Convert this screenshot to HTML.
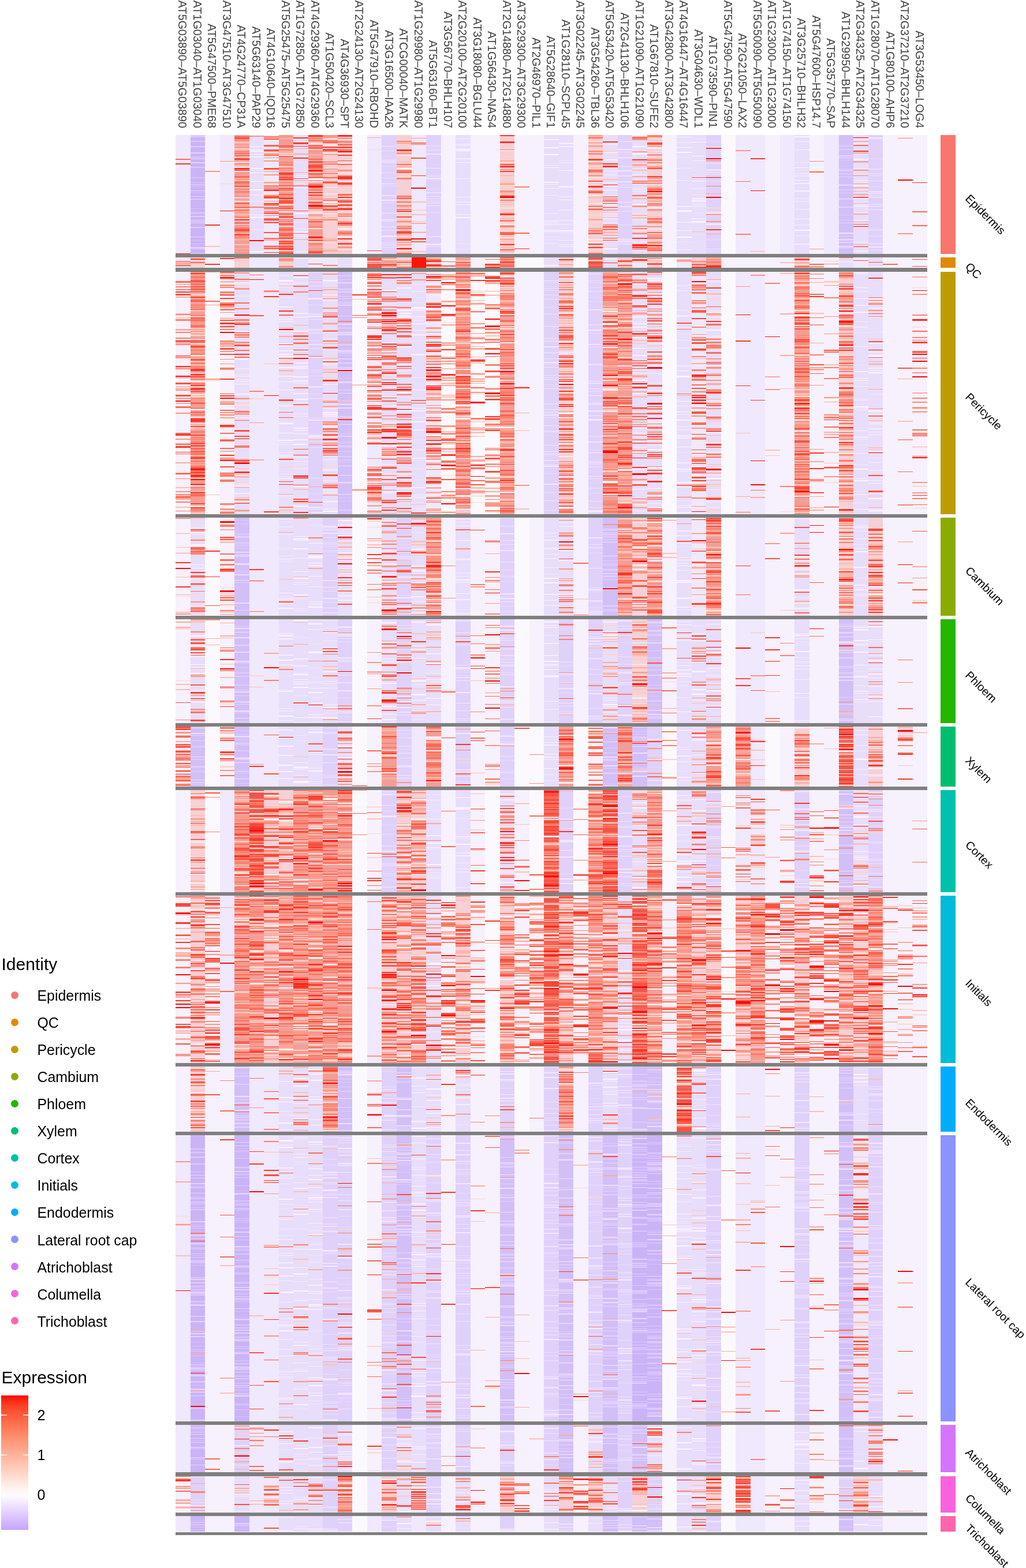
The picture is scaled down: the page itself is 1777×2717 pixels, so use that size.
<!DOCTYPE html>
<html><head><meta charset="utf-8"><style>
html,body{margin:0;padding:0;background:#fff;}
body{width:1777px;height:2717px;position:relative;overflow:hidden;font-family:"Liberation Sans",Arial,Helvetica,sans-serif;}
.cl{position:absolute;top:221.5px;font-size:19.8px;line-height:1;color:#424242;white-space:nowrap;transform-origin:0 0;transform:rotate(90deg) translate(-100%,-50%);}
.rl{position:absolute;left:1674.8px;font-size:19.8px;color:#000;white-space:nowrap;transform-origin:0 50%;transform:translateY(-50%) rotate(45deg);line-height:1;}
.lt{position:absolute;left:2.5px;font-size:30px;color:#000;white-space:nowrap;line-height:1;}
.li{position:absolute;left:64.5px;font-size:24.9px;color:#000;white-space:nowrap;line-height:1;transform:translateY(-50%);}
.dot{position:absolute;left:18.9px;width:13.5px;height:13.5px;border-radius:50%;}
.tk{position:absolute;font-size:25.1px;color:#000;line-height:1;transform:translateY(-50%);left:64.5px;margin-top:1px;}
svg{position:absolute;left:0;top:0;}
</style></head><body>
<svg width="1777" height="2717" viewBox="0 0 1777 2717" shape-rendering="crispEdges">
<defs><linearGradient id="eg" x1="0" y1="0" x2="0" y2="1"><stop offset="0.000" stop-color="#ff0000"/><stop offset="0.050" stop-color="#ff3119"/><stop offset="0.100" stop-color="#ff492b"/><stop offset="0.150" stop-color="#ff5c3b"/><stop offset="0.200" stop-color="#ff6d4b"/><stop offset="0.250" stop-color="#ff7c5b"/><stop offset="0.300" stop-color="#ff8b6b"/><stop offset="0.350" stop-color="#ff997b"/><stop offset="0.400" stop-color="#ffa68b"/><stop offset="0.450" stop-color="#ffb49c"/><stop offset="0.500" stop-color="#ffc1ac"/><stop offset="0.550" stop-color="#ffcebd"/><stop offset="0.600" stop-color="#ffdbce"/><stop offset="0.650" stop-color="#ffe8e0"/><stop offset="0.700" stop-color="#fff5f1"/><stop offset="0.750" stop-color="#fdfbff"/><stop offset="0.800" stop-color="#f3e9ff"/><stop offset="0.850" stop-color="#e8d8ff"/><stop offset="0.900" stop-color="#ddc6ff"/><stop offset="0.950" stop-color="#d2b5ff"/><stop offset="1.000" stop-color="#c6a4ff"/></linearGradient></defs>
<rect x="304.0" y="234.0" width="25.6" height="206.0" fill="#f0e8fc"/>
<rect x="329.5" y="234.0" width="25.6" height="206.0" fill="#cab4f7"/>
<rect x="355.1" y="234.0" width="25.6" height="206.0" fill="#f6f1fd"/>
<rect x="380.6" y="234.0" width="25.6" height="206.0" fill="#f0e8fc"/>
<rect x="406.1" y="234.0" width="25.6" height="206.0" fill="#f29e98"/>
<rect x="431.6" y="234.0" width="25.6" height="206.0" fill="#e8ddfa"/>
<rect x="457.2" y="234.0" width="25.6" height="206.0" fill="#f0e8fc"/>
<rect x="482.7" y="234.0" width="25.6" height="206.0" fill="#f29e98"/>
<rect x="508.2" y="234.0" width="25.6" height="206.0" fill="#e8ddfa"/>
<rect x="533.8" y="234.0" width="25.6" height="206.0" fill="#f29e98"/>
<rect x="559.3" y="234.0" width="25.6" height="206.0" fill="#f6d0d4"/>
<rect x="584.8" y="234.0" width="25.6" height="206.0" fill="#f6d0d4"/>
<rect x="610.4" y="234.0" width="25.6" height="206.0" fill="#fcf9fe"/>
<rect x="635.9" y="234.0" width="25.6" height="206.0" fill="#f0e8fc"/>
<rect x="661.4" y="234.0" width="25.6" height="206.0" fill="#dfd1f9"/>
<rect x="686.9" y="234.0" width="25.6" height="206.0" fill="#f6d0d4"/>
<rect x="712.5" y="234.0" width="25.6" height="206.0" fill="#f0e8fc"/>
<rect x="738.0" y="234.0" width="25.6" height="206.0" fill="#dfd1f9"/>
<rect x="763.5" y="234.0" width="25.6" height="206.0" fill="#f6f1fd"/>
<rect x="789.1" y="234.0" width="25.6" height="206.0" fill="#e8ddfa"/>
<rect x="814.6" y="234.0" width="25.6" height="206.0" fill="#f6f1fd"/>
<rect x="840.1" y="234.0" width="25.6" height="206.0" fill="#f6f1fd"/>
<rect x="865.6" y="234.0" width="25.6" height="206.0" fill="#f6d0d4"/>
<rect x="891.2" y="234.0" width="25.6" height="206.0" fill="#f6f1fd"/>
<rect x="916.7" y="234.0" width="25.6" height="206.0" fill="#f6f1fd"/>
<rect x="942.2" y="234.0" width="25.6" height="206.0" fill="#e8ddfa"/>
<rect x="967.8" y="234.0" width="25.6" height="206.0" fill="#e8ddfa"/>
<rect x="993.3" y="234.0" width="25.6" height="206.0" fill="#f6f1fd"/>
<rect x="1018.8" y="234.0" width="25.6" height="206.0" fill="#f6d0d4"/>
<rect x="1044.4" y="234.0" width="25.6" height="206.0" fill="#e8ddfa"/>
<rect x="1069.9" y="234.0" width="25.6" height="206.0" fill="#dfd1f9"/>
<rect x="1095.4" y="234.0" width="25.6" height="206.0" fill="#e8ddfa"/>
<rect x="1120.9" y="234.0" width="25.6" height="206.0" fill="#f6d0d4"/>
<rect x="1146.5" y="234.0" width="25.6" height="206.0" fill="#f6f1fd"/>
<rect x="1172.0" y="234.0" width="25.6" height="206.0" fill="#e8ddfa"/>
<rect x="1197.5" y="234.0" width="25.6" height="206.0" fill="#e8ddfa"/>
<rect x="1223.1" y="234.0" width="25.6" height="206.0" fill="#dfd1f9"/>
<rect x="1248.6" y="234.0" width="25.6" height="206.0" fill="#fcf9fe"/>
<rect x="1274.1" y="234.0" width="25.6" height="206.0" fill="#f0e8fc"/>
<rect x="1299.6" y="234.0" width="25.6" height="206.0" fill="#f0e8fc"/>
<rect x="1325.2" y="234.0" width="25.6" height="206.0" fill="#f6f1fd"/>
<rect x="1350.7" y="234.0" width="25.6" height="206.0" fill="#f0e8fc"/>
<rect x="1376.2" y="234.0" width="25.6" height="206.0" fill="#e8ddfa"/>
<rect x="1401.8" y="234.0" width="25.6" height="206.0" fill="#f6f1fd"/>
<rect x="1427.3" y="234.0" width="25.6" height="206.0" fill="#f0e8fc"/>
<rect x="1452.8" y="234.0" width="25.6" height="206.0" fill="#d2bff7"/>
<rect x="1478.4" y="234.0" width="25.6" height="206.0" fill="#e8ddfa"/>
<rect x="1503.9" y="234.0" width="25.6" height="206.0" fill="#dfd1f9"/>
<rect x="1529.4" y="234.0" width="25.6" height="206.0" fill="#f6f1fd"/>
<rect x="1554.9" y="234.0" width="25.6" height="206.0" fill="#f6f1fd"/>
<rect x="1580.5" y="234.0" width="25.6" height="206.0" fill="#f6f1fd"/>
<rect x="304.0" y="446.0" width="25.6" height="18.0" fill="#f0e8fc"/>
<rect x="329.5" y="446.0" width="25.6" height="18.0" fill="#f6d0d4"/>
<rect x="355.1" y="446.0" width="25.6" height="18.0" fill="#f6f1fd"/>
<rect x="380.6" y="446.0" width="25.6" height="18.0" fill="#f6f1fd"/>
<rect x="406.1" y="446.0" width="25.6" height="18.0" fill="#f6d0d4"/>
<rect x="431.6" y="446.0" width="25.6" height="18.0" fill="#f0e8fc"/>
<rect x="457.2" y="446.0" width="25.6" height="18.0" fill="#f0e8fc"/>
<rect x="482.7" y="446.0" width="25.6" height="18.0" fill="#f6d0d4"/>
<rect x="508.2" y="446.0" width="25.6" height="18.0" fill="#e8ddfa"/>
<rect x="533.8" y="446.0" width="25.6" height="18.0" fill="#f0e8fc"/>
<rect x="559.3" y="446.0" width="25.6" height="18.0" fill="#f0e8fc"/>
<rect x="584.8" y="446.0" width="25.6" height="18.0" fill="#e8ddfa"/>
<rect x="610.4" y="446.0" width="25.6" height="18.0" fill="#fcf9fe"/>
<rect x="635.9" y="446.0" width="25.6" height="18.0" fill="#ea5850"/>
<rect x="661.4" y="446.0" width="25.6" height="18.0" fill="#f29e98"/>
<rect x="686.9" y="446.0" width="25.6" height="18.0" fill="#f6d0d4"/>
<rect x="712.5" y="446.0" width="25.6" height="18.0" fill="#ff140a"/>
<rect x="738.0" y="446.0" width="25.6" height="18.0" fill="#f6d0d4"/>
<rect x="763.5" y="446.0" width="25.6" height="18.0" fill="#f6f1fd"/>
<rect x="789.1" y="446.0" width="25.6" height="18.0" fill="#f29e98"/>
<rect x="814.6" y="446.0" width="25.6" height="18.0" fill="#f6f1fd"/>
<rect x="840.1" y="446.0" width="25.6" height="18.0" fill="#f6f1fd"/>
<rect x="865.6" y="446.0" width="25.6" height="18.0" fill="#f29e98"/>
<rect x="891.2" y="446.0" width="25.6" height="18.0" fill="#fcf9fe"/>
<rect x="916.7" y="446.0" width="25.6" height="18.0" fill="#fcf9fe"/>
<rect x="942.2" y="446.0" width="25.6" height="18.0" fill="#e8ddfa"/>
<rect x="967.8" y="446.0" width="25.6" height="18.0" fill="#f6d0d4"/>
<rect x="993.3" y="446.0" width="25.6" height="18.0" fill="#fcf9fe"/>
<rect x="1018.8" y="446.0" width="25.6" height="18.0" fill="#ea5850"/>
<rect x="1044.4" y="446.0" width="25.6" height="18.0" fill="#e8ddfa"/>
<rect x="1069.9" y="446.0" width="25.6" height="18.0" fill="#f6d0d4"/>
<rect x="1095.4" y="446.0" width="25.6" height="18.0" fill="#f0e8fc"/>
<rect x="1120.9" y="446.0" width="25.6" height="18.0" fill="#f6d0d4"/>
<rect x="1146.5" y="446.0" width="25.6" height="18.0" fill="#fcf9fe"/>
<rect x="1172.0" y="446.0" width="25.6" height="18.0" fill="#f0e8fc"/>
<rect x="1197.5" y="446.0" width="25.6" height="18.0" fill="#f6d0d4"/>
<rect x="1223.1" y="446.0" width="25.6" height="18.0" fill="#f29e98"/>
<rect x="1248.6" y="446.0" width="25.6" height="18.0" fill="#f6f1fd"/>
<rect x="1274.1" y="446.0" width="25.6" height="18.0" fill="#f6f1fd"/>
<rect x="1299.6" y="446.0" width="25.6" height="18.0" fill="#f6f1fd"/>
<rect x="1325.2" y="446.0" width="25.6" height="18.0" fill="#f6f1fd"/>
<rect x="1350.7" y="446.0" width="25.6" height="18.0" fill="#f6f1fd"/>
<rect x="1376.2" y="446.0" width="25.6" height="18.0" fill="#f6d0d4"/>
<rect x="1401.8" y="446.0" width="25.6" height="18.0" fill="#f6f1fd"/>
<rect x="1427.3" y="446.0" width="25.6" height="18.0" fill="#f6f1fd"/>
<rect x="1452.8" y="446.0" width="25.6" height="18.0" fill="#e8ddfa"/>
<rect x="1478.4" y="446.0" width="25.6" height="18.0" fill="#f0e8fc"/>
<rect x="1503.9" y="446.0" width="25.6" height="18.0" fill="#e8ddfa"/>
<rect x="1529.4" y="446.0" width="25.6" height="18.0" fill="#f6f1fd"/>
<rect x="1554.9" y="446.0" width="25.6" height="18.0" fill="#f6f1fd"/>
<rect x="1580.5" y="446.0" width="25.6" height="18.0" fill="#f6f1fd"/>
<rect x="304.0" y="470.5" width="25.6" height="420.0" fill="#f6f1fd"/>
<rect x="329.5" y="470.5" width="25.6" height="420.0" fill="#f29e98"/>
<rect x="355.1" y="470.5" width="25.6" height="420.0" fill="#fcf9fe"/>
<rect x="380.6" y="470.5" width="25.6" height="420.0" fill="#f6f1fd"/>
<rect x="406.1" y="470.5" width="25.6" height="420.0" fill="#e8ddfa"/>
<rect x="431.6" y="470.5" width="25.6" height="420.0" fill="#f0e8fc"/>
<rect x="457.2" y="470.5" width="25.6" height="420.0" fill="#f0e8fc"/>
<rect x="482.7" y="470.5" width="25.6" height="420.0" fill="#e8ddfa"/>
<rect x="508.2" y="470.5" width="25.6" height="420.0" fill="#e8ddfa"/>
<rect x="533.8" y="470.5" width="25.6" height="420.0" fill="#dfd1f9"/>
<rect x="559.3" y="470.5" width="25.6" height="420.0" fill="#e8ddfa"/>
<rect x="584.8" y="470.5" width="25.6" height="420.0" fill="#d2bff7"/>
<rect x="610.4" y="470.5" width="25.6" height="420.0" fill="#fcf9fe"/>
<rect x="635.9" y="470.5" width="25.6" height="420.0" fill="#f0e8fc"/>
<rect x="661.4" y="470.5" width="25.6" height="420.0" fill="#e8ddfa"/>
<rect x="686.9" y="470.5" width="25.6" height="420.0" fill="#e8ddfa"/>
<rect x="712.5" y="470.5" width="25.6" height="420.0" fill="#e8ddfa"/>
<rect x="738.0" y="470.5" width="25.6" height="420.0" fill="#f0e8fc"/>
<rect x="763.5" y="470.5" width="25.6" height="420.0" fill="#fcf9fe"/>
<rect x="789.1" y="470.5" width="25.6" height="420.0" fill="#f29e98"/>
<rect x="814.6" y="470.5" width="25.6" height="420.0" fill="#fcf9fe"/>
<rect x="840.1" y="470.5" width="25.6" height="420.0" fill="#fcf9fe"/>
<rect x="865.6" y="470.5" width="25.6" height="420.0" fill="#f29e98"/>
<rect x="891.2" y="470.5" width="25.6" height="420.0" fill="#f6f1fd"/>
<rect x="916.7" y="470.5" width="25.6" height="420.0" fill="#f6f1fd"/>
<rect x="942.2" y="470.5" width="25.6" height="420.0" fill="#dfd1f9"/>
<rect x="967.8" y="470.5" width="25.6" height="420.0" fill="#f6d0d4"/>
<rect x="993.3" y="470.5" width="25.6" height="420.0" fill="#f6f1fd"/>
<rect x="1018.8" y="470.5" width="25.6" height="420.0" fill="#dfd1f9"/>
<rect x="1044.4" y="470.5" width="25.6" height="420.0" fill="#f29e98"/>
<rect x="1069.9" y="470.5" width="25.6" height="420.0" fill="#f29e98"/>
<rect x="1095.4" y="470.5" width="25.6" height="420.0" fill="#e8ddfa"/>
<rect x="1120.9" y="470.5" width="25.6" height="420.0" fill="#e8ddfa"/>
<rect x="1146.5" y="470.5" width="25.6" height="420.0" fill="#fcf9fe"/>
<rect x="1172.0" y="470.5" width="25.6" height="420.0" fill="#e8ddfa"/>
<rect x="1197.5" y="470.5" width="25.6" height="420.0" fill="#f0e8fc"/>
<rect x="1223.1" y="470.5" width="25.6" height="420.0" fill="#e8ddfa"/>
<rect x="1248.6" y="470.5" width="25.6" height="420.0" fill="#fcf9fe"/>
<rect x="1274.1" y="470.5" width="25.6" height="420.0" fill="#f0e8fc"/>
<rect x="1299.6" y="470.5" width="25.6" height="420.0" fill="#f0e8fc"/>
<rect x="1325.2" y="470.5" width="25.6" height="420.0" fill="#f6f1fd"/>
<rect x="1350.7" y="470.5" width="25.6" height="420.0" fill="#f6f1fd"/>
<rect x="1376.2" y="470.5" width="25.6" height="420.0" fill="#f29e98"/>
<rect x="1401.8" y="470.5" width="25.6" height="420.0" fill="#f6f1fd"/>
<rect x="1427.3" y="470.5" width="25.6" height="420.0" fill="#f6f1fd"/>
<rect x="1452.8" y="470.5" width="25.6" height="420.0" fill="#f6d0d4"/>
<rect x="1478.4" y="470.5" width="25.6" height="420.0" fill="#e8ddfa"/>
<rect x="1503.9" y="470.5" width="25.6" height="420.0" fill="#e8ddfa"/>
<rect x="1529.4" y="470.5" width="25.6" height="420.0" fill="#f6f1fd"/>
<rect x="1554.9" y="470.5" width="25.6" height="420.0" fill="#f6f1fd"/>
<rect x="1580.5" y="470.5" width="25.6" height="420.0" fill="#f6f1fd"/>
<rect x="304.0" y="896.5" width="25.6" height="170.0" fill="#f6f1fd"/>
<rect x="329.5" y="896.5" width="25.6" height="170.0" fill="#e8ddfa"/>
<rect x="355.1" y="896.5" width="25.6" height="170.0" fill="#fcf9fe"/>
<rect x="380.6" y="896.5" width="25.6" height="170.0" fill="#f6f1fd"/>
<rect x="406.1" y="896.5" width="25.6" height="170.0" fill="#d2bff7"/>
<rect x="431.6" y="896.5" width="25.6" height="170.0" fill="#f0e8fc"/>
<rect x="457.2" y="896.5" width="25.6" height="170.0" fill="#f0e8fc"/>
<rect x="482.7" y="896.5" width="25.6" height="170.0" fill="#e8ddfa"/>
<rect x="508.2" y="896.5" width="25.6" height="170.0" fill="#e8ddfa"/>
<rect x="533.8" y="896.5" width="25.6" height="170.0" fill="#e8ddfa"/>
<rect x="559.3" y="896.5" width="25.6" height="170.0" fill="#dfd1f9"/>
<rect x="584.8" y="896.5" width="25.6" height="170.0" fill="#e8ddfa"/>
<rect x="610.4" y="896.5" width="25.6" height="170.0" fill="#fcf9fe"/>
<rect x="635.9" y="896.5" width="25.6" height="170.0" fill="#f6f1fd"/>
<rect x="661.4" y="896.5" width="25.6" height="170.0" fill="#e8ddfa"/>
<rect x="686.9" y="896.5" width="25.6" height="170.0" fill="#dfd1f9"/>
<rect x="712.5" y="896.5" width="25.6" height="170.0" fill="#e8ddfa"/>
<rect x="738.0" y="896.5" width="25.6" height="170.0" fill="#f29e98"/>
<rect x="763.5" y="896.5" width="25.6" height="170.0" fill="#f6f1fd"/>
<rect x="789.1" y="896.5" width="25.6" height="170.0" fill="#e8ddfa"/>
<rect x="814.6" y="896.5" width="25.6" height="170.0" fill="#f6f1fd"/>
<rect x="840.1" y="896.5" width="25.6" height="170.0" fill="#f6f1fd"/>
<rect x="865.6" y="896.5" width="25.6" height="170.0" fill="#dfd1f9"/>
<rect x="891.2" y="896.5" width="25.6" height="170.0" fill="#fcf9fe"/>
<rect x="916.7" y="896.5" width="25.6" height="170.0" fill="#f6f1fd"/>
<rect x="942.2" y="896.5" width="25.6" height="170.0" fill="#e8ddfa"/>
<rect x="967.8" y="896.5" width="25.6" height="170.0" fill="#e8ddfa"/>
<rect x="993.3" y="896.5" width="25.6" height="170.0" fill="#f6f1fd"/>
<rect x="1018.8" y="896.5" width="25.6" height="170.0" fill="#dfd1f9"/>
<rect x="1044.4" y="896.5" width="25.6" height="170.0" fill="#d2bff7"/>
<rect x="1069.9" y="896.5" width="25.6" height="170.0" fill="#f29e98"/>
<rect x="1095.4" y="896.5" width="25.6" height="170.0" fill="#f6d0d4"/>
<rect x="1120.9" y="896.5" width="25.6" height="170.0" fill="#f29e98"/>
<rect x="1146.5" y="896.5" width="25.6" height="170.0" fill="#f6f1fd"/>
<rect x="1172.0" y="896.5" width="25.6" height="170.0" fill="#e8ddfa"/>
<rect x="1197.5" y="896.5" width="25.6" height="170.0" fill="#f0e8fc"/>
<rect x="1223.1" y="896.5" width="25.6" height="170.0" fill="#f29e98"/>
<rect x="1248.6" y="896.5" width="25.6" height="170.0" fill="#fcf9fe"/>
<rect x="1274.1" y="896.5" width="25.6" height="170.0" fill="#f0e8fc"/>
<rect x="1299.6" y="896.5" width="25.6" height="170.0" fill="#f0e8fc"/>
<rect x="1325.2" y="896.5" width="25.6" height="170.0" fill="#f6f1fd"/>
<rect x="1350.7" y="896.5" width="25.6" height="170.0" fill="#f6f1fd"/>
<rect x="1376.2" y="896.5" width="25.6" height="170.0" fill="#e8ddfa"/>
<rect x="1401.8" y="896.5" width="25.6" height="170.0" fill="#f6f1fd"/>
<rect x="1427.3" y="896.5" width="25.6" height="170.0" fill="#f6f1fd"/>
<rect x="1452.8" y="896.5" width="25.6" height="170.0" fill="#f6d0d4"/>
<rect x="1478.4" y="896.5" width="25.6" height="170.0" fill="#e8ddfa"/>
<rect x="1503.9" y="896.5" width="25.6" height="170.0" fill="#f6d0d4"/>
<rect x="1529.4" y="896.5" width="25.6" height="170.0" fill="#f6f1fd"/>
<rect x="1554.9" y="896.5" width="25.6" height="170.0" fill="#f6f1fd"/>
<rect x="1580.5" y="896.5" width="25.6" height="170.0" fill="#f6f1fd"/>
<rect x="304.0" y="1072.5" width="25.6" height="180.0" fill="#f6f1fd"/>
<rect x="329.5" y="1072.5" width="25.6" height="180.0" fill="#e8ddfa"/>
<rect x="355.1" y="1072.5" width="25.6" height="180.0" fill="#fcf9fe"/>
<rect x="380.6" y="1072.5" width="25.6" height="180.0" fill="#f6f1fd"/>
<rect x="406.1" y="1072.5" width="25.6" height="180.0" fill="#d2bff7"/>
<rect x="431.6" y="1072.5" width="25.6" height="180.0" fill="#f0e8fc"/>
<rect x="457.2" y="1072.5" width="25.6" height="180.0" fill="#f0e8fc"/>
<rect x="482.7" y="1072.5" width="25.6" height="180.0" fill="#e8ddfa"/>
<rect x="508.2" y="1072.5" width="25.6" height="180.0" fill="#e8ddfa"/>
<rect x="533.8" y="1072.5" width="25.6" height="180.0" fill="#e8ddfa"/>
<rect x="559.3" y="1072.5" width="25.6" height="180.0" fill="#e8ddfa"/>
<rect x="584.8" y="1072.5" width="25.6" height="180.0" fill="#dfd1f9"/>
<rect x="610.4" y="1072.5" width="25.6" height="180.0" fill="#fcf9fe"/>
<rect x="635.9" y="1072.5" width="25.6" height="180.0" fill="#f6f1fd"/>
<rect x="661.4" y="1072.5" width="25.6" height="180.0" fill="#e8ddfa"/>
<rect x="686.9" y="1072.5" width="25.6" height="180.0" fill="#dfd1f9"/>
<rect x="712.5" y="1072.5" width="25.6" height="180.0" fill="#e8ddfa"/>
<rect x="738.0" y="1072.5" width="25.6" height="180.0" fill="#e8ddfa"/>
<rect x="763.5" y="1072.5" width="25.6" height="180.0" fill="#f6f1fd"/>
<rect x="789.1" y="1072.5" width="25.6" height="180.0" fill="#dfd1f9"/>
<rect x="814.6" y="1072.5" width="25.6" height="180.0" fill="#f6f1fd"/>
<rect x="840.1" y="1072.5" width="25.6" height="180.0" fill="#f6f1fd"/>
<rect x="865.6" y="1072.5" width="25.6" height="180.0" fill="#dfd1f9"/>
<rect x="891.2" y="1072.5" width="25.6" height="180.0" fill="#fcf9fe"/>
<rect x="916.7" y="1072.5" width="25.6" height="180.0" fill="#f6f1fd"/>
<rect x="942.2" y="1072.5" width="25.6" height="180.0" fill="#e8ddfa"/>
<rect x="967.8" y="1072.5" width="25.6" height="180.0" fill="#dfd1f9"/>
<rect x="993.3" y="1072.5" width="25.6" height="180.0" fill="#f6f1fd"/>
<rect x="1018.8" y="1072.5" width="25.6" height="180.0" fill="#dfd1f9"/>
<rect x="1044.4" y="1072.5" width="25.6" height="180.0" fill="#e8ddfa"/>
<rect x="1069.9" y="1072.5" width="25.6" height="180.0" fill="#dfd1f9"/>
<rect x="1095.4" y="1072.5" width="25.6" height="180.0" fill="#f6d0d4"/>
<rect x="1120.9" y="1072.5" width="25.6" height="180.0" fill="#d2bff7"/>
<rect x="1146.5" y="1072.5" width="25.6" height="180.0" fill="#f6f1fd"/>
<rect x="1172.0" y="1072.5" width="25.6" height="180.0" fill="#e8ddfa"/>
<rect x="1197.5" y="1072.5" width="25.6" height="180.0" fill="#e8ddfa"/>
<rect x="1223.1" y="1072.5" width="25.6" height="180.0" fill="#e8ddfa"/>
<rect x="1248.6" y="1072.5" width="25.6" height="180.0" fill="#fcf9fe"/>
<rect x="1274.1" y="1072.5" width="25.6" height="180.0" fill="#f0e8fc"/>
<rect x="1299.6" y="1072.5" width="25.6" height="180.0" fill="#f0e8fc"/>
<rect x="1325.2" y="1072.5" width="25.6" height="180.0" fill="#f6f1fd"/>
<rect x="1350.7" y="1072.5" width="25.6" height="180.0" fill="#f6f1fd"/>
<rect x="1376.2" y="1072.5" width="25.6" height="180.0" fill="#e8ddfa"/>
<rect x="1401.8" y="1072.5" width="25.6" height="180.0" fill="#f6f1fd"/>
<rect x="1427.3" y="1072.5" width="25.6" height="180.0" fill="#f6f1fd"/>
<rect x="1452.8" y="1072.5" width="25.6" height="180.0" fill="#d2bff7"/>
<rect x="1478.4" y="1072.5" width="25.6" height="180.0" fill="#e8ddfa"/>
<rect x="1503.9" y="1072.5" width="25.6" height="180.0" fill="#e8ddfa"/>
<rect x="1529.4" y="1072.5" width="25.6" height="180.0" fill="#f6f1fd"/>
<rect x="1554.9" y="1072.5" width="25.6" height="180.0" fill="#f6f1fd"/>
<rect x="1580.5" y="1072.5" width="25.6" height="180.0" fill="#f6f1fd"/>
<rect x="304.0" y="1258.5" width="25.6" height="104.0" fill="#f6f1fd"/>
<rect x="329.5" y="1258.5" width="25.6" height="104.0" fill="#d2bff7"/>
<rect x="355.1" y="1258.5" width="25.6" height="104.0" fill="#fcf9fe"/>
<rect x="380.6" y="1258.5" width="25.6" height="104.0" fill="#f6f1fd"/>
<rect x="406.1" y="1258.5" width="25.6" height="104.0" fill="#d2bff7"/>
<rect x="431.6" y="1258.5" width="25.6" height="104.0" fill="#f0e8fc"/>
<rect x="457.2" y="1258.5" width="25.6" height="104.0" fill="#f0e8fc"/>
<rect x="482.7" y="1258.5" width="25.6" height="104.0" fill="#e8ddfa"/>
<rect x="508.2" y="1258.5" width="25.6" height="104.0" fill="#e8ddfa"/>
<rect x="533.8" y="1258.5" width="25.6" height="104.0" fill="#e8ddfa"/>
<rect x="559.3" y="1258.5" width="25.6" height="104.0" fill="#dfd1f9"/>
<rect x="584.8" y="1258.5" width="25.6" height="104.0" fill="#e8ddfa"/>
<rect x="610.4" y="1258.5" width="25.6" height="104.0" fill="#fcf9fe"/>
<rect x="635.9" y="1258.5" width="25.6" height="104.0" fill="#f6f1fd"/>
<rect x="661.4" y="1258.5" width="25.6" height="104.0" fill="#f29e98"/>
<rect x="686.9" y="1258.5" width="25.6" height="104.0" fill="#dfd1f9"/>
<rect x="712.5" y="1258.5" width="25.6" height="104.0" fill="#f0e8fc"/>
<rect x="738.0" y="1258.5" width="25.6" height="104.0" fill="#f29e98"/>
<rect x="763.5" y="1258.5" width="25.6" height="104.0" fill="#f6f1fd"/>
<rect x="789.1" y="1258.5" width="25.6" height="104.0" fill="#dfd1f9"/>
<rect x="814.6" y="1258.5" width="25.6" height="104.0" fill="#f6f1fd"/>
<rect x="840.1" y="1258.5" width="25.6" height="104.0" fill="#f6f1fd"/>
<rect x="865.6" y="1258.5" width="25.6" height="104.0" fill="#dfd1f9"/>
<rect x="891.2" y="1258.5" width="25.6" height="104.0" fill="#fcf9fe"/>
<rect x="916.7" y="1258.5" width="25.6" height="104.0" fill="#fcf9fe"/>
<rect x="942.2" y="1258.5" width="25.6" height="104.0" fill="#e8ddfa"/>
<rect x="967.8" y="1258.5" width="25.6" height="104.0" fill="#f29e98"/>
<rect x="993.3" y="1258.5" width="25.6" height="104.0" fill="#fcf9fe"/>
<rect x="1018.8" y="1258.5" width="25.6" height="104.0" fill="#f6f1fd"/>
<rect x="1044.4" y="1258.5" width="25.6" height="104.0" fill="#d2bff7"/>
<rect x="1069.9" y="1258.5" width="25.6" height="104.0" fill="#f29e98"/>
<rect x="1095.4" y="1258.5" width="25.6" height="104.0" fill="#d2bff7"/>
<rect x="1120.9" y="1258.5" width="25.6" height="104.0" fill="#dfd1f9"/>
<rect x="1146.5" y="1258.5" width="25.6" height="104.0" fill="#fcf9fe"/>
<rect x="1172.0" y="1258.5" width="25.6" height="104.0" fill="#e8ddfa"/>
<rect x="1197.5" y="1258.5" width="25.6" height="104.0" fill="#e8ddfa"/>
<rect x="1223.1" y="1258.5" width="25.6" height="104.0" fill="#f29e98"/>
<rect x="1248.6" y="1258.5" width="25.6" height="104.0" fill="#fcf9fe"/>
<rect x="1274.1" y="1258.5" width="25.6" height="104.0" fill="#f29e98"/>
<rect x="1299.6" y="1258.5" width="25.6" height="104.0" fill="#f0e8fc"/>
<rect x="1325.2" y="1258.5" width="25.6" height="104.0" fill="#fcf9fe"/>
<rect x="1350.7" y="1258.5" width="25.6" height="104.0" fill="#f6f1fd"/>
<rect x="1376.2" y="1258.5" width="25.6" height="104.0" fill="#f6d0d4"/>
<rect x="1401.8" y="1258.5" width="25.6" height="104.0" fill="#f6f1fd"/>
<rect x="1427.3" y="1258.5" width="25.6" height="104.0" fill="#f6f1fd"/>
<rect x="1452.8" y="1258.5" width="25.6" height="104.0" fill="#ea5850"/>
<rect x="1478.4" y="1258.5" width="25.6" height="104.0" fill="#e8ddfa"/>
<rect x="1503.9" y="1258.5" width="25.6" height="104.0" fill="#f6d0d4"/>
<rect x="1529.4" y="1258.5" width="25.6" height="104.0" fill="#f6f1fd"/>
<rect x="1554.9" y="1258.5" width="25.6" height="26.0" fill="#f6d0d4"/>
<rect x="1554.9" y="1284.5" width="25.6" height="78.0" fill="#f6f1fd"/>
<rect x="1580.5" y="1258.5" width="25.6" height="104.0" fill="#f6f1fd"/>
<rect x="304.0" y="1368.5" width="25.6" height="177.0" fill="#f6f1fd"/>
<rect x="329.5" y="1368.5" width="25.6" height="177.0" fill="#f6d0d4"/>
<rect x="355.1" y="1368.5" width="25.6" height="177.0" fill="#fcf9fe"/>
<rect x="380.6" y="1368.5" width="25.6" height="177.0" fill="#f0e8fc"/>
<rect x="406.1" y="1368.5" width="25.6" height="177.0" fill="#f29e98"/>
<rect x="431.6" y="1368.5" width="25.6" height="177.0" fill="#ea5850"/>
<rect x="457.2" y="1368.5" width="25.6" height="177.0" fill="#f6d0d4"/>
<rect x="482.7" y="1368.5" width="25.6" height="177.0" fill="#f6d0d4"/>
<rect x="508.2" y="1368.5" width="25.6" height="177.0" fill="#f29e98"/>
<rect x="533.8" y="1368.5" width="25.6" height="177.0" fill="#f29e98"/>
<rect x="559.3" y="1368.5" width="25.6" height="177.0" fill="#f29e98"/>
<rect x="584.8" y="1368.5" width="25.6" height="177.0" fill="#f29e98"/>
<rect x="610.4" y="1368.5" width="25.6" height="177.0" fill="#fcf9fe"/>
<rect x="635.9" y="1368.5" width="25.6" height="177.0" fill="#f6f1fd"/>
<rect x="661.4" y="1368.5" width="25.6" height="177.0" fill="#dfd1f9"/>
<rect x="686.9" y="1368.5" width="25.6" height="177.0" fill="#f6d0d4"/>
<rect x="712.5" y="1368.5" width="25.6" height="177.0" fill="#f6d0d4"/>
<rect x="738.0" y="1368.5" width="25.6" height="177.0" fill="#e8ddfa"/>
<rect x="763.5" y="1368.5" width="25.6" height="177.0" fill="#f6f1fd"/>
<rect x="789.1" y="1368.5" width="25.6" height="177.0" fill="#e8ddfa"/>
<rect x="814.6" y="1368.5" width="25.6" height="177.0" fill="#f6f1fd"/>
<rect x="840.1" y="1368.5" width="25.6" height="177.0" fill="#fcf9fe"/>
<rect x="865.6" y="1368.5" width="25.6" height="177.0" fill="#e8ddfa"/>
<rect x="891.2" y="1368.5" width="25.6" height="177.0" fill="#f6f1fd"/>
<rect x="916.7" y="1368.5" width="25.6" height="177.0" fill="#fcf9fe"/>
<rect x="942.2" y="1368.5" width="25.6" height="177.0" fill="#ea5850"/>
<rect x="967.8" y="1368.5" width="25.6" height="177.0" fill="#dfd1f9"/>
<rect x="993.3" y="1368.5" width="25.6" height="177.0" fill="#fcf9fe"/>
<rect x="1018.8" y="1368.5" width="25.6" height="177.0" fill="#f29e98"/>
<rect x="1044.4" y="1368.5" width="25.6" height="177.0" fill="#ea5850"/>
<rect x="1069.9" y="1368.5" width="25.6" height="177.0" fill="#dfd1f9"/>
<rect x="1095.4" y="1368.5" width="25.6" height="177.0" fill="#e8ddfa"/>
<rect x="1120.9" y="1368.5" width="25.6" height="177.0" fill="#f29e98"/>
<rect x="1146.5" y="1368.5" width="25.6" height="177.0" fill="#fcf9fe"/>
<rect x="1172.0" y="1368.5" width="25.6" height="177.0" fill="#e8ddfa"/>
<rect x="1197.5" y="1368.5" width="25.6" height="177.0" fill="#e8ddfa"/>
<rect x="1223.1" y="1368.5" width="25.6" height="177.0" fill="#dfd1f9"/>
<rect x="1248.6" y="1368.5" width="25.6" height="177.0" fill="#fcf9fe"/>
<rect x="1274.1" y="1368.5" width="25.6" height="177.0" fill="#f0e8fc"/>
<rect x="1299.6" y="1368.5" width="25.6" height="177.0" fill="#f0e8fc"/>
<rect x="1325.2" y="1368.5" width="25.6" height="177.0" fill="#f6f1fd"/>
<rect x="1350.7" y="1368.5" width="25.6" height="177.0" fill="#f6f1fd"/>
<rect x="1376.2" y="1368.5" width="25.6" height="177.0" fill="#dfd1f9"/>
<rect x="1401.8" y="1368.5" width="25.6" height="177.0" fill="#f6f1fd"/>
<rect x="1427.3" y="1368.5" width="25.6" height="177.0" fill="#f6f1fd"/>
<rect x="1452.8" y="1368.5" width="25.6" height="177.0" fill="#d2bff7"/>
<rect x="1478.4" y="1368.5" width="25.6" height="177.0" fill="#e8ddfa"/>
<rect x="1503.9" y="1368.5" width="25.6" height="177.0" fill="#dfd1f9"/>
<rect x="1529.4" y="1368.5" width="25.6" height="177.0" fill="#f6f1fd"/>
<rect x="1554.9" y="1368.5" width="25.6" height="177.0" fill="#f6f1fd"/>
<rect x="1580.5" y="1368.5" width="25.6" height="177.0" fill="#f6f1fd"/>
<rect x="304.0" y="1551.5" width="25.6" height="290.0" fill="#f6f1fd"/>
<rect x="329.5" y="1551.5" width="25.6" height="290.0" fill="#f6d0d4"/>
<rect x="355.1" y="1551.5" width="25.6" height="290.0" fill="#f6f1fd"/>
<rect x="380.6" y="1551.5" width="25.6" height="290.0" fill="#f0e8fc"/>
<rect x="406.1" y="1551.5" width="25.6" height="290.0" fill="#f29e98"/>
<rect x="431.6" y="1551.5" width="25.6" height="290.0" fill="#f29e98"/>
<rect x="457.2" y="1551.5" width="25.6" height="290.0" fill="#f6d0d4"/>
<rect x="482.7" y="1551.5" width="25.6" height="290.0" fill="#f29e98"/>
<rect x="508.2" y="1551.5" width="25.6" height="290.0" fill="#f29e98"/>
<rect x="533.8" y="1551.5" width="25.6" height="290.0" fill="#f29e98"/>
<rect x="559.3" y="1551.5" width="25.6" height="290.0" fill="#f29e98"/>
<rect x="584.8" y="1551.5" width="25.6" height="290.0" fill="#f29e98"/>
<rect x="610.4" y="1551.5" width="25.6" height="290.0" fill="#fcf9fe"/>
<rect x="635.9" y="1551.5" width="25.6" height="290.0" fill="#f0e8fc"/>
<rect x="661.4" y="1551.5" width="25.6" height="290.0" fill="#f6d0d4"/>
<rect x="686.9" y="1551.5" width="25.6" height="290.0" fill="#f6d0d4"/>
<rect x="712.5" y="1551.5" width="25.6" height="290.0" fill="#f6d0d4"/>
<rect x="738.0" y="1551.5" width="25.6" height="290.0" fill="#e8ddfa"/>
<rect x="763.5" y="1551.5" width="25.6" height="290.0" fill="#f6f1fd"/>
<rect x="789.1" y="1551.5" width="25.6" height="290.0" fill="#f6d0d4"/>
<rect x="814.6" y="1551.5" width="25.6" height="290.0" fill="#f6f1fd"/>
<rect x="840.1" y="1551.5" width="25.6" height="290.0" fill="#fcf9fe"/>
<rect x="865.6" y="1551.5" width="25.6" height="290.0" fill="#f6d0d4"/>
<rect x="891.2" y="1551.5" width="25.6" height="290.0" fill="#f6f1fd"/>
<rect x="916.7" y="1551.5" width="25.6" height="290.0" fill="#f6f1fd"/>
<rect x="942.2" y="1551.5" width="25.6" height="290.0" fill="#ea5850"/>
<rect x="967.8" y="1551.5" width="25.6" height="290.0" fill="#f6d0d4"/>
<rect x="993.3" y="1551.5" width="25.6" height="290.0" fill="#f6f1fd"/>
<rect x="1018.8" y="1551.5" width="25.6" height="290.0" fill="#f29e98"/>
<rect x="1044.4" y="1551.5" width="25.6" height="290.0" fill="#f6d0d4"/>
<rect x="1069.9" y="1551.5" width="25.6" height="290.0" fill="#e8ddfa"/>
<rect x="1095.4" y="1551.5" width="25.6" height="290.0" fill="#ea5850"/>
<rect x="1120.9" y="1551.5" width="25.6" height="290.0" fill="#f29e98"/>
<rect x="1146.5" y="1551.5" width="25.6" height="290.0" fill="#f6f1fd"/>
<rect x="1172.0" y="1551.5" width="25.6" height="290.0" fill="#f29e98"/>
<rect x="1197.5" y="1551.5" width="25.6" height="290.0" fill="#f6d0d4"/>
<rect x="1223.1" y="1551.5" width="25.6" height="290.0" fill="#f6d0d4"/>
<rect x="1248.6" y="1551.5" width="25.6" height="290.0" fill="#fcf9fe"/>
<rect x="1274.1" y="1551.5" width="25.6" height="290.0" fill="#f6d0d4"/>
<rect x="1299.6" y="1551.5" width="25.6" height="290.0" fill="#f29e98"/>
<rect x="1325.2" y="1551.5" width="25.6" height="290.0" fill="#f6f1fd"/>
<rect x="1350.7" y="1551.5" width="25.6" height="290.0" fill="#f6f1fd"/>
<rect x="1376.2" y="1551.5" width="25.6" height="290.0" fill="#f6d0d4"/>
<rect x="1401.8" y="1551.5" width="25.6" height="290.0" fill="#f6f1fd"/>
<rect x="1427.3" y="1551.5" width="25.6" height="290.0" fill="#f6f1fd"/>
<rect x="1452.8" y="1551.5" width="25.6" height="290.0" fill="#f6d0d4"/>
<rect x="1478.4" y="1551.5" width="25.6" height="290.0" fill="#f6d0d4"/>
<rect x="1503.9" y="1551.5" width="25.6" height="290.0" fill="#f29e98"/>
<rect x="1529.4" y="1551.5" width="25.6" height="290.0" fill="#f6f1fd"/>
<rect x="1554.9" y="1551.5" width="25.6" height="290.0" fill="#f6f1fd"/>
<rect x="1580.5" y="1551.5" width="25.6" height="290.0" fill="#f6f1fd"/>
<rect x="304.0" y="1847.5" width="25.6" height="113.0" fill="#f6f1fd"/>
<rect x="329.5" y="1847.5" width="25.6" height="113.0" fill="#f6d0d4"/>
<rect x="355.1" y="1847.5" width="25.6" height="113.0" fill="#f6f1fd"/>
<rect x="380.6" y="1847.5" width="25.6" height="113.0" fill="#f6f1fd"/>
<rect x="406.1" y="1847.5" width="25.6" height="113.0" fill="#d2bff7"/>
<rect x="431.6" y="1847.5" width="25.6" height="113.0" fill="#f0e8fc"/>
<rect x="457.2" y="1847.5" width="25.6" height="113.0" fill="#f0e8fc"/>
<rect x="482.7" y="1847.5" width="25.6" height="113.0" fill="#e8ddfa"/>
<rect x="508.2" y="1847.5" width="25.6" height="113.0" fill="#e8ddfa"/>
<rect x="533.8" y="1847.5" width="25.6" height="113.0" fill="#e8ddfa"/>
<rect x="559.3" y="1847.5" width="25.6" height="113.0" fill="#f29e98"/>
<rect x="584.8" y="1847.5" width="25.6" height="113.0" fill="#d2bff7"/>
<rect x="610.4" y="1847.5" width="25.6" height="113.0" fill="#fcf9fe"/>
<rect x="635.9" y="1847.5" width="25.6" height="113.0" fill="#f6f1fd"/>
<rect x="661.4" y="1847.5" width="25.6" height="113.0" fill="#dfd1f9"/>
<rect x="686.9" y="1847.5" width="25.6" height="113.0" fill="#d2bff7"/>
<rect x="712.5" y="1847.5" width="25.6" height="113.0" fill="#e8ddfa"/>
<rect x="738.0" y="1847.5" width="25.6" height="113.0" fill="#e8ddfa"/>
<rect x="763.5" y="1847.5" width="25.6" height="113.0" fill="#f6f1fd"/>
<rect x="789.1" y="1847.5" width="25.6" height="113.0" fill="#e8ddfa"/>
<rect x="814.6" y="1847.5" width="25.6" height="113.0" fill="#f6f1fd"/>
<rect x="840.1" y="1847.5" width="25.6" height="113.0" fill="#f6f1fd"/>
<rect x="865.6" y="1847.5" width="25.6" height="113.0" fill="#dfd1f9"/>
<rect x="891.2" y="1847.5" width="25.6" height="113.0" fill="#fcf9fe"/>
<rect x="916.7" y="1847.5" width="25.6" height="113.0" fill="#f6f1fd"/>
<rect x="942.2" y="1847.5" width="25.6" height="113.0" fill="#dfd1f9"/>
<rect x="967.8" y="1847.5" width="25.6" height="113.0" fill="#f29e98"/>
<rect x="993.3" y="1847.5" width="25.6" height="113.0" fill="#f6f1fd"/>
<rect x="1018.8" y="1847.5" width="25.6" height="113.0" fill="#dfd1f9"/>
<rect x="1044.4" y="1847.5" width="25.6" height="113.0" fill="#e8ddfa"/>
<rect x="1069.9" y="1847.5" width="25.6" height="113.0" fill="#dfd1f9"/>
<rect x="1095.4" y="1847.5" width="25.6" height="113.0" fill="#d2bff7"/>
<rect x="1120.9" y="1847.5" width="25.6" height="113.0" fill="#d2bff7"/>
<rect x="1146.5" y="1847.5" width="25.6" height="113.0" fill="#fcf9fe"/>
<rect x="1172.0" y="1847.5" width="25.6" height="113.0" fill="#ea5850"/>
<rect x="1197.5" y="1847.5" width="25.6" height="113.0" fill="#e8ddfa"/>
<rect x="1223.1" y="1847.5" width="25.6" height="113.0" fill="#dfd1f9"/>
<rect x="1248.6" y="1847.5" width="25.6" height="113.0" fill="#fcf9fe"/>
<rect x="1274.1" y="1847.5" width="25.6" height="113.0" fill="#f0e8fc"/>
<rect x="1299.6" y="1847.5" width="25.6" height="113.0" fill="#f0e8fc"/>
<rect x="1325.2" y="1847.5" width="25.6" height="113.0" fill="#f6f1fd"/>
<rect x="1350.7" y="1847.5" width="25.6" height="113.0" fill="#f6f1fd"/>
<rect x="1376.2" y="1847.5" width="25.6" height="113.0" fill="#dfd1f9"/>
<rect x="1401.8" y="1847.5" width="25.6" height="113.0" fill="#f6f1fd"/>
<rect x="1427.3" y="1847.5" width="25.6" height="113.0" fill="#f6f1fd"/>
<rect x="1452.8" y="1847.5" width="25.6" height="113.0" fill="#d2bff7"/>
<rect x="1478.4" y="1847.5" width="25.6" height="113.0" fill="#e8ddfa"/>
<rect x="1503.9" y="1847.5" width="25.6" height="113.0" fill="#dfd1f9"/>
<rect x="1529.4" y="1847.5" width="25.6" height="113.0" fill="#f6f1fd"/>
<rect x="1554.9" y="1847.5" width="25.6" height="113.0" fill="#f6f1fd"/>
<rect x="1580.5" y="1847.5" width="25.6" height="113.0" fill="#f6f1fd"/>
<rect x="304.0" y="1966.5" width="25.6" height="496.0" fill="#f0e8fc"/>
<rect x="329.5" y="1966.5" width="25.6" height="496.0" fill="#cab4f7"/>
<rect x="355.1" y="1966.5" width="25.6" height="496.0" fill="#f6f1fd"/>
<rect x="380.6" y="1966.5" width="25.6" height="496.0" fill="#f6f1fd"/>
<rect x="406.1" y="1966.5" width="25.6" height="496.0" fill="#cab4f7"/>
<rect x="431.6" y="1966.5" width="25.6" height="496.0" fill="#f0e8fc"/>
<rect x="457.2" y="1966.5" width="25.6" height="496.0" fill="#f0e8fc"/>
<rect x="482.7" y="1966.5" width="25.6" height="496.0" fill="#e8ddfa"/>
<rect x="508.2" y="1966.5" width="25.6" height="496.0" fill="#e8ddfa"/>
<rect x="533.8" y="1966.5" width="25.6" height="496.0" fill="#e8ddfa"/>
<rect x="559.3" y="1966.5" width="25.6" height="496.0" fill="#dfd1f9"/>
<rect x="584.8" y="1966.5" width="25.6" height="496.0" fill="#dfd1f9"/>
<rect x="610.4" y="1966.5" width="25.6" height="496.0" fill="#fcf9fe"/>
<rect x="635.9" y="1966.5" width="25.6" height="496.0" fill="#f6f1fd"/>
<rect x="661.4" y="1966.5" width="25.6" height="496.0" fill="#dfd1f9"/>
<rect x="686.9" y="1966.5" width="25.6" height="496.0" fill="#d2bff7"/>
<rect x="712.5" y="1966.5" width="25.6" height="496.0" fill="#e8ddfa"/>
<rect x="738.0" y="1966.5" width="25.6" height="496.0" fill="#dfd1f9"/>
<rect x="763.5" y="1966.5" width="25.6" height="496.0" fill="#f6f1fd"/>
<rect x="789.1" y="1966.5" width="25.6" height="496.0" fill="#dfd1f9"/>
<rect x="814.6" y="1966.5" width="25.6" height="496.0" fill="#f6f1fd"/>
<rect x="840.1" y="1966.5" width="25.6" height="496.0" fill="#f6f1fd"/>
<rect x="865.6" y="1966.5" width="25.6" height="496.0" fill="#d2bff7"/>
<rect x="891.2" y="1966.5" width="25.6" height="496.0" fill="#f6f1fd"/>
<rect x="916.7" y="1966.5" width="25.6" height="496.0" fill="#f6f1fd"/>
<rect x="942.2" y="1966.5" width="25.6" height="496.0" fill="#dfd1f9"/>
<rect x="967.8" y="1966.5" width="25.6" height="496.0" fill="#d2bff7"/>
<rect x="993.3" y="1966.5" width="25.6" height="496.0" fill="#f6f1fd"/>
<rect x="1018.8" y="1966.5" width="25.6" height="496.0" fill="#dfd1f9"/>
<rect x="1044.4" y="1966.5" width="25.6" height="496.0" fill="#d2bff7"/>
<rect x="1069.9" y="1966.5" width="25.6" height="496.0" fill="#dfd1f9"/>
<rect x="1095.4" y="1966.5" width="25.6" height="496.0" fill="#cab4f7"/>
<rect x="1120.9" y="1966.5" width="25.6" height="496.0" fill="#cab4f7"/>
<rect x="1146.5" y="1966.5" width="25.6" height="496.0" fill="#fcf9fe"/>
<rect x="1172.0" y="1966.5" width="25.6" height="496.0" fill="#e8ddfa"/>
<rect x="1197.5" y="1966.5" width="25.6" height="496.0" fill="#e8ddfa"/>
<rect x="1223.1" y="1966.5" width="25.6" height="496.0" fill="#dfd1f9"/>
<rect x="1248.6" y="1966.5" width="25.6" height="496.0" fill="#fcf9fe"/>
<rect x="1274.1" y="1966.5" width="25.6" height="496.0" fill="#f0e8fc"/>
<rect x="1299.6" y="1966.5" width="25.6" height="496.0" fill="#f0e8fc"/>
<rect x="1325.2" y="1966.5" width="25.6" height="496.0" fill="#f6f1fd"/>
<rect x="1350.7" y="1966.5" width="25.6" height="496.0" fill="#f6f1fd"/>
<rect x="1376.2" y="1966.5" width="25.6" height="496.0" fill="#dfd1f9"/>
<rect x="1401.8" y="1966.5" width="25.6" height="496.0" fill="#f6f1fd"/>
<rect x="1427.3" y="1966.5" width="25.6" height="496.0" fill="#f6f1fd"/>
<rect x="1452.8" y="1966.5" width="25.6" height="496.0" fill="#d2bff7"/>
<rect x="1478.4" y="1966.5" width="25.6" height="496.0" fill="#f0e8fc"/>
<rect x="1503.9" y="1966.5" width="25.6" height="496.0" fill="#dfd1f9"/>
<rect x="1529.4" y="1966.5" width="25.6" height="496.0" fill="#f6f1fd"/>
<rect x="1554.9" y="1966.5" width="25.6" height="496.0" fill="#f6f1fd"/>
<rect x="1580.5" y="1966.5" width="25.6" height="496.0" fill="#f6f1fd"/>
<rect x="304.0" y="2468.5" width="25.6" height="82.0" fill="#f0e8fc"/>
<rect x="329.5" y="2468.5" width="25.6" height="82.0" fill="#cab4f7"/>
<rect x="355.1" y="2468.5" width="25.6" height="82.0" fill="#f6f1fd"/>
<rect x="380.6" y="2468.5" width="25.6" height="82.0" fill="#f6f1fd"/>
<rect x="406.1" y="2468.5" width="25.6" height="82.0" fill="#dfd1f9"/>
<rect x="431.6" y="2468.5" width="25.6" height="82.0" fill="#f0e8fc"/>
<rect x="457.2" y="2468.5" width="25.6" height="82.0" fill="#f0e8fc"/>
<rect x="482.7" y="2468.5" width="25.6" height="82.0" fill="#e8ddfa"/>
<rect x="508.2" y="2468.5" width="25.6" height="82.0" fill="#e8ddfa"/>
<rect x="533.8" y="2468.5" width="25.6" height="82.0" fill="#e8ddfa"/>
<rect x="559.3" y="2468.5" width="25.6" height="82.0" fill="#dfd1f9"/>
<rect x="584.8" y="2468.5" width="25.6" height="82.0" fill="#e8ddfa"/>
<rect x="610.4" y="2468.5" width="25.6" height="82.0" fill="#fcf9fe"/>
<rect x="635.9" y="2468.5" width="25.6" height="82.0" fill="#f6f1fd"/>
<rect x="661.4" y="2468.5" width="25.6" height="82.0" fill="#dfd1f9"/>
<rect x="686.9" y="2468.5" width="25.6" height="82.0" fill="#e8ddfa"/>
<rect x="712.5" y="2468.5" width="25.6" height="82.0" fill="#e8ddfa"/>
<rect x="738.0" y="2468.5" width="25.6" height="82.0" fill="#dfd1f9"/>
<rect x="763.5" y="2468.5" width="25.6" height="82.0" fill="#f6f1fd"/>
<rect x="789.1" y="2468.5" width="25.6" height="82.0" fill="#dfd1f9"/>
<rect x="814.6" y="2468.5" width="25.6" height="82.0" fill="#f6f1fd"/>
<rect x="840.1" y="2468.5" width="25.6" height="82.0" fill="#f6f1fd"/>
<rect x="865.6" y="2468.5" width="25.6" height="82.0" fill="#dfd1f9"/>
<rect x="891.2" y="2468.5" width="25.6" height="82.0" fill="#f6f1fd"/>
<rect x="916.7" y="2468.5" width="25.6" height="82.0" fill="#f6f1fd"/>
<rect x="942.2" y="2468.5" width="25.6" height="82.0" fill="#dfd1f9"/>
<rect x="967.8" y="2468.5" width="25.6" height="82.0" fill="#d2bff7"/>
<rect x="993.3" y="2468.5" width="25.6" height="82.0" fill="#f6f1fd"/>
<rect x="1018.8" y="2468.5" width="25.6" height="82.0" fill="#e8ddfa"/>
<rect x="1044.4" y="2468.5" width="25.6" height="82.0" fill="#d2bff7"/>
<rect x="1069.9" y="2468.5" width="25.6" height="82.0" fill="#dfd1f9"/>
<rect x="1095.4" y="2468.5" width="25.6" height="82.0" fill="#d2bff7"/>
<rect x="1120.9" y="2468.5" width="25.6" height="82.0" fill="#e8ddfa"/>
<rect x="1146.5" y="2468.5" width="25.6" height="82.0" fill="#f6f1fd"/>
<rect x="1172.0" y="2468.5" width="25.6" height="82.0" fill="#e8ddfa"/>
<rect x="1197.5" y="2468.5" width="25.6" height="82.0" fill="#e8ddfa"/>
<rect x="1223.1" y="2468.5" width="25.6" height="82.0" fill="#dfd1f9"/>
<rect x="1248.6" y="2468.5" width="25.6" height="82.0" fill="#fcf9fe"/>
<rect x="1274.1" y="2468.5" width="25.6" height="82.0" fill="#f0e8fc"/>
<rect x="1299.6" y="2468.5" width="25.6" height="82.0" fill="#f0e8fc"/>
<rect x="1325.2" y="2468.5" width="25.6" height="82.0" fill="#f6f1fd"/>
<rect x="1350.7" y="2468.5" width="25.6" height="82.0" fill="#f6f1fd"/>
<rect x="1376.2" y="2468.5" width="25.6" height="82.0" fill="#e8ddfa"/>
<rect x="1401.8" y="2468.5" width="25.6" height="82.0" fill="#f6f1fd"/>
<rect x="1427.3" y="2468.5" width="25.6" height="82.0" fill="#f6f1fd"/>
<rect x="1452.8" y="2468.5" width="25.6" height="82.0" fill="#d2bff7"/>
<rect x="1478.4" y="2468.5" width="25.6" height="82.0" fill="#e8ddfa"/>
<rect x="1503.9" y="2468.5" width="25.6" height="82.0" fill="#e8ddfa"/>
<rect x="1529.4" y="2468.5" width="25.6" height="82.0" fill="#f6f1fd"/>
<rect x="1554.9" y="2468.5" width="25.6" height="82.0" fill="#f6f1fd"/>
<rect x="1580.5" y="2468.5" width="25.6" height="82.0" fill="#f6f1fd"/>
<rect x="304.0" y="2557.5" width="25.6" height="63.0" fill="#f6f1fd"/>
<rect x="329.5" y="2557.5" width="25.6" height="63.0" fill="#dfd1f9"/>
<rect x="355.1" y="2557.5" width="25.6" height="63.0" fill="#f6f1fd"/>
<rect x="380.6" y="2557.5" width="25.6" height="63.0" fill="#f6f1fd"/>
<rect x="406.1" y="2557.5" width="25.6" height="63.0" fill="#e8ddfa"/>
<rect x="431.6" y="2557.5" width="25.6" height="63.0" fill="#f0e8fc"/>
<rect x="457.2" y="2557.5" width="25.6" height="63.0" fill="#f0e8fc"/>
<rect x="482.7" y="2557.5" width="25.6" height="63.0" fill="#e8ddfa"/>
<rect x="508.2" y="2557.5" width="25.6" height="63.0" fill="#e8ddfa"/>
<rect x="533.8" y="2557.5" width="25.6" height="63.0" fill="#e8ddfa"/>
<rect x="559.3" y="2557.5" width="25.6" height="63.0" fill="#dfd1f9"/>
<rect x="584.8" y="2557.5" width="25.6" height="63.0" fill="#f29e98"/>
<rect x="610.4" y="2557.5" width="25.6" height="63.0" fill="#fcf9fe"/>
<rect x="635.9" y="2557.5" width="25.6" height="63.0" fill="#f0e8fc"/>
<rect x="661.4" y="2557.5" width="25.6" height="63.0" fill="#f6d0d4"/>
<rect x="686.9" y="2557.5" width="25.6" height="63.0" fill="#e8ddfa"/>
<rect x="712.5" y="2557.5" width="25.6" height="63.0" fill="#f0e8fc"/>
<rect x="738.0" y="2557.5" width="25.6" height="63.0" fill="#dfd1f9"/>
<rect x="763.5" y="2557.5" width="25.6" height="63.0" fill="#f6f1fd"/>
<rect x="789.1" y="2557.5" width="25.6" height="63.0" fill="#e8ddfa"/>
<rect x="814.6" y="2557.5" width="25.6" height="63.0" fill="#f6f1fd"/>
<rect x="840.1" y="2557.5" width="25.6" height="63.0" fill="#f6f1fd"/>
<rect x="865.6" y="2557.5" width="25.6" height="63.0" fill="#f6d0d4"/>
<rect x="891.2" y="2557.5" width="25.6" height="63.0" fill="#f6f1fd"/>
<rect x="916.7" y="2557.5" width="25.6" height="63.0" fill="#f6f1fd"/>
<rect x="942.2" y="2557.5" width="25.6" height="63.0" fill="#e8ddfa"/>
<rect x="967.8" y="2557.5" width="25.6" height="63.0" fill="#f6d0d4"/>
<rect x="993.3" y="2557.5" width="25.6" height="63.0" fill="#f6f1fd"/>
<rect x="1018.8" y="2557.5" width="25.6" height="63.0" fill="#f6d0d4"/>
<rect x="1044.4" y="2557.5" width="25.6" height="63.0" fill="#e8ddfa"/>
<rect x="1069.9" y="2557.5" width="25.6" height="63.0" fill="#dfd1f9"/>
<rect x="1095.4" y="2557.5" width="25.6" height="63.0" fill="#f6d0d4"/>
<rect x="1120.9" y="2557.5" width="25.6" height="63.0" fill="#dfd1f9"/>
<rect x="1146.5" y="2557.5" width="25.6" height="63.0" fill="#fcf9fe"/>
<rect x="1172.0" y="2557.5" width="25.6" height="63.0" fill="#e8ddfa"/>
<rect x="1197.5" y="2557.5" width="25.6" height="63.0" fill="#e8ddfa"/>
<rect x="1223.1" y="2557.5" width="25.6" height="63.0" fill="#f6d0d4"/>
<rect x="1248.6" y="2557.5" width="25.6" height="63.0" fill="#fcf9fe"/>
<rect x="1274.1" y="2557.5" width="25.6" height="63.0" fill="#ea5850"/>
<rect x="1299.6" y="2557.5" width="25.6" height="63.0" fill="#f0e8fc"/>
<rect x="1325.2" y="2557.5" width="25.6" height="63.0" fill="#f6f1fd"/>
<rect x="1350.7" y="2557.5" width="25.6" height="63.0" fill="#f6f1fd"/>
<rect x="1376.2" y="2557.5" width="25.6" height="63.0" fill="#e8ddfa"/>
<rect x="1401.8" y="2557.5" width="25.6" height="63.0" fill="#f6f1fd"/>
<rect x="1427.3" y="2557.5" width="25.6" height="63.0" fill="#f6f1fd"/>
<rect x="1452.8" y="2557.5" width="25.6" height="63.0" fill="#dfd1f9"/>
<rect x="1478.4" y="2557.5" width="25.6" height="63.0" fill="#f6d0d4"/>
<rect x="1503.9" y="2557.5" width="25.6" height="63.0" fill="#e8ddfa"/>
<rect x="1529.4" y="2557.5" width="25.6" height="63.0" fill="#f6f1fd"/>
<rect x="1554.9" y="2557.5" width="25.6" height="63.0" fill="#f6f1fd"/>
<rect x="1580.5" y="2557.5" width="25.6" height="63.0" fill="#f6f1fd"/>
<rect x="304.0" y="2627.0" width="25.6" height="27.0" fill="#f0e8fc"/>
<rect x="329.5" y="2627.0" width="25.6" height="27.0" fill="#cab4f7"/>
<rect x="355.1" y="2627.0" width="25.6" height="27.0" fill="#f6f1fd"/>
<rect x="380.6" y="2627.0" width="25.6" height="27.0" fill="#f6f1fd"/>
<rect x="406.1" y="2627.0" width="25.6" height="27.0" fill="#cab4f7"/>
<rect x="431.6" y="2627.0" width="25.6" height="27.0" fill="#f0e8fc"/>
<rect x="457.2" y="2627.0" width="25.6" height="27.0" fill="#f0e8fc"/>
<rect x="482.7" y="2627.0" width="25.6" height="27.0" fill="#e8ddfa"/>
<rect x="508.2" y="2627.0" width="25.6" height="27.0" fill="#e8ddfa"/>
<rect x="533.8" y="2627.0" width="25.6" height="27.0" fill="#e8ddfa"/>
<rect x="559.3" y="2627.0" width="25.6" height="27.0" fill="#dfd1f9"/>
<rect x="584.8" y="2627.0" width="25.6" height="27.0" fill="#dfd1f9"/>
<rect x="610.4" y="2627.0" width="25.6" height="27.0" fill="#fcf9fe"/>
<rect x="635.9" y="2627.0" width="25.6" height="27.0" fill="#f0e8fc"/>
<rect x="661.4" y="2627.0" width="25.6" height="27.0" fill="#dfd1f9"/>
<rect x="686.9" y="2627.0" width="25.6" height="27.0" fill="#e8ddfa"/>
<rect x="712.5" y="2627.0" width="25.6" height="27.0" fill="#f0e8fc"/>
<rect x="738.0" y="2627.0" width="25.6" height="27.0" fill="#e8ddfa"/>
<rect x="763.5" y="2627.0" width="25.6" height="27.0" fill="#f6f1fd"/>
<rect x="789.1" y="2627.0" width="25.6" height="27.0" fill="#e8ddfa"/>
<rect x="814.6" y="2627.0" width="25.6" height="27.0" fill="#f6f1fd"/>
<rect x="840.1" y="2627.0" width="25.6" height="27.0" fill="#f6f1fd"/>
<rect x="865.6" y="2627.0" width="25.6" height="27.0" fill="#dfd1f9"/>
<rect x="891.2" y="2627.0" width="25.6" height="27.0" fill="#f6f1fd"/>
<rect x="916.7" y="2627.0" width="25.6" height="27.0" fill="#f6f1fd"/>
<rect x="942.2" y="2627.0" width="25.6" height="27.0" fill="#e8ddfa"/>
<rect x="967.8" y="2627.0" width="25.6" height="27.0" fill="#dfd1f9"/>
<rect x="993.3" y="2627.0" width="25.6" height="27.0" fill="#f6f1fd"/>
<rect x="1018.8" y="2627.0" width="25.6" height="27.0" fill="#e8ddfa"/>
<rect x="1044.4" y="2627.0" width="25.6" height="27.0" fill="#d2bff7"/>
<rect x="1069.9" y="2627.0" width="25.6" height="27.0" fill="#dfd1f9"/>
<rect x="1095.4" y="2627.0" width="25.6" height="27.0" fill="#d2bff7"/>
<rect x="1120.9" y="2627.0" width="25.6" height="27.0" fill="#d2bff7"/>
<rect x="1146.5" y="2627.0" width="25.6" height="27.0" fill="#fcf9fe"/>
<rect x="1172.0" y="2627.0" width="25.6" height="27.0" fill="#e8ddfa"/>
<rect x="1197.5" y="2627.0" width="25.6" height="27.0" fill="#e8ddfa"/>
<rect x="1223.1" y="2627.0" width="25.6" height="27.0" fill="#dfd1f9"/>
<rect x="1248.6" y="2627.0" width="25.6" height="27.0" fill="#fcf9fe"/>
<rect x="1274.1" y="2627.0" width="25.6" height="27.0" fill="#f0e8fc"/>
<rect x="1299.6" y="2627.0" width="25.6" height="27.0" fill="#f0e8fc"/>
<rect x="1325.2" y="2627.0" width="25.6" height="27.0" fill="#f6f1fd"/>
<rect x="1350.7" y="2627.0" width="25.6" height="27.0" fill="#f6f1fd"/>
<rect x="1376.2" y="2627.0" width="25.6" height="27.0" fill="#e8ddfa"/>
<rect x="1401.8" y="2627.0" width="25.6" height="27.0" fill="#f6f1fd"/>
<rect x="1427.3" y="2627.0" width="25.6" height="27.0" fill="#f6f1fd"/>
<rect x="1452.8" y="2627.0" width="25.6" height="27.0" fill="#d2bff7"/>
<rect x="1478.4" y="2627.0" width="25.6" height="27.0" fill="#e8ddfa"/>
<rect x="1503.9" y="2627.0" width="25.6" height="27.0" fill="#e8ddfa"/>
<rect x="1529.4" y="2627.0" width="25.6" height="27.0" fill="#f6f1fd"/>
<rect x="1554.9" y="2627.0" width="25.6" height="27.0" fill="#f6f1fd"/>
<rect x="1580.5" y="2627.0" width="25.6" height="27.0" fill="#f6f1fd"/>
<path stroke="#fa0709" stroke-width="25.6" d="M316.8 0V2717" stroke-dasharray="0 590 2 59 2 41 2 288 2 307 1 20 1 26 1 7 3 229 3 104 2 49 2 4 2 489 1 3000"/>
<path stroke="#fa3727" stroke-width="25.6" d="M316.8 0V2717" stroke-dasharray="0 283 2 154 1 47 2 16 2 78 1 30 1 1 2 14 2 116 3 18 3 7 1 190 2 40 2 244 3 37 2 2 1 8 2 18 2 12 3 213 3 1 2 27 3 31 2 93 1 5 2 43 4 782 3 3000"/>
<path stroke="#fb523f" stroke-width="25.6" d="M316.8 0V2717" stroke-dasharray="0 509 3 107 2 42 3 18 3 83 1 15 1 33 2 76 1 318 1 41 4 12 3 12 2 30 2 3 3 22 2 212 1 1 2 49 3 29 2 9 3 10 3 40 3 2 2 37 3 9 2 32 2 765 1 3000"/>
<path stroke="#fb6a56" stroke-width="25.6" d="M316.8 0V2717" stroke-dasharray="0 275 2 182 2 26 3 54 2 7 2 99 1 21 1 11 1 1 1 13 3 43 2 109 2 431 2 15 2 3 2 8 1 17 3 11 4 191 2 231 1 335 1 439 2 19 2 26 1 3000"/>
<path stroke="#fc816d" stroke-width="25.6" d="M316.8 0V2717" stroke-dasharray="0 492 1 3 2 3 2 50 3 19 2 8 2 6 2 1 2 40 2 30 1 158 1 26 2 1 2 8 2 7 2 5 1 361 1 41 1 10 2 44 6 6 3 258 1 22 2 18 3 10 3 880 1 3000"/>
<path stroke="#fc9684" stroke-width="25.6" d="M316.8 0V2717" stroke-dasharray="0 452 3 1 2 112 1 65 1 36 2 40 2 43 2 6 2 81 2 105 1 104 2 197 1 5 3 3 2 31 3 5 2 268 1 117 2 121 5 181 2 3000"/>
<path stroke="#fdab9c" stroke-width="25.6" d="M316.8 0V2717" stroke-dasharray="0 461 1 52 2 27 2 25 3 125 2 101 2 16 1 43 3 58 1 105 1 46 2 7 2 1 1 194 2 39 4 19 3 257 2 34 1 5 3 2 3 131 2 8 3 245 2 528 3 18 3 2 3 7 1 3000"/>
<path stroke="#fdc1b4" stroke-width="25.6" d="M316.8 0V2717" stroke-dasharray="0 617 2 225 2 32 2 68 1 111 2 123 2 7 2 430 2 23 4 108 1 17 2 337 2 53 2 3000"/>
<path stroke="#fed5cc" stroke-width="25.6" d="M316.8 0V2717" stroke-dasharray="0 549 3 68 2 66 2 309 2 32 1 145 1 429 1 220 1 276 1 3000"/>
<path stroke="#d6c0ff" stroke-width="25.6" d="M342.3 0V2717" stroke-dasharray="0 244 2 8 2 15 2 2 1 31 2 10 1 3 1 9 1 10 1 16 1 5 4 23 1 21 1 14 1 1623 3 29 1 34 1 1 2 20 1 9 1 18 1 2 2 4 3 1 1 3 1 22 1 17 2 20 1 3 2 7 1 37 2 17 1 6 1 16 1 11 1 6 3 1 1 9 2 16 1 4 2 32 3 27 2 25 1 137 1 10 2 3000"/>
<path stroke="#dec8ff" stroke-width="25.6" d="M342.3 0V2717" stroke-dasharray="0 234 4 6 2 26 1 1 2 13 2 25 1 3 1 53 2 7 2 8 1 28 1 7 2 1558 2 4 2 6 2 10 2 12 1 10 1 16 1 15 1 1 2 4 2 1 1 6 1 2 2 31 1 6 1 9 1 4 1 13 1 7 1 12 1 1 1 42 1 4 1 4 3 11 1 1 1 3 1 19 2 33 1 22 1 2 1 22 2 7 2 5 1 1 1 10 3 11 1 31 1 33 2 2 1 29 2 1 1 14 2 1 1 108 2 2 2 7 1 3000"/>
<path stroke="#decbff" stroke-width="25.6" d="M342.3 0V2717" stroke-dasharray="0 1292 1 22 2 10 2 6 1 1 1 21 1 3000"/>
<path stroke="#e6d3ff" stroke-width="25.6" d="M342.3 0V2717" stroke-dasharray="0 1274 1 8 1 10 1 34 1 25 2 3000"/>
<path stroke="#e8d2ff" stroke-width="25.6" d="M342.3 0V2717" stroke-dasharray="0 253 1 10 2 9 1 5 2 47 1 9 1 4 1 29 1 5 1 4 1 7 1 15 1 17 2 9 1 1565 1 30 1 4 1 8 2 15 1 48 2 20 1 1 2 12 2 6 1 21 1 28 1 2 2 4 1 5 1 9 2 4 1 16 2 26 2 19 2 3 2 53 2 11 2 22 2 1 3 5 1 17 1 23 2 12 1 6 1 3 1 6 1 6 1 8 1 29 1 3000"/>
<path stroke="#e9dbff" stroke-width="25.6" d="M342.3 0V2717" stroke-dasharray="0 2598 1 9 1 3000"/>
<path stroke="#efe1ff" stroke-width="25.6" d="M342.3 0V2717" stroke-dasharray="0 2559 1 43 1 12 2 3000"/>
<path stroke="#efe4fb" stroke-width="25.6" d="M342.3 0V2717" stroke-dasharray="0 488 1 98 3 8 3 13 2 34 2 6 2 29 1 43 2 34 3 79 1 713 1 65 3 30 2 1 1 10 3 79 2 45 3 137 1 3000"/>
<path stroke="#f0ddff" stroke-width="25.6" d="M342.3 0V2717" stroke-dasharray="0 1261 1 8 2 39 1 39 1 3000"/>
<path stroke="#f2e7ff" stroke-width="25.6" d="M342.3 0V2717" stroke-dasharray="0 909 1 3 2 30 1 35 1 13 2 9 1 15 1 26 1 88 1 17 1 60 1 3000"/>
<path stroke="#f5e7ff" stroke-width="25.6" d="M342.3 0V2717" stroke-dasharray="0 2609 2 8 1 3000"/>
<path stroke="#f6eefb" stroke-width="25.6" d="M342.3 0V2717" stroke-dasharray="0 509 2 27 2 31 3 62 2 14 2 187 3 532 2 43 3 34 2 54 2 214 2 105 3 41 1 47 3 3000"/>
<path stroke="#f8edff" stroke-width="25.6" d="M342.3 0V2717" stroke-dasharray="0 926 1 124 1 76 2 42 1 15 1 7 1 1 1 16 2 3000"/>
<path stroke="#fa0709" stroke-width="25.6" d="M342.3 0V2717" stroke-dasharray="0 479 3 28 2 77 2 29 3 23 3 12 2 9 3 34 4 24 2 74 2 7 3 3 4 6 3 279 1 89 3 241 1 147 2 136 2 2 2 17 3 32 1 39 2 539 1 56 2 3000"/>
<path stroke="#fa3727" stroke-width="25.6" d="M342.3 0V2717" stroke-dasharray="0 448 2 23 2 21 1 6 1 7 5 14 3 4 2 7 2 4 1 13 2 9 3 19 3 15 2 9 3 6 6 24 4 17 1 18 2 3 3 10 6 4 2 4 3 23 2 2 6 15 3 4 2 9 3 3 2 1 3 2 5 24 2 17 2 5 2 36 2 14 2 56 2 18 2 45 1 66 2 72 2 46 1 153 1 24 1 77 2 7 1 55 1 18 2 25 1 37 1 15 2 2 3 30 1 6 1 8 2 73 2 13 1 7 3 12 3 15 1 7 3 10 3 19 2 9 3 6 1 19 3 18 3 190 1 3000"/>
<path stroke="#fb523f" stroke-width="25.6" d="M342.3 0V2717" stroke-dasharray="0 486 3 7 2 2 3 1 2 14 3 4 2 27 3 8 1 8 4 2 2 8 4 10 2 9 2 3 3 24 2 1 2 9 2 12 2 18 3 53 6 8 3 8 1 1 4 6 3 24 2 9 2 22 2 5 2 12 2 8 2 2 3 107 1 115 3 8 3 3 2 54 2 13 1 31 3 12 2 125 1 4 2 58 1 48 3 51 1 34 3 34 1 29 2 7 6 21 2 11 3 46 2 9 2 9 1 4 1 53 2 8 1 28 1 44 2 31 3 9 2 656 1 3000"/>
<path stroke="#fb6a56" stroke-width="25.6" d="M342.3 0V2717" stroke-dasharray="0 454 2 15 2 6 3 3 1 4 1 1 2 10 1 14 3 8 3 2 2 17 3 6 2 5 1 1 2 8 2 14 2 5 3 18 3 32 1 27 2 6 2 9 1 52 1 2 2 6 1 9 5 20 2 12 2 17 1 15 5 16 1 70 5 1 3 41 3 23 1 17 2 15 1 47 3 12 2 45 3 208 3 20 1 15 2 20 3 25 1 16 1 66 2 9 2 4 2 21 1 2 2 32 3 9 2 60 1 16 3 13 1 15 3 6 1 16 2 39 2 47 3 23 4 13 2 35 2 185 2 3000"/>
<path stroke="#fbf3f6" stroke-width="25.6" d="M342.3 0V2717" stroke-dasharray="0 630 3 27 3 20 3 22 3 77 2 580 1 157 3 5 3 3 2 71 1 93 1 9 2 20 1 54 2 95 2 42 2 3000"/>
<path stroke="#fc816d" stroke-width="25.6" d="M342.3 0V2717" stroke-dasharray="0 480 2 20 3 42 5 4 2 15 2 24 1 5 3 4 3 13 3 2 1 1 2 9 2 2 2 5 2 32 1 25 3 15 2 6 2 2 3 5 2 7 2 8 2 8 2 1 2 1 2 23 2 3 3 13 3 4 1 1 1 89 2 8 2 9 5 91 5 37 2 24 3 12 3 96 2 148 1 109 1 41 2 38 3 4 2 9 2 11 2 32 1 14 3 15 2 15 3 20 3 5 2 7 1 11 2 3 3 8 2 25 2 7 3 25 2 31 1 18 1 4 2 35 1 2 1 3 2 3 3 652 3 30 1 3000"/>
<path stroke="#fc9684" stroke-width="25.6" d="M342.3 0V2717" stroke-dasharray="0 460 2 16 1 3 1 20 2 25 2 25 3 7 3 26 2 4 2 1 1 3 2 4 4 12 1 5 2 23 2 1 2 3 3 3 1 8 1 4 2 1 1 7 1 9 3 7 1 9 2 18 1 48 3 30 2 1 1 23 3 7 1 13 2 1 2 29 3 22 2 97 2 29 2 83 1 69 3 152 2 33 2 46 3 41 2 29 1 12 4 35 4 8 2 59 2 36 1 90 1 5 1 1 1 35 1 14 3 67 3 15 2 3 2 461 1 3000"/>
<path stroke="#fdab9c" stroke-width="25.6" d="M342.3 0V2717" stroke-dasharray="0 512 2 13 1 9 4 4 1 26 2 3 3 2 2 2 2 1 1 30 2 47 2 50 1 22 1 11 2 22 1 25 1 40 1 356 2 7 1 206 1 1 2 131 3 46 1 9 2 27 1 30 2 41 3 45 2 4 2 52 1 44 2 47 1 382 1 42 2 223 1 3000"/>
<path stroke="#fdc1b4" stroke-width="25.6" d="M342.3 0V2717" stroke-dasharray="0 472 1 37 3 24 2 57 2 18 2 7 3 35 1 20 2 1 1 53 3 30 2 24 1 26 3 44 1 22 2 115 1 45 2 14 3 57 1 35 2 238 2 14 3 94 4 6 2 32 3 103 2 74 2 82 2 120 3 263 1 3000"/>
<path stroke="#fed5cc" stroke-width="25.6" d="M342.3 0V2717" stroke-dasharray="0 459 3 85 2 19 2 5 2 3 2 12 2 50 2 21 2 11 1 3 3 47 2 150 2 43 2 276 2 157 2 20 2 81 2 28 1 203 2 173 3 36 3 3000"/>
<path stroke="#fee9e5" stroke-width="25.6" d="M342.3 0V2717" stroke-dasharray="0 615 2 105 2 152 3 696 3 3000"/>
<path stroke="#fef3ff" stroke-width="25.6" d="M342.3 0V2717" stroke-dasharray="0 916 1 5 2 19 4 31 1 5 1 18 1 97 2 15 3 16 1 13 1 5 1 1 1 6 2 2 1 3000"/>
<path stroke="#fa0709" stroke-width="25.6" d="M367.8 0V2717" stroke-dasharray="0 1556 1 26 1 53 3 8 1 11 2 74 3 50 2 18 3 3000"/>
<path stroke="#fa3727" stroke-width="25.6" d="M367.8 0V2717" stroke-dasharray="0 389 2 66 2 495 2 43 1 566 3 56 2 3 1 183 2 22 2 3000"/>
<path stroke="#fb523f" stroke-width="25.6" d="M367.8 0V2717" stroke-dasharray="0 1049 1 323 2 189 3 13 2 19 2 5 1 6 2 10 3 3 2 43 2 6 2 10 2 49 2 29 1 3 2 9 5 96 2 3000"/>
<path stroke="#fb6a56" stroke-width="25.6" d="M367.8 0V2717" stroke-dasharray="0 521 2 1036 3 54 2 3 2 38 7 29 1 3 3 17 3 10 2 9 1 12 1 23 2 1 2 20 2 8 1 7 3 699 2 16 2 3000"/>
<path stroke="#fc816d" stroke-width="25.6" d="M367.8 0V2717" stroke-dasharray="0 1381 1 59 1 112 1 13 2 2 3 7 2 6 1 26 3 5 3 1 3 2 2 1 3 69 1 16 2 26 2 44 1 19 2 3000"/>
<path stroke="#fc9684" stroke-width="25.6" d="M367.8 0V2717" stroke-dasharray="0 296 2 173 1 56 1 127 2 415 2 539 1 3 3 7 1 24 2 26 2 13 1 16 2 1 2 3 2 46 2 3 2 6 3 16 2 3000"/>
<path stroke="#fdab9c" stroke-width="25.6" d="M367.8 0V2717" stroke-dasharray="0 426 1 679 1 10 1 450 2 15 1 35 2 53 2 23 3 18 2 24 1 71 1 15 3 17 1 3000"/>
<path stroke="#fdc1b4" stroke-width="25.6" d="M367.8 0V2717" stroke-dasharray="0 426 2 231 1 197 1 3000"/>
<path stroke="#fa0709" stroke-width="25.6" d="M393.4 0V2717" stroke-dasharray="0 365 1 114 2 27 3 5 1 48 1 8 2 112 2 45 3 164 3 117 3 116 1 15 2 30 1 75 1 401 2 3000"/>
<path stroke="#fa3727" stroke-width="25.6" d="M393.4 0V2717" stroke-dasharray="0 447 2 22 2 54 2 30 3 94 2 27 2 89 2 10 2 6 3 35 1 46 2 103 2 46 2 1 2 185 1 77 3 9 2 658 2 3000"/>
<path stroke="#fb523f" stroke-width="25.6" d="M393.4 0V2717" stroke-dasharray="0 554 2 43 1 3 3 7 2 67 1 17 1 49 2 10 3 43 2 9 2 1 2 110 2 102 3 102 1 29 1 86 2 20 2 821 1 3000"/>
<path stroke="#fb6a56" stroke-width="25.6" d="M393.4 0V2717" stroke-dasharray="0 488 1 27 1 78 2 2 2 37 3 56 3 10 2 6 2 43 2 11 2 47 1 5 2 55 2 40 3 26 2 8 3 16 3 131 1 5 1 85 2 127 2 372 2 205 2 217 1 33 2 3000"/>
<path stroke="#fc816d" stroke-width="25.6" d="M393.4 0V2717" stroke-dasharray="0 477 2 3 2 13 2 6 3 8 1 7 3 2 3 3 3 13 1 18 2 18 3 29 1 14 1 80 2 31 1 41 2 26 4 7 3 37 3 11 2 21 4 64 3 5 1 45 1 2 3 20 2 102 2 29 1 68 2 16 2 591 1 3000"/>
<path stroke="#fc9684" stroke-width="25.6" d="M393.4 0V2717" stroke-dasharray="0 279 1 192 2 2 2 15 3 13 2 19 3 8 1 22 2 42 2 20 1 8 2 73 2 7 2 14 2 20 1 58 2 59 3 2 2 172 1 3 1 62 1 89 1 88 3 8 2 15 2 3000"/>
<path stroke="#fdab9c" stroke-width="25.6" d="M393.4 0V2717" stroke-dasharray="0 592 4 2 3 94 5 23 1 11 2 44 2 134 2 109 1 50 1 21 2 2 1 19 2 142 2 58 1 242 1 81 2 731 2 3000"/>
<path stroke="#fdc1b4" stroke-width="25.6" d="M393.4 0V2717" stroke-dasharray="0 938 3 106 2 124 2 102 2 913 2 219 2 3000"/>
<path stroke="#fed5cc" stroke-width="25.6" d="M393.4 0V2717" stroke-dasharray="0 318 1 698 1 19 2 111 2 69 1 105 3 3000"/>
<path stroke="#d6c0ff" stroke-width="25.6" d="M418.9 0V2717" stroke-dasharray="0 1990 1 6 1 4 1 3 2 15 2 11 1 26 1 20 2 28 2 2 1 8 2 57 1 53 1 31 1 9 1 4 1 54 2 2 1 10 2 3 2 19 3 10 2 5 2 49 1 185 1 4 1 3 1 3000"/>
<path stroke="#dec8ff" stroke-width="25.6" d="M418.9 0V2717" stroke-dasharray="0 2022 1 17 1 13 1 12 1 12 2 5 2 4 2 1 1 14 1 36 1 13 1 2 2 5 2 31 1 15 1 9 1 10 1 6 2 4 1 11 1 27 2 3 2 2 1 5 1 5 2 3 2 10 1 2 1 7 2 26 2 14 2 10 2 6 1 5 2 1 2 13 1 1 1 7 1 199 2 3000"/>
<path stroke="#decbff" stroke-width="25.6" d="M418.9 0V2717" stroke-dasharray="0 901 1 5 1 16 1 17 1 1 1 1 1 3 1 12 2 23 1 6 2 108 1 50 1 8 2 4 2 13 2 11 1 15 3 14 1 2 1 30 1 5 1 8 1 18 2 37 1 17 1 501 1 4 2 12 2 32 2 31 1 3000"/>
<path stroke="#e6d3ff" stroke-width="25.6" d="M418.9 0V2717" stroke-dasharray="0 926 1 2 3 25 1 5 1 27 1 17 1 47 1 27 1 31 2 10 1 65 1 9 1 14 1 11 2 42 2 9 2 1 1 21 2 564 1 20 1 5 1 40 2 4 2 3000"/>
<path stroke="#e8d2ff" stroke-width="25.6" d="M418.9 0V2717" stroke-dasharray="0 1979 1 5 1 8 1 27 1 6 2 3 1 33 2 64 2 6 1 16 2 22 1 9 2 1 1 10 1 15 1 6 1 3 2 10 1 3 1 1 1 14 1 17 2 18 1 3 2 9 1 2 1 20 1 18 1 4 2 1 1 5 1 40 2 219 2 3000"/>
<path stroke="#e9dbff" stroke-width="25.6" d="M418.9 0V2717" stroke-dasharray="0 2488 1 20 1 13 2 3000"/>
<path stroke="#efe1ff" stroke-width="25.6" d="M418.9 0V2717" stroke-dasharray="0 2492 2 23 1 4 1 3000"/>
<path stroke="#efe4fb" stroke-width="25.6" d="M418.9 0V2717" stroke-dasharray="0 295 3 20 1 13 1 48 3 1001 1 87 2 21 1 14 1 7 2 290 1 3000"/>
<path stroke="#f0ddff" stroke-width="25.6" d="M418.9 0V2717" stroke-dasharray="0 940 1 15 1 4 1 1 1 12 3 16 2 8 1 38 2 42 2 5 1 8 2 24 1 14 2 1 1 49 2 16 1 14 2 11 1 5 1 24 2 37 2 5 1 14 1 12 1 499 2 48 2 9 1 12 2 8 1 2 1 3 1 3000"/>
<path stroke="#f2e7ff" stroke-width="25.6" d="M418.9 0V2717" stroke-dasharray="0 473 1 9 2 27 2 37 1 2 2 67 1 14 2 9 1 1 2 29 1 12 1 5 2 90 1 25 1 4 1 13 1 16 1 1708 1 27 1 3000"/>
<path stroke="#f5e7ff" stroke-width="25.6" d="M418.9 0V2717" stroke-dasharray="0 2504 2 32 1 3000"/>
<path stroke="#f6eefb" stroke-width="25.6" d="M418.9 0V2717" stroke-dasharray="0 280 2 6 3 51 1 25 1 1034 3 15 2 171 2 13 1 54 3 72 2 8 3 52 3 2 2 3000"/>
<path stroke="#f8edff" stroke-width="25.6" d="M418.9 0V2717" stroke-dasharray="0 493 1 2 1 76 2 15 1 66 1 34 1 50 1 53 1 2 1 42 2 9 2 1736 1 3000"/>
<path stroke="#fa0709" stroke-width="25.6" d="M418.9 0V2717" stroke-dasharray="0 274 3 14 3 27 2 57 2 24 2 2 1 2 3 129 2 212 2 40 3 578 2 19 2 41 2 63 1 93 3 4 2 12 3 160 1 703 1 28 2 3000"/>
<path stroke="#fa3727" stroke-width="25.6" d="M418.9 0V2717" stroke-dasharray="0 237 3 26 4 3 1 19 3 19 2 16 2 44 2 16 3 9 1 151 2 13 3 34 2 2 2 177 1 20 3 561 2 8 3 22 3 8 1 9 2 7 2 9 6 19 4 21 2 6 2 12 1 10 1 17 1 7 3 5 1 4 2 27 3 24 2 20 3 1 2 11 2 4 2 3 2 8 2 4 3 14 3 10 1 18 3 1 2 2 1 10 1 22 2 11 2 1 1 24 2 79 1 663 1 3000"/>
<path stroke="#fb523f" stroke-width="25.6" d="M418.9 0V2717" stroke-dasharray="0 285 2 5 1 28 1 10 2 17 2 3 5 1 3 1 2 9 3 21 2 20 2 158 2 12 3 7 1 107 3 27 3 7 2 1 1 37 4 577 2 13 3 7 3 3 2 21 3 7 1 3 1 7 1 2 2 4 2 4 5 1 3 10 3 2 1 6 1 4 3 3 2 8 1 15 2 25 2 8 3 3 1 3 3 1 2 41 1 24 1 5 3 1 3 22 2 25 3 10 2 10 4 2 1 15 1 1 2 2 1 3 2 4 6 2 2 34 4 648 1 95 1 33 2 3000"/>
<path stroke="#fb6a56" stroke-width="25.6" d="M418.9 0V2717" stroke-dasharray="0 236 3 1 3 17 3 2 1 1 2 8 3 25 3 6 3 7 2 7 2 30 1 3 2 13 1 1 3 5 4 4 2 4 2 36 2 35 2 39 2 27 3 23 1 37 3 92 2 14 1 43 2 25 1 71 2 499 2 5 2 48 2 5 3 4 2 5 4 5 2 12 2 1 2 29 2 53 3 8 5 4 3 6 3 3 2 1 1 5 2 4 2 2 2 11 2 10 2 2 5 23 1 14 2 8 1 1 2 23 2 13 3 11 2 6 2 40 2 13 1 2 2 102 1 3000"/>
<path stroke="#fbf3f6" stroke-width="25.6" d="M418.9 0V2717" stroke-dasharray="0 247 1 113 2 1171 1 34 3 27 3 38 2 31 3 80 3 3000"/>
<path stroke="#fc816d" stroke-width="25.6" d="M418.9 0V2717" stroke-dasharray="0 251 1 14 2 9 2 15 1 19 1 2 3 8 1 5 2 22 1 13 7 15 2 11 1 2 3 87 2 32 2 17 3 3 2 18 3 108 2 21 2 58 3 50 1 38 2 17 2 495 2 13 2 22 2 7 2 9 2 25 2 6 2 3 2 11 4 30 3 31 2 28 1 19 1 17 3 2 2 4 4 5 2 15 1 6 3 17 2 20 1 5 2 5 5 8 4 9 1 14 2 17 4 19 1 23 2 672 2 3000"/>
<path stroke="#fc9684" stroke-width="25.6" d="M418.9 0V2717" stroke-dasharray="0 275 1 8 2 13 2 10 2 33 4 10 2 8 1 6 2 30 2 19 3 4 2 33 2 25 3 76 2 12 3 8 2 1 1 237 1 533 3 7 4 6 3 2 1 11 5 1 3 26 1 10 2 3 2 8 1 14 2 29 3 6 2 2 2 6 2 19 3 2 2 6 5 5 5 6 2 27 1 4 2 16 3 3 2 3 2 4 3 14 3 3 2 12 3 12 2 4 2 3 1 2 3 8 1 10 5 57 2 6 2 12 2 680 1 63 2 3000"/>
<path stroke="#fdab9c" stroke-width="25.6" d="M418.9 0V2717" stroke-dasharray="0 241 1 2 3 4 3 5 3 9 3 11 2 21 2 10 2 2 2 4 1 2 1 1 2 9 2 8 2 2 2 4 1 5 3 3 1 23 2 9 4 13 2 55 2 269 2 35 2 15 2 48 2 19 2 496 3 33 1 12 1 25 2 40 2 81 2 5 1 1 4 14 2 10 2 5 2 4 1 10 1 60 2 10 5 12 2 27 1 1 2 27 3 21 3 4 2 11 1 631 2 60 2 11 1 32 2 3 1 3000"/>
<path stroke="#fdc1b4" stroke-width="25.6" d="M418.9 0V2717" stroke-dasharray="0 268 1 18 2 54 1 26 2 51 2 70 1 61 2 23 2 104 1 26 2 105 2 38 2 523 2 9 1 115 1 66 2 114 2 53 4 61 1 3000"/>
<path stroke="#fed5cc" stroke-width="25.6" d="M418.9 0V2717" stroke-dasharray="0 257 2 13 2 4 1 33 1 35 3 14 1 12 2 79 1 143 2 40 1 8 1 42 2 4 2 53 2 75 2 540 2 16 2 51 1 9 2 43 1 6 5 40 3 37 1 45 1 20 3 37 1 15 2 30 1 61 1 2 3 665 2 113 1 3000"/>
<path stroke="#fee9e5" stroke-width="25.6" d="M418.9 0V2717" stroke-dasharray="0 388 1 1201 2 3000"/>
<path stroke="#fef3ff" stroke-width="25.6" d="M418.9 0V2717" stroke-dasharray="0 488 1 1 1 86 1 39 1 3 2 37 1 4 1 16 2 39 1 37 1 51 1 27 1 27 1 1715 1 3 1 28 1 3000"/>
<path stroke="#efe4fb" stroke-width="25.6" d="M444.4 0V2717" stroke-dasharray="0 1402 1 42 1 94 1 37 1 11 1 8 1 48 1 118 1 3000"/>
<path stroke="#f2e7ff" stroke-width="25.6" d="M444.4 0V2717" stroke-dasharray="0 253 2 82 2 9 2 47 2 40 1 3000"/>
<path stroke="#f6eefb" stroke-width="25.6" d="M444.4 0V2717" stroke-dasharray="0 1396 1 65 2 69 3 16 3 55 2 46 3 6 1 46 1 9 1 3000"/>
<path stroke="#f8edff" stroke-width="25.6" d="M444.4 0V2717" stroke-dasharray="0 259 1 7 1 3 2 102 3 61 1 3000"/>
<path stroke="#fa0709" stroke-width="25.6" d="M444.4 0V2717" stroke-dasharray="0 416 2 66 1 950 2 1 3 9 3 13 2 16 3 10 5 12 1 15 2 2 3 56 2 18 1 48 3 61 1 14 5 318 2 3000"/>
<path stroke="#fa3727" stroke-width="25.6" d="M444.4 0V2717" stroke-dasharray="0 986 2 18 1 320 2 41 2 12 1 6 3 15 3 5 2 2 1 2 1 2 2 2 5 6 1 9 1 1 3 1 3 12 2 13 2 16 3 1 3 11 3 15 3 7 4 11 2 23 1 6 3 25 2 4 1 4 3 10 4 9 1 5 3 6 2 2 2 23 1 9 3 1 3 3 3 11 1 4 2 12 2 2 2 3 3 13 2 4 2 6 2 2 3 11 3 1 2 8 2 3 1 157 1 20 2 423 1 54 1 3000"/>
<path stroke="#fb523f" stroke-width="25.6" d="M444.4 0V2717" stroke-dasharray="0 546 2 821 2 13 6 5 2 2 4 7 3 9 3 1 2 18 4 11 2 18 1 1 1 5 2 6 3 16 2 25 2 25 1 24 3 32 3 2 2 3 2 2 3 21 3 38 4 1 6 4 2 1 3 2 2 5 4 1 2 31 1 11 2 29 2 521 2 55 1 73 1 3000"/>
<path stroke="#fb6a56" stroke-width="25.6" d="M444.4 0V2717" stroke-dasharray="0 476 1 582 1 309 1 1 2 10 3 4 2 7 1 8 3 7 4 24 6 6 2 1 3 3 1 1 2 4 2 7 2 7 1 2 3 2 4 2 4 2 1 1 2 4 3 15 3 11 4 3 2 5 1 13 5 9 2 17 3 20 1 7 4 6 3 1 2 18 2 7 2 42 3 5 1 2 2 13 1 4 1 7 3 8 2 8 2 25 2 7 2 38 1 607 1 63 2 5 2 3000"/>
<path stroke="#fbf3f6" stroke-width="25.6" d="M444.4 0V2717" stroke-dasharray="0 1371 2 90 1 90 3 72 1 17 3 3000"/>
<path stroke="#fc816d" stroke-width="25.6" d="M444.4 0V2717" stroke-dasharray="0 358 2 317 2 714 2 62 2 23 1 11 1 62 3 15 1 2 2 2 1 19 3 3 1 22 2 24 1 41 2 16 2 15 2 6 2 1 3 5 3 9 2 5 1 4 3 9 2 8 1 1 2 1 3 6 1 3 2 12 2 650 1 3000"/>
<path stroke="#fc9684" stroke-width="25.6" d="M444.4 0V2717" stroke-dasharray="0 235 2 495 1 591 1 98 3 33 1 17 2 7 1 6 3 24 2 40 1 8 1 10 3 2 2 11 4 3 3 17 2 11 3 8 1 17 4 6 2 25 3 2 3 4 2 2 2 2 2 1 3 10 3 7 3 2 2 15 3 6 2 22 1 4 1 3 1 17 2 2 2 79 1 569 1 14 2 3000"/>
<path stroke="#fdab9c" stroke-width="25.6" d="M444.4 0V2717" stroke-dasharray="0 796 2 724 3 64 1 12 2 2 2 13 1 52 1 34 1 29 2 74 2 18 2 763 1 5 1 3000"/>
<path stroke="#fdc1b4" stroke-width="25.6" d="M444.4 0V2717" stroke-dasharray="0 1190 1 200 1 8 2 19 2 94 1 20 3 133 1 22 1 56 3 12 4 16 2 38 1 449 2 213 2 3000"/>
<path stroke="#fed5cc" stroke-width="25.6" d="M444.4 0V2717" stroke-dasharray="0 690 2 478 2 213 1 23 3 4 2 51 2 7 1 61 3 25 1 27 3 47 2 27 3 1 3 3000"/>
<path stroke="#fee9e5" stroke-width="25.6" d="M444.4 0V2717" stroke-dasharray="0 1602 2 53 1 6 2 37 3 3000"/>
<path stroke="#fef3ff" stroke-width="25.6" d="M444.4 0V2717" stroke-dasharray="0 234 1 26 2 28 2 6 1 14 1 13 2 42 1 62 2 3000"/>
<path stroke="#efe4fb" stroke-width="25.6" d="M469.9 0V2717" stroke-dasharray="0 1435 1 28 1 18 1 105 3 37 1 97 3 11 2 19 3 3000"/>
<path stroke="#f6eefb" stroke-width="25.6" d="M469.9 0V2717" stroke-dasharray="0 1443 3 123 1 33 3 76 3 7 1 89 3 3000"/>
<path stroke="#fa0709" stroke-width="25.6" d="M469.9 0V2717" stroke-dasharray="0 237 2 121 2 17 3 44 2 257 1 470 2 337 3 40 1 21 1 154 1 47 3 25 2 1 2 3000"/>
<path stroke="#fa3727" stroke-width="25.6" d="M469.9 0V2717" stroke-dasharray="0 260 1 67 3 8 3 10 2 12 1 70 1 75 2 371 2 492 2 22 3 6 3 9 3 20 2 16 2 11 3 53 1 17 1 24 4 25 2 9 2 12 2 58 2 4 3 5 2 78 2 1 2 33 2 201 2 6 1 9 1 194 2 44 1 27 1 162 2 3000"/>
<path stroke="#fb523f" stroke-width="25.6" d="M469.9 0V2717" stroke-dasharray="0 240 2 11 1 5 1 31 3 48 2 24 2 32 2 869 1 66 2 32 3 24 3 8 1 12 1 9 2 30 3 12 3 9 4 60 2 16 2 12 2 86 2 43 3 2 1 25 2 20 2 16 3 94 1 11 2 23 1 107 2 171 1 146 1 36 2 186 2 5 2 57 2 3000"/>
<path stroke="#fb6a56" stroke-width="25.6" d="M469.9 0V2717" stroke-dasharray="0 251 2 14 3 55 2 11 3 18 3 16 3 3 3 42 3 73 1 876 4 35 2 2 3 18 2 53 4 19 3 2 3 6 2 22 4 8 3 12 2 4 4 51 2 14 2 10 2 27 3 38 2 1 2 28 1 2 3 3 3 1 2 1 2 1 1 12 2 1 1 672 1 69 2 19 1 25 3 3000"/>
<path stroke="#fbf3f6" stroke-width="25.6" d="M469.9 0V2717" stroke-dasharray="0 1378 2 39 3 93 2 9 2 98 3 167 3 21 3 11 2 3000"/>
<path stroke="#fc816d" stroke-width="25.6" d="M469.9 0V2717" stroke-dasharray="0 236 3 22 2 10 1 47 3 30 3 6 1 6 1 2 1 38 3 763 2 235 2 5 2 5 1 16 1 8 2 16 3 41 1 2 1 1 3 14 2 21 2 2 2 5 4 17 2 15 3 4 3 12 2 15 4 4 3 9 4 11 3 14 1 14 1 3 1 2 3 15 2 6 1 23 1 9 1 7 2 25 2 135 2 19 2 69 2 110 2 439 1 3000"/>
<path stroke="#fc9684" stroke-width="25.6" d="M469.9 0V2717" stroke-dasharray="0 273 1 4 2 17 1 4 2 44 1 67 1 86 2 903 2 32 2 45 3 26 3 21 1 27 2 25 2 7 2 3 2 5 2 6 1 21 3 32 2 15 2 6 3 62 3 4 2 1 2 15 2 22 3 6 3 91 1 140 1 245 2 258 3 13 2 7 2 3000"/>
<path stroke="#fdab9c" stroke-width="25.6" d="M469.9 0V2717" stroke-dasharray="0 265 3 47 3 19 2 88 2 702 2 247 3 15 1 8 1 19 1 12 2 35 3 41 2 19 2 30 3 13 3 23 2 11 2 15 1 11 3 7 2 10 4 28 2 22 1 30 2 31 2 28 1 3 3 320 2 417 2 19 1 3 3 3000"/>
<path stroke="#fdc1b4" stroke-width="25.6" d="M469.9 0V2717" stroke-dasharray="0 630 1 801 2 157 2 25 2 79 2 295 1 201 1 3000"/>
<path stroke="#fed5cc" stroke-width="25.6" d="M469.9 0V2717" stroke-dasharray="0 1488 3 131 2 171 3 413 2 12 2 3000"/>
<path stroke="#fee9e5" stroke-width="25.6" d="M469.9 0V2717" stroke-dasharray="0 1790 2 3000"/>
<path stroke="#efe4fb" stroke-width="25.6" d="M495.5 0V2717" stroke-dasharray="0 261 3 114 1 4 2 7 1 15 1 1081 2 18 3 132 3 18 1 41 3 56 1 20 1 1 2 3000"/>
<path stroke="#f2e7ff" stroke-width="25.6" d="M495.5 0V2717" stroke-dasharray="0 515 1 62 1 131 1 88 1 21 1 26 1 9 2 1 1 42 1 7 2 11 2 21 1 21 1 2 1 160 1 16 2 18 1 23 1 35 2 75 2 38 2 523 2 2 1 23 1 44 1 36 2 39 1 5 2 19 1 41 1 17 1 75 2 95 2 4 1 8 1 20 2 15 2 36 1 5 1 3 2 1 1 35 2 86 1 87 2 26 2 3000"/>
<path stroke="#f6eefb" stroke-width="25.6" d="M495.5 0V2717" stroke-dasharray="0 269 2 95 2 1020 3 23 3 43 2 26 2 184 2 35 1 82 3 3000"/>
<path stroke="#f8edff" stroke-width="25.6" d="M495.5 0V2717" stroke-dasharray="0 477 1 19 1 33 2 10 1 5 1 2 2 2 2 37 1 11 2 42 2 78 1 1 2 31 1 3 1 13 1 41 1 124 1 11 1 4 1 34 1 23 1 6 1 2 2 6 2 54 2 3 2 36 1 53 1 28 1 20 1 15 2 70 1 11 1 513 1 62 1 6 1 42 1 110 1 19 1 6 1 15 1 11 1 19 1 9 1 24 2 12 2 7 1 36 1 120 1 62 1 20 1 18 2 3 2 6 1 53 1 10 1 92 2 3000"/>
<path stroke="#fa0709" stroke-width="25.6" d="M495.5 0V2717" stroke-dasharray="0 284 1 46 1 7 1 4 2 60 2 8 3 151 2 705 1 123 2 76 3 7 2 19 3 67 3 74 2 13 2 9 2 76 1 57 3 670 1 3000"/>
<path stroke="#fa3727" stroke-width="25.6" d="M495.5 0V2717" stroke-dasharray="0 234 2 20 1 42 2 5 3 1 2 8 1 31 2 21 2 6 3 12 2 4 1 22 1 2 3 76 2 27 2 57 2 240 1 16 1 561 2 15 3 3 1 8 2 9 2 19 1 56 2 11 4 11 3 4 3 3 3 9 3 20 2 5 2 7 1 10 2 10 3 14 3 24 2 2 2 8 2 20 1 20 2 5 3 16 1 8 2 2 2 9 1 7 2 11 2 7 3 322 1 112 1 213 2 3000"/>
<path stroke="#fb523f" stroke-width="25.6" d="M495.5 0V2717" stroke-dasharray="0 252 2 1 1 1 2 5 1 36 3 16 1 5 2 1 1 6 1 5 2 3 8 2 2 1 3 1 2 21 2 17 3 3 2 1 2 3 3 15 2 252 3 28 1 71 2 37 1 207 2 369 3 59 2 15 2 20 1 12 1 11 2 55 2 7 1 5 1 19 3 8 3 6 2 4 3 36 1 12 1 13 1 11 1 2 2 7 1 2 1 15 1 6 2 23 1 19 3 18 2 191 1 494 1 18 2 3000"/>
<path stroke="#fb6a56" stroke-width="25.6" d="M495.5 0V2717" stroke-dasharray="0 235 2 20 3 10 2 8 1 4 2 33 2 15 2 7 2 9 2 3 2 6 2 13 1 3 1 5 5 8 5 5 1 7 1 1 1 7 2 10 2 45 1 49 2 167 1 404 1 327 3 9 2 8 2 61 2 21 1 15 1 8 6 19 3 12 2 5 3 5 1 1 3 19 6 7 2 2 2 11 1 30 2 8 2 8 6 10 3 6 3 5 2 13 3 13 3 7 8 4 1 10 1 594 1 131 2 3000"/>
<path stroke="#fbf3f6" stroke-width="25.6" d="M495.5 0V2717" stroke-dasharray="0 385 1 40 1 7 1 985 3 91 1 102 1 74 3 122 3 13 2 3000"/>
<path stroke="#fc816d" stroke-width="25.6" d="M495.5 0V2717" stroke-dasharray="0 284 2 5 2 14 1 8 4 34 2 8 2 16 2 10 2 29 2 34 2 157 2 7 2 247 2 279 2 242 3 27 3 5 2 23 4 9 1 39 2 7 3 2 3 22 1 21 3 2 2 44 1 8 3 5 2 7 3 28 1 5 1 5 2 31 2 5 6 24 3 5 1 1 1 9 2 14 2 1 2 3 2 9 1 441 1 233 1 26 2 3000"/>
<path stroke="#fc9684" stroke-width="25.6" d="M495.5 0V2717" stroke-dasharray="0 234 3 5 2 37 2 55 2 39 2 21 2 5 2 38 4 955 1 1 3 18 3 5 1 9 1 28 3 28 3 11 2 17 3 51 1 10 2 7 1 4 1 1 2 5 2 5 6 5 2 49 3 4 1 14 2 8 3 18 3 5 2 30 1 14 3 19 4 4 2 268 1 3000"/>
<path stroke="#fdab9c" stroke-width="25.6" d="M495.5 0V2717" stroke-dasharray="0 258 1 2 5 49 1 15 2 29 3 217 2 57 1 214 1 65 1 462 2 7 1 3 2 32 2 41 2 43 2 13 2 15 4 4 1 1 2 19 2 17 3 14 2 11 3 21 1 2 2 12 1 2 2 15 1 76 3 7 2 7 2 5 2 12 2 1 4 3 2 8 2 6 3 14 2 3 2 134 1 458 2 3000"/>
<path stroke="#fdc1b4" stroke-width="25.6" d="M495.5 0V2717" stroke-dasharray="0 240 1 15 2 21 1 7 3 28 2 63 1 111 1 10 1 60 2 73 2 239 2 118 1 422 3 85 2 42 2 41 2 27 2 72 1 36 4 8 1 85 2 775 2 3000"/>
<path stroke="#fed5cc" stroke-width="25.6" d="M495.5 0V2717" stroke-dasharray="0 265 2 1 1 76 1 7 3 77 2 189 2 22 2 158 2 76 2 268 2 221 1 102 2 118 2 44 2 62 2 39 1 3000"/>
<path stroke="#fee9e5" stroke-width="25.6" d="M495.5 0V2717" stroke-dasharray="0 415 2 993 2 3000"/>
<path stroke="#fef3ff" stroke-width="25.6" d="M495.5 0V2717" stroke-dasharray="0 485 3 4 1 80 1 24 2 13 2 2 2 17 2 23 1 13 1 26 2 29 2 15 1 11 2 24 1 1 1 38 1 69 1 127 1 25 2 42 1 2 1 34 1 7 2 52 1 42 2 37 1 12 2 14 1 16 2 10 1 563 2 6 1 35 2 10 1 18 2 9 2 34 1 13 1 3 1 35 2 68 1 27 1 12 1 7 1 41 3 54 1 1 1 7 2 42 1 72 1 78 1 30 2 43 1 4 1 4 1 17 1 3000"/>
<path stroke="#efe4fb" stroke-width="25.6" d="M521.0 0V2717" stroke-dasharray="0 1375 3 35 1 116 3 3 1 169 2 88 1 3000"/>
<path stroke="#f2e7ff" stroke-width="25.6" d="M521.0 0V2717" stroke-dasharray="0 274 1 43 1 5 3 12 1 202 1 28 1 44 2 16 1 63 2 16 2 60 1 25 1 29 1 24 1 3 1 36 1 65 2 28 1 57 1 49 1 35 2 12 1 13 2 13 1 90 1 8 1 36 2 21 1 515 1 39 1 4 1 6 2 24 2 11 2 39 1 7 2 12 1 3 1 21 1 48 1 3 1 2 1 33 1 66 1 14 1 38 1 15 2 19 1 22 1 19 1 41 1 1 1 28 1 2 2 33 1 50 2 10 1 18 1 12 1 12 1 10 1 53 2 29 1 3000"/>
<path stroke="#f6eefb" stroke-width="25.6" d="M521.0 0V2717" stroke-dasharray="0 1605 1 126 3 39 2 3000"/>
<path stroke="#f8edff" stroke-width="25.6" d="M521.0 0V2717" stroke-dasharray="0 239 1 15 2 43 1 3 1 2 1 77 1 10 1 3 2 4 1 8 2 18 2 9 2 24 2 99 2 44 1 8 2 7 2 42 2 38 1 19 2 18 2 29 1 19 1 15 1 35 1 64 1 21 1 57 1 2 1 24 1 20 1 83 1 23 1 38 1 9 1 112 2 2 1 22 1 577 1 39 1 75 1 8 2 136 1 9 2 12 1 80 1 12 1 79 1 39 1 84 1 8 1 65 1 24 1 3000"/>
<path stroke="#fa0709" stroke-width="25.6" d="M521.0 0V2717" stroke-dasharray="0 247 1 228 2 142 2 202 2 554 2 12 2 40 3 47 3 91 2 9 2 11 1 1 1 16 3 10 3 11 1 45 3 5 2 2 2 31 3 19 1 9 2 50 2 7 2 739 1 3000"/>
<path stroke="#fa3727" stroke-width="25.6" d="M521.0 0V2717" stroke-dasharray="0 238 2 13 1 19 2 103 1 227 1 7 1 173 1 38 2 39 2 17 2 493 2 7 2 14 1 5 3 11 3 9 4 12 3 37 3 17 2 6 1 1 3 6 3 2 1 14 1 2 1 4 2 1 3 3 3 6 2 11 1 30 3 6 4 8 4 6 2 19 2 6 2 1 1 10 1 1 3 6 4 9 2 1 1 2 1 8 2 3 2 1 1 11 5 3 4 8 2 3 2 10 2 27 3 80 1 329 2 61 2 117 1 77 2 65 2 51 1 3000"/>
<path stroke="#fb523f" stroke-width="25.6" d="M521.0 0V2717" stroke-dasharray="0 248 2 59 1 55 1 130 1 84 2 11 2 182 1 61 1 23 2 351 2 151 2 5 3 1 2 24 2 11 3 2 1 15 3 32 1 6 2 6 3 17 2 95 4 9 2 7 1 11 2 14 2 4 2 4 2 13 2 16 1 2 2 11 2 11 6 16 2 12 3 3 1 26 1 35 3 21 1 11 3 23 2 43 1 336 2 63 1 3000"/>
<path stroke="#fb6a56" stroke-width="25.6" d="M521.0 0V2717" stroke-dasharray="0 403 2 90 2 86 1 87 2 27 2 677 2 8 3 22 2 45 3 1 3 4 5 34 2 28 2 9 3 10 1 1 3 16 2 24 1 25 1 10 2 35 2 5 3 5 3 12 1 2 2 8 2 5 3 20 1 1 2 20 2 7 3 32 1 33 2 77 1 3000"/>
<path stroke="#fbf3f6" stroke-width="25.6" d="M521.0 0V2717" stroke-dasharray="0 1431 2 60 2 28 3 73 3 8 2 7 3 4 3 10 1 90 1 35 2 11 1 47 2 3000"/>
<path stroke="#fc816d" stroke-width="25.6" d="M521.0 0V2717" stroke-dasharray="0 321 2 182 2 80 2 4 2 782 2 4 2 2 2 4 1 17 2 1 1 3 2 11 1 6 2 3 1 12 4 41 3 2 3 17 2 5 8 17 1 32 2 16 3 31 3 1 1 5 2 3 4 8 3 48 3 2 2 2 2 9 2 7 3 8 2 9 2 8 3 41 1 11 2 105 1 1 3 206 2 127 1 57 2 3000"/>
<path stroke="#fc9684" stroke-width="25.6" d="M521.0 0V2717" stroke-dasharray="0 299 2 114 1 481 2 477 2 1 2 38 3 6 3 1 2 10 3 3 3 1 1 55 2 28 2 14 1 2 2 4 1 1 4 3 2 14 3 12 3 10 3 5 2 4 1 5 2 4 2 7 1 4 2 16 1 1 2 1 1 3 2 47 3 7 2 2 2 3 2 7 2 5 2 10 1 7 4 4 3 2 1 19 3 7 3 2 3 106 1 11 1 303 2 1 1 17 2 18 2 88 2 173 2 35 2 8 2 3000"/>
<path stroke="#fdab9c" stroke-width="25.6" d="M521.0 0V2717" stroke-dasharray="0 266 2 295 1 307 1 161 1 82 1 229 1 63 2 25 3 5 1 52 1 13 2 64 1 17 2 1 2 15 1 6 2 12 3 1 2 44 1 37 2 5 1 31 3 20 1 7 3 10 2 8 2 5 1 74 2 87 1 104 2 508 1 3000"/>
<path stroke="#fdc1b4" stroke-width="25.6" d="M521.0 0V2717" stroke-dasharray="0 256 2 54 2 262 2 34 1 234 2 150 1 78 1 232 1 73 3 7 2 65 3 159 2 7 2 12 2 1 1 66 3 13 2 1 2 31 2 66 3 8 3 20 1 20 2 25 2 6 2 135 2 115 2 100 1 5 1 3000"/>
<path stroke="#fed5cc" stroke-width="25.6" d="M521.0 0V2717" stroke-dasharray="0 642 1 227 1 500 2 83 2 9 1 8 1 187 2 12 2 83 2 54 2 366 1 3000"/>
<path stroke="#fee9e5" stroke-width="25.6" d="M521.0 0V2717" stroke-dasharray="0 1728 2 11 1 33 3 2 1 2 2 20 1 3000"/>
<path stroke="#fef3ff" stroke-width="25.6" d="M521.0 0V2717" stroke-dasharray="0 300 1 68 2 32 1 5 1 66 1 3 2 8 1 52 1 5 1 85 1 16 2 5 2 2 1 27 2 52 1 5 1 10 1 6 2 28 1 42 2 32 2 55 2 1 1 13 2 38 1 10 2 27 2 42 2 77 1 14 2 7 1 3 1 3 1 4 2 51 1 7 1 77 2 22 4 511 2 11 2 18 1 68 1 34 1 92 1 4 2 59 1 43 1 27 2 15 1 8 1 4 2 16 1 39 1 5 1 29 1 14 1 56 2 74 2 87 1 50 1 3000"/>
<path stroke="#e9dbff" stroke-width="25.6" d="M546.5 0V2717" stroke-dasharray="0 485 1 42 1 15 2 1 2 23 1 17 1 12 2 12 1 23 1 2 1 6 1 30 1 171 1 1 1 3000"/>
<path stroke="#efe1ff" stroke-width="25.6" d="M546.5 0V2717" stroke-dasharray="0 543 1 5 1 20 2 3 1 20 2 71 3 52 1 28 2 2 3 15 1 89 1 4 2 7 2 3000"/>
<path stroke="#efe4fb" stroke-width="25.6" d="M546.5 0V2717" stroke-dasharray="0 248 3 8 3 52 3 30 1 12 3 5 3 63 1 987 1 189 1 23 1 61 2 32 3 3000"/>
<path stroke="#f2e7ff" stroke-width="25.6" d="M546.5 0V2717" stroke-dasharray="0 910 1 50 2 2 2 75 2 5 1 65 1 41 1 16 1 5 1 1 2 24 1 41 2 51 1 2 2 21 1 27 1 490 2 2 2 3 1 81 2 80 1 49 1 10 2 15 1 32 1 23 1 18 1 129 1 26 1 26 1 29 1 23 2 12 1 4 1 105 2 39 2 3000"/>
<path stroke="#f5e7ff" stroke-width="25.6" d="M546.5 0V2717" stroke-dasharray="0 471 1 16 1 6 1 20 3 28 2 4 1 23 1 18 1 21 2 70 1 36 2 26 2 7 1 63 1 49 1 3 1 4 2 3000"/>
<path stroke="#f6eefb" stroke-width="25.6" d="M546.5 0V2717" stroke-dasharray="0 1373 3 7 3 25 1 28 3 63 3 92 3 53 3 19 4 89 1 25 2 3000"/>
<path stroke="#f8edff" stroke-width="25.6" d="M546.5 0V2717" stroke-dasharray="0 963 1 2 2 11 2 35 1 56 1 57 1 85 2 23 2 15 1 71 1 22 1 549 2 3 1 73 1 40 2 18 1 12 1 17 2 1 1 40 1 18 2 24 2 20 1 29 1 9 1 13 2 9 1 16 2 67 1 6 1 6 1 15 1 18 2 103 1 15 2 17 1 1 1 30 2 18 1 9 2 5 1 55 1 3000"/>
<path stroke="#fa0709" stroke-width="25.6" d="M546.5 0V2717" stroke-dasharray="0 280 2 13 2 14 1 10 3 30 3 26 2 24 3 2 2 804 1 157 5 83 2 71 3 18 1 34 4 124 2 5 2 55 2 14 2 793 1 3000"/>
<path stroke="#fa3727" stroke-width="25.6" d="M546.5 0V2717" stroke-dasharray="0 234 4 7 3 6 3 32 3 9 1 5 1 24 4 1 2 1 3 30 4 9 1 46 2 1 2 19 1 45 1 366 1 430 1 68 1 11 6 24 2 11 3 7 3 24 3 1 4 22 2 9 3 4 2 25 2 16 3 10 4 8 2 4 2 1 3 13 5 22 4 14 1 16 6 8 2 3 3 11 3 2 2 6 2 10 2 14 2 2 2 1 2 6 3 7 4 11 2 16 4 7 1 761 4 5 2 23 2 3000"/>
<path stroke="#fb523f" stroke-width="25.6" d="M546.5 0V2717" stroke-dasharray="0 244 4 37 4 2 2 47 3 7 2 7 3 13 2 1 1 16 2 40 2 849 2 90 2 2 3 9 3 4 1 4 3 1 3 23 2 3 3 12 3 2 5 3 2 31 3 1 2 15 3 40 2 3 1 57 2 7 2 3 3 4 2 1 3 20 3 5 2 19 3 3 2 31 2 22 2 5 3 2 1 15 1 6 1 15 3 4 1 1 2 1 3 557 1 195 5 3000"/>
<path stroke="#fb6a56" stroke-width="25.6" d="M546.5 0V2717" stroke-dasharray="0 243 4 4 3 21 2 13 2 2 1 3 5 6 2 8 3 6 2 28 3 32 1 27 1 16 2 177 1 341 1 410 1 23 2 18 3 32 2 1 1 5 2 1 1 11 2 7 1 16 2 9 2 23 1 1 2 16 2 7 2 6 2 27 2 10 3 15 2 5 2 2 2 2 1 6 3 31 4 11 2 6 1 1 3 2 2 28 2 3 1 30 2 29 3 180 2 17 1 554 3 17 3 3000"/>
<path stroke="#fbf3f6" stroke-width="25.6" d="M546.5 0V2717" stroke-dasharray="0 246 3 60 3 34 1 1141 1 7 1 145 3 55 2 114 3 13 3 3000"/>
<path stroke="#fc816d" stroke-width="25.6" d="M546.5 0V2717" stroke-dasharray="0 238 3 12 3 25 3 8 2 65 2 51 2 4 2 1 3 10 2 495 2 442 2 12 3 17 3 20 1 7 2 69 2 6 2 22 1 20 2 4 3 8 3 1 4 6 2 7 3 15 2 8 2 6 2 19 3 20 2 10 3 22 2 3 2 10 3 30 3 27 2 6 3 3 2 13 5 20 2 57 1 663 1 3000"/>
<path stroke="#fc9684" stroke-width="25.6" d="M546.5 0V2717" stroke-dasharray="0 237 2 6 1 14 3 20 1 21 2 10 2 7 3 16 2 39 2 3 2 10 2 28 1 5 1 330 1 374 1 241 1 5 3 26 2 53 3 13 1 7 1 12 3 39 1 1 1 19 4 7 2 13 2 2 3 2 2 3 2 13 2 2 5 6 3 2 2 12 3 3 1 15 3 8 1 44 2 2 2 33 3 1 2 4 1 14 2 1 1 9 3 1 1 6 1 514 2 222 2 25 2 3000"/>
<path stroke="#fdab9c" stroke-width="25.6" d="M546.5 0V2717" stroke-dasharray="0 268 2 46 2 14 1 7 3 6 1 23 2 21 2 17 1 3 2 6 2 57 1 356 1 140 2 385 3 13 2 38 2 15 4 2 1 19 1 49 1 6 3 23 3 33 2 15 3 1 3 60 2 10 2 64 2 8 2 4 2 430 2 388 2 3000"/>
<path stroke="#fdc1b4" stroke-width="25.6" d="M546.5 0V2717" stroke-dasharray="0 245 3 19 1 30 2 64 3 8 2 8 1 375 2 715 3 21 1 20 3 34 3 13 3 14 2 14 2 14 3 81 2 52 3 29 1 30 2 223 2 87 2 3000"/>
<path stroke="#fed5cc" stroke-width="25.6" d="M546.5 0V2717" stroke-dasharray="0 335 2 28 3 9 2 16 2 21 3 968 3 38 3 45 2 32 1 23 3 52 3 32 1 6 3 97 1 21 2 22 2 4 2 22 3 198 1 536 2 3000"/>
<path stroke="#fee9e5" stroke-width="25.6" d="M546.5 0V2717" stroke-dasharray="0 1434 3 223 2 90 2 3000"/>
<path stroke="#fef3ff" stroke-width="25.6" d="M546.5 0V2717" stroke-dasharray="0 941 1 22 2 9 1 22 1 47 1 4 2 27 2 8 1 38 2 61 1 6 2 37 1 4 1 19 1 4 2 65 2 515 2 6 2 9 2 27 1 48 1 28 2 56 1 6 1 30 1 20 1 43 1 87 1 9 1 22 2 1 1 136 2 16 1 54 2 32 1 8 1 90 1 41 1 3000"/>
<path stroke="#e9dbff" stroke-width="25.6" d="M572.1 0V2717" stroke-dasharray="0 956 1 86 1 9 1 214 4 87 2 609 2 46 1 11 2 2 2 10 1 1 2 18 1 40 2 9 2 10 1 38 2 47 2 46 1 81 1 5 2 41 1 28 2 14 1 104 1 68 2 28 2 3000"/>
<path stroke="#efe1ff" stroke-width="25.6" d="M572.1 0V2717" stroke-dasharray="0 917 2 12 1 7 1 6 1 7 1 51 1 17 1 18 1 17 2 198 1 35 2 44 1 664 1 21 2 4 1 14 1 18 1 3 2 48 2 7 2 33 1 19 2 41 2 5 1 26 2 45 1 16 1 6 1 17 1 26 1 6 2 26 1 14 1 12 1 5 1 9 2 24 1 5 2 42 1 6 1 21 1 18 1 25 1 38 1 3000"/>
<path stroke="#efe4fb" stroke-width="25.6" d="M572.1 0V2717" stroke-dasharray="0 250 4 11 3 34 1 32 2 83 1 977 2 54 1 78 3 134 3 89 1 21 3 30 2 90 3 3000"/>
<path stroke="#f2e7ff" stroke-width="25.6" d="M572.1 0V2717" stroke-dasharray="0 488 1 55 1 85 1 13 1 20 2 39 2 10 1 2 1 92 2 16 2 18 2 15 2 2 1 9 1 204 1 6 1 25 2 97 2 13 1 3000"/>
<path stroke="#f5e7ff" stroke-width="25.6" d="M572.1 0V2717" stroke-dasharray="0 911 2 1 1 8 2 17 1 62 1 11 1 18 2 15 1 253 2 12 1 24 1 638 1 1 1 44 1 7 2 19 3 102 2 21 1 3 2 90 2 53 1 11 1 37 2 44 1 22 2 31 1 6 1 5 1 14 2 41 1 17 1 30 1 38 2 3000"/>
<path stroke="#f6eefb" stroke-width="25.6" d="M572.1 0V2717" stroke-dasharray="0 349 3 17 3 1056 1 146 2 29 2 92 2 12 2 52 2 39 1 85 3 6 3 3000"/>
<path stroke="#f8edff" stroke-width="25.6" d="M572.1 0V2717" stroke-dasharray="0 510 2 60 2 2 1 10 1 3 2 13 1 17 2 2 2 2 1 84 3 36 1 15 1 23 1 16 1 67 1 192 1 21 1 13 1 47 1 4 2 15 1 3 1 7 1 3000"/>
<path stroke="#fa0709" stroke-width="25.6" d="M572.1 0V2717" stroke-dasharray="0 681 1 167 1 555 1 50 3 68 3 3 2 47 2 4 2 22 1 10 2 7 1 43 3 19 2 55 1 11 2 6 2 1 1 11 3 83 2 57 2 6 2 3000"/>
<path stroke="#fa3727" stroke-width="25.6" d="M572.1 0V2717" stroke-dasharray="0 247 1 6 2 46 1 5 1 5 3 30 1 8 3 186 2 1 2 108 3 99 3 17 3 5 1 50 3 554 3 15 2 19 3 8 1 17 3 6 2 13 2 1 2 21 2 9 3 1 2 7 3 12 2 29 2 4 1 14 2 12 3 3 2 17 1 16 1 3 2 9 2 5 1 1 2 8 1 57 2 9 2 7 2 12 1 10 1 25 3 6 2 3 1 11 2 1 2 50 1 12 3 18 4 9 2 1 1 1 2 3000"/>
<path stroke="#fb523f" stroke-width="25.6" d="M572.1 0V2717" stroke-dasharray="0 238 1 19 5 17 1 3 1 15 1 59 1 1 3 48 3 126 1 58 3 22 2 66 2 57 3 15 2 49 3 303 2 305 2 3 4 14 1 7 1 12 2 54 1 23 1 7 3 21 1 7 2 1 2 23 2 1 2 8 2 6 1 1 1 24 3 2 1 7 1 20 1 10 2 9 3 11 3 35 3 5 5 22 2 10 2 8 1 14 2 36 3 3 3 18 2 5 2 5 1 10 2 1 3 6 3 481 1 49 2 88 2 3000"/>
<path stroke="#fb6a56" stroke-width="25.6" d="M572.1 0V2717" stroke-dasharray="0 243 3 58 1 2 2 7 2 60 2 53 1 111 1 14 2 11 2 15 2 11 1 130 2 6 3 7 2 22 3 4 3 53 2 2 3 248 1 28 2 20 1 24 2 71 2 130 1 4 2 1 2 2 2 5 2 23 2 25 3 3 1 20 2 10 3 3 2 1 2 26 1 8 4 2 3 34 2 7 3 3 3 5 2 12 2 19 4 24 2 11 3 27 2 5 2 4 2 11 2 12 3 21 2 18 3 7 2 50 2 20 3 16 2 30 3 5 3 5 3 9 2 589 1 3000"/>
<path stroke="#fbf3f6" stroke-width="25.6" d="M572.1 0V2717" stroke-dasharray="0 263 3 58 1 1058 3 36 2 14 2 76 1 193 1 41 1 20 3 16 1 111 2 51 3 3000"/>
<path stroke="#fc816d" stroke-width="25.6" d="M572.1 0V2717" stroke-dasharray="0 245 2 130 5 31 2 44 2 56 1 16 1 37 2 122 2 69 1 1 1 12 3 53 2 293 1 110 1 135 2 6 1 12 1 5 2 13 3 34 1 3 2 1 3 15 2 4 1 5 2 7 1 3 6 3 1 9 3 6 2 24 1 16 2 4 2 1 2 21 1 3 3 2 2 7 2 18 1 4 2 6 3 17 4 5 2 34 2 19 2 12 1 1 5 2 1 15 2 11 4 2 1 11 6 4 1 2 3 3 3 8 1 7 2 14 1 30 2 6 3 1 3 4 1 6 2 7 1 11 3 305 2 3000"/>
<path stroke="#fc9684" stroke-width="25.6" d="M572.1 0V2717" stroke-dasharray="0 234 5 58 1 16 1 29 2 12 3 113 2 56 2 12 1 97 1 85 2 14 3 23 1 597 3 2 3 27 2 6 2 19 2 55 2 27 3 7 3 1 2 22 3 10 1 7 2 2 3 31 6 18 2 5 2 18 2 8 1 3 2 2 1 5 2 15 2 4 3 12 2 3 2 6 3 6 3 3 2 20 1 4 3 6 3 11 1 52 1 11 1 6 2 5 4 1 1 5 1 3 3 6 2 4 3 2 2 19 6 7 2 330 2 236 2 3000"/>
<path stroke="#fdab9c" stroke-width="25.6" d="M572.1 0V2717" stroke-dasharray="0 262 2 2 3 13 2 8 3 57 1 6 3 6 1 8 2 36 3 16 2 65 2 56 3 82 2 48 3 6 3 26 3 103 3 16 2 368 2 17 2 148 2 16 2 31 2 32 1 29 2 13 3 13 1 16 1 4 1 11 3 19 3 7 2 14 3 61 1 78 4 10 2 20 1 4 3 11 3 2 3 1 1 28 1 45 3 10 2 22 1 415 1 219 1 3000"/>
<path stroke="#fdc1b4" stroke-width="25.6" d="M572.1 0V2717" stroke-dasharray="0 301 2 1 3 71 2 32 3 16 3 64 1 63 1 31 2 24 2 17 3 113 1 398 2 3 2 217 3 14 3 19 3 215 2 17 2 109 2 9 2 37 1 22 2 18 2 26 2 3 3 33 2 25 3 32 2 55 1 317 2 115 1 16 2 3000"/>
<path stroke="#fed5cc" stroke-width="25.6" d="M572.1 0V2717" stroke-dasharray="0 239 2 129 2 11 3 122 2 2 3 17 1 82 1 38 3 79 2 27 2 40 2 363 2 214 2 15 1 91 2 42 1 21 2 26 2 69 1 29 3 4 2 84 3 48 2 54 3 31 1 5 2 3000"/>
<path stroke="#fee9e5" stroke-width="25.6" d="M572.1 0V2717" stroke-dasharray="0 1693 2 28 1 3000"/>
<path stroke="#fef3ff" stroke-width="25.6" d="M572.1 0V2717" stroke-dasharray="0 485 2 33 1 193 2 5 1 16 2 34 1 74 1 18 1 16 2 276 1 61 2 16 2 3000"/>
<path stroke="#decbff" stroke-width="25.6" d="M597.6 0V2717" stroke-dasharray="0 477 2 10 3 25 1 5 2 81 2 2 3 2 1 39 1 5 1 13 2 18 1 3 2 22 2 40 1 1 1 14 1 7 2 4 2 2 1 61 1 5 1 14 2 973 1 2 1 13 1 7 1 6 2 26 2 5 1 3000"/>
<path stroke="#e6d3ff" stroke-width="25.6" d="M597.6 0V2717" stroke-dasharray="0 484 1 15 2 2 1 8 1 12 1 1 2 17 1 27 3 29 3 11 2 5 2 6 2 24 2 87 1 3 2 17 1 16 1 44 2 1017 1 1 2 1 1 1 2 5 1 68 1 19 2 3000"/>
<path stroke="#e9dbff" stroke-width="25.6" d="M597.6 0V2717" stroke-dasharray="0 1085 1 15 2 66 2 38 1 31 1 731 1 19 1 1 2 5 1 13 1 52 2 36 1 18 1 15 1 23 2 22 1 23 1 10 1 21 2 7 2 1 2 6 2 41 1 28 2 32 1 54 1 223 1 3000"/>
<path stroke="#efe1ff" stroke-width="25.6" d="M597.6 0V2717" stroke-dasharray="0 1098 5 3 1 5 1 30 2 20 1 16 2 792 1 3 1 34 3 1 2 10 1 63 2 81 1 56 2 54 2 8 1 16 1 15 2 1 2 50 1 10 1 12 2 7 1 18 1 3000"/>
<path stroke="#efe4fb" stroke-width="25.6" d="M597.6 0V2717" stroke-dasharray="0 252 2 45 2 132 2 1200 1 4 2 172 2 3000"/>
<path stroke="#f0ddff" stroke-width="25.6" d="M597.6 0V2717" stroke-dasharray="0 489 1 16 1 54 2 5 1 8 1 1 2 16 1 41 2 1 1 18 1 19 1 18 2 4 2 13 1 13 1 36 1 34 1 15 1 11 1 20 1 991 1 12 1 41 1 42 2 3000"/>
<path stroke="#f2e7ff" stroke-width="25.6" d="M597.6 0V2717" stroke-dasharray="0 458 1 464 1 6 2 39 1 21 1 33 1 4 2 285 2 12 2 1 2 6 1 1135 1 46 2 2 1 3000"/>
<path stroke="#f5e7ff" stroke-width="25.6" d="M597.6 0V2717" stroke-dasharray="0 1086 2 51 2 5 1 49 2 34 2 1 1 14 1 720 1 17 2 10 1 14 1 14 1 48 1 49 1 24 2 22 2 69 1 9 1 15 2 6 1 10 2 12 2 85 1 18 2 215 1 5 1 3000"/>
<path stroke="#f6eefb" stroke-width="25.6" d="M597.6 0V2717" stroke-dasharray="0 282 1 23 1 7 1 1092 2 98 1 17 1 95 1 62 3 16 1 37 2 18 2 806 2 3000"/>
<path stroke="#f8edff" stroke-width="25.6" d="M597.6 0V2717" stroke-dasharray="0 927 2 28 2 6 2 18 2 35 1 8 1 7 2 288 1 27 2 1160 1 26 1 3000"/>
<path stroke="#fa0709" stroke-width="25.6" d="M597.6 0V2717" stroke-dasharray="0 234 1 15 2 9 3 5 1 114 1 256 2 270 2 15 2 44 2 185 1 172 3 3 1 29 3 22 2 47 1 83 2 2 6 45 2 7 3 12 2 28 2 3 1 19 2 22 1 4 1 27 2 86 2 8 3 12 3 213 1 115 1 9 1 99 2 203 1 76 2 17 1 3000"/>
<path stroke="#fa3727" stroke-width="25.6" d="M597.6 0V2717" stroke-dasharray="0 235 2 15 1 6 1 45 6 7 2 16 3 2 2 18 3 9 2 10 4 23 3 6 2 303 2 272 2 12 1 300 1 38 2 13 2 3 2 10 4 3 2 10 2 2 1 2 3 14 1 67 1 8 2 7 1 21 1 4 3 30 2 11 4 6 2 39 1 1 2 2 1 2 3 14 2 4 2 9 2 2 3 7 3 27 2 5 1 23 3 9 1 2 3 14 1 13 2 2 1 21 2 7 2 479 2 180 2 29 2 3 1 2 2 19 3 10 2 5 2 6 2 4 3 4 2 3000"/>
<path stroke="#fb523f" stroke-width="25.6" d="M597.6 0V2717" stroke-dasharray="0 239 1 5 2 7 3 21 1 37 2 30 3 3 3 13 2 17 1 13 2 5 1 11 2 11 2 609 2 221 2 59 3 39 3 5 1 4 5 10 1 4 2 24 2 16 3 7 2 9 3 14 3 27 2 8 2 45 2 5 1 5 2 43 1 15 1 20 3 3 3 6 2 22 1 4 3 3 3 15 2 23 1 1 3 14 2 16 3 3 3 12 2 477 2 53 2 179 1 26 1 4 1 7 3 5 1 12 3 3000"/>
<path stroke="#fb6a56" stroke-width="25.6" d="M597.6 0V2717" stroke-dasharray="0 249 3 32 2 18 2 30 3 49 3 37 2 503 1 75 2 12 2 202 2 38 2 9 2 15 2 25 4 17 2 34 2 47 1 13 2 48 1 1 2 19 1 6 2 3 3 23 2 10 2 4 3 6 1 18 2 8 2 2 1 2 6 8 3 26 3 9 1 24 2 9 1 8 1 11 3 39 3 10 3 6 1 11 3 3 4 4 1 1 4 5 3 4 2 219 1 31 1 492 2 13 2 16 4 3000"/>
<path stroke="#fbf3f6" stroke-width="25.6" d="M597.6 0V2717" stroke-dasharray="0 265 2 128 3 12 2 1023 1 18 2 15 3 8 1 33 1 82 3 56 1 7 1 110 1 29 1 30 1 721 1 17 2 3000"/>
<path stroke="#fc816d" stroke-width="25.6" d="M597.6 0V2717" stroke-dasharray="0 260 2 84 2 12 1 9 3 15 2 10 1 1 2 2 2 148 2 411 1 253 1 56 1 7 1 39 1 20 2 8 1 18 3 8 3 3 3 2 4 13 3 24 3 11 3 7 2 12 2 2 2 24 2 41 2 1 1 4 1 13 1 10 2 4 2 6 2 2 3 9 2 40 2 21 3 4 2 22 2 9 1 2 1 27 4 1 2 37 4 18 1 10 2 301 1 223 1 142 2 27 2 30 2 5 1 26 2 3 1 9 1 3000"/>
<path stroke="#fc9684" stroke-width="25.6" d="M597.6 0V2717" stroke-dasharray="0 244 2 5 2 14 2 25 3 24 1 61 3 14 2 3 3 19 3 530 2 134 1 125 2 57 3 19 2 47 2 4 2 18 2 3 2 2 1 9 2 22 6 6 5 30 1 4 2 16 1 5 3 7 1 47 1 6 1 3 3 5 1 3 2 6 2 7 2 3 2 2 2 2 1 36 4 16 4 11 2 6 4 17 2 37 3 4 3 5 1 8 1 54 3 2 1 330 2 35 2 126 2 242 2 36 2 1 3 3000"/>
<path stroke="#fdab9c" stroke-width="25.6" d="M597.6 0V2717" stroke-dasharray="0 412 1 179 2 353 2 42 1 13 1 383 2 4 2 8 2 25 2 15 1 20 3 2 5 17 2 21 3 13 3 23 3 40 2 16 3 2 2 18 1 14 2 21 2 26 2 25 2 29 2 3 3 26 1 24 1 485 2 71 1 171 1 4 2 7 1 21 2 9 2 3000"/>
<path stroke="#fdc1b4" stroke-width="25.6" d="M597.6 0V2717" stroke-dasharray="0 372 2 60 3 79 1 176 2 203 1 41 2 44 2 176 1 416 2 40 2 61 2 40 2 4 2 26 3 14 2 224 1 160 2 91 2 239 2 3000"/>
<path stroke="#fed5cc" stroke-width="25.6" d="M597.6 0V2717" stroke-dasharray="0 964 2 266 1 158 3 1 3 76 1 11 2 9 2 24 1 56 1 9 2 39 2 8 3 73 2 7 2 81 3 1 4 9 5 298 2 446 1 7 2 5 2 3000"/>
<path stroke="#fee9e5" stroke-width="25.6" d="M597.6 0V2717" stroke-dasharray="0 2596 1 3000"/>
<path stroke="#fef3ff" stroke-width="25.6" d="M597.6 0V2717" stroke-dasharray="0 901 2 6 1 88 1 41 1 251 2 18 1 22 1 19 1 1130 1 28 1 8 1 3000"/>
<path stroke="#fa3727" stroke-width="25.6" d="M623.1 0V2717" stroke-dasharray="0 510 2 849 1 3000"/>
<path stroke="#fb523f" stroke-width="25.6" d="M623.1 0V2717" stroke-dasharray="0 546 1 3000"/>
<path stroke="#fb6a56" stroke-width="25.6" d="M623.1 0V2717" stroke-dasharray="0 1409 1 3000"/>
<path stroke="#fc816d" stroke-width="25.6" d="M623.1 0V2717" stroke-dasharray="0 550 1 297 2 596 1 3000"/>
<path stroke="#fdab9c" stroke-width="25.6" d="M623.1 0V2717" stroke-dasharray="0 518 1 850 1 3000"/>
<path stroke="#fdc1b4" stroke-width="25.6" d="M623.1 0V2717" stroke-dasharray="0 666 2 3000"/>
<path stroke="#fa0709" stroke-width="25.6" d="M648.6 0V2717" stroke-dasharray="0 501 3 49 6 253 3 29 2 52 2 1031 2 3000"/>
<path stroke="#fa3727" stroke-width="25.6" d="M648.6 0V2717" stroke-dasharray="0 434 1 45 2 24 3 16 3 8 2 43 5 1 2 15 1 1 1 8 1 25 1 27 2 34 5 12 2 20 8 16 2 75 3 4 3 105 2 202 1 80 1 232 1 46 2 369 2 18 1 243 1 23 1 84 2 1 2 231 2 3000"/>
<path stroke="#fb523f" stroke-width="25.6" d="M648.6 0V2717" stroke-dasharray="0 458 4 13 3 11 3 18 2 3 1 18 1 57 2 5 1 22 2 12 2 12 2 10 1 13 2 6 3 3 2 52 1 64 1 5 2 12 2 10 2 3 3 27 1 8 1 88 2 17 1 18 1 405 2 101 2 19 1 539 1 3000"/>
<path stroke="#fb6a56" stroke-width="25.6" d="M648.6 0V2717" stroke-dasharray="0 446 2 5 1 19 3 37 3 15 3 19 3 42 2 19 2 13 3 11 2 5 1 10 2 11 1 11 2 2 1 6 2 14 1 18 1 1 2 71 3 5 5 37 5 21 1 44 1 33 2 18 2 23 1 287 2 207 1 24 1 27 1 47 1 302 2 38 2 200 2 114 2 87 1 24 1 3000"/>
<path stroke="#fc816d" stroke-width="25.6" d="M648.6 0V2717" stroke-dasharray="0 488 2 15 3 11 1 23 4 19 1 1 2 39 1 30 3 46 1 25 2 6 2 7 2 12 1 11 3 54 2 20 1 23 2 1 2 82 1 218 1 155 1 570 1 35 1 84 2 144 1 46 2 75 2 3000"/>
<path stroke="#fc9684" stroke-width="25.6" d="M648.6 0V2717" stroke-dasharray="0 473 2 3 2 3 2 9 3 24 3 7 2 22 3 34 2 2 1 14 2 39 3 3 1 11 1 14 3 50 2 10 2 14 2 26 1 37 2 5 1 9 2 3 3 10 1 1 1 16 1 134 2 107 1 16 2 44 1 28 2 112 2 69 2 420 2 354 1 146 1 3000"/>
<path stroke="#fdab9c" stroke-width="25.6" d="M648.6 0V2717" stroke-dasharray="0 238 1 216 2 45 2 90 2 11 1 52 2 4 3 77 2 5 1 3 3 98 2 119 2 10 1 335 2 543 2 273 2 291 1 3000"/>
<path stroke="#fdc1b4" stroke-width="25.6" d="M648.6 0V2717" stroke-dasharray="0 936 2 5 2 89 1 363 1 19 2 291 2 294 1 357 2 150 1 3000"/>
<path stroke="#fed5cc" stroke-width="25.6" d="M648.6 0V2717" stroke-dasharray="0 259 1 192 2 448 2 9 1 130 1 399 1 40 2 845 2 176 2 36 1 3000"/>
<path stroke="#e9dbff" stroke-width="25.6" d="M674.2 0V2717" stroke-dasharray="0 276 1 11 1 19 1 42 1 29 3 8 2 26 2 6 2 941 1 57 1 35 2 15 1 12 1 17 2 2 1 7 1 323 1 6 1 41 1 105 2 27 1 10 2 23 2 11 2 30 1 29 2 2 1 1 2 19 1 5 1 21 1 2 2 4 1 63 1 22 2 17 2 4 1 13 1 33 1 4 1 87 1 20 1 20 2 21 2 6 1 110 1 3000"/>
<path stroke="#efe1ff" stroke-width="25.6" d="M674.2 0V2717" stroke-dasharray="0 261 1 16 2 19 1 22 1 15 2 59 1 972 1 2 2 28 1 39 1 90 2 345 1 3 2 20 2 29 2 42 1 2 1 20 1 4 1 8 1 74 2 10 2 2 1 94 2 40 1 7 1 8 1 6 1 50 3 46 2 4 1 16 2 9 2 20 1 25 1 15 2 73 2 3000"/>
<path stroke="#efe4fb" stroke-width="25.6" d="M674.2 0V2717" stroke-dasharray="0 1298 3 260 1 159 3 16 1 28 3 56 3 3000"/>
<path stroke="#f2e7ff" stroke-width="25.6" d="M674.2 0V2717" stroke-dasharray="0 515 1 10 1 27 1 29 1 23 2 6 2 10 2 47 1 47 2 4 2 13 1 74 1 3 2 74 2 51 1 12 2 13 1 19 1 25 1 8 1 8 2 17 1 51 1 86 1 3000"/>
<path stroke="#f5e7ff" stroke-width="25.6" d="M674.2 0V2717" stroke-dasharray="0 253 1 27 1 36 1 27 2 21 1 10 1 27 3 13 1 952 1 17 1 17 3 58 2 21 1 2 1 391 1 1 1 8 1 28 3 22 1 29 1 7 1 42 2 43 1 32 2 116 2 24 1 107 2 3 1 36 1 5 1 31 1 9 2 30 2 21 1 34 1 81 1 2 2 3000"/>
<path stroke="#f6eefb" stroke-width="25.6" d="M674.2 0V2717" stroke-dasharray="0 1332 3 2 3 316 2 53 1 29 1 46 1 11 2 23 1 743 1 34 2 3000"/>
<path stroke="#f8edff" stroke-width="25.6" d="M674.2 0V2717" stroke-dasharray="0 565 2 2 2 30 2 18 1 8 1 18 1 10 1 10 1 59 1 4 2 4 1 27 2 50 1 5 1 16 1 7 2 26 1 95 2 16 1 38 1 5 2 36 2 7 1 35 2 46 1 51 2 26 1 3000"/>
<path stroke="#fa0709" stroke-width="25.6" d="M674.2 0V2717" stroke-dasharray="0 462 2 11 1 65 3 2 2 5 2 1 2 118 1 30 3 47 3 8 2 152 1 35 2 38 2 20 2 34 3 30 3 60 2 58 3 44 2 366 2 59 1 5 1 19 3 15 3 12 3 23 2 11 3 11 1 113 2 653 2 3000"/>
<path stroke="#fa3727" stroke-width="25.6" d="M674.2 0V2717" stroke-dasharray="0 458 2 43 3 9 2 53 4 21 3 2 2 14 4 26 2 14 2 1 2 76 2 2 2 46 1 13 3 28 1 42 2 4 1 99 1 9 2 18 2 43 1 18 1 1 3 81 3 27 3 12 3 43 3 1 1 10 1 29 2 20 2 2 1 2 1 6 1 213 2 2 3 22 1 30 3 4 4 7 1 14 5 5 3 1 2 3 2 15 2 3 5 8 1 5 2 37 2 8 2 20 2 3 1 4 2 9 2 12 2 1 2 7 3 7 2 568 1 13 2 16 1 156 3 8 3 3000"/>
<path stroke="#fb523f" stroke-width="25.6" d="M674.2 0V2717" stroke-dasharray="0 476 1 41 2 33 2 12 2 52 2 8 2 7 1 48 1 4 2 49 2 34 4 2 3 40 2 34 2 1 3 7 1 25 1 63 3 42 1 100 2 15 1 18 3 17 2 57 2 28 2 13 4 27 1 3 1 1 2 17 2 3 1 4 3 4 3 133 1 85 3 4 3 4 2 6 1 1 2 3 2 2 2 17 4 19 3 17 2 5 3 12 1 20 1 16 4 34 2 6 2 16 3 16 2 19 2 9 1 319 1 193 1 210 3 12 2 3000"/>
<path stroke="#fb6a56" stroke-width="25.6" d="M674.2 0V2717" stroke-dasharray="0 480 3 31 1 30 1 3 1 9 1 51 1 7 1 8 2 14 2 62 3 9 1 189 3 37 1 8 2 10 1 34 1 13 2 17 1 92 2 62 2 68 2 30 1 3 3 8 2 20 3 9 2 130 2 78 2 31 1 6 1 6 2 10 1 2 2 49 1 31 1 8 2 10 1 27 2 1 1 13 3 1 2 2 3 10 1 4 2 4 2 89 1 121 2 9 1 50 1 59 2 48 2 154 2 22 2 211 1 4 3 10 2 14 2 3000"/>
<path stroke="#fbf3f6" stroke-width="25.6" d="M674.2 0V2717" stroke-dasharray="0 1294 3 277 2 11 1 117 2 855 3 3000"/>
<path stroke="#fc816d" stroke-width="25.6" d="M674.2 0V2717" stroke-dasharray="0 447 1 73 2 8 2 3 1 1 1 20 3 3 1 11 2 24 3 24 3 41 2 100 1 1 2 5 2 50 1 11 1 54 2 14 1 21 2 61 3 2 2 31 2 1 4 114 1 12 2 87 2 5 2 2 3 7 2 5 3 10 2 24 2 12 2 218 3 2 1 5 2 32 2 42 2 38 2 5 1 1 3 16 2 51 2 10 2 7 1 3 2 12 3 13 1 236 1 52 1 67 2 56 1 109 2 10 1 69 1 125 2 46 2 3000"/>
<path stroke="#fc9684" stroke-width="25.6" d="M674.2 0V2717" stroke-dasharray="0 451 1 9 2 133 1 10 1 9 1 14 1 10 2 12 2 76 2 49 3 19 2 13 2 54 2 41 2 47 1 8 3 28 2 18 3 6 2 17 4 20 1 37 3 46 1 46 2 41 2 4 2 58 3 247 1 8 2 62 1 1 3 9 2 40 2 13 1 2 2 28 1 5 2 13 2 24 3 4 2 8 2 429 2 346 2 3000"/>
<path stroke="#fdab9c" stroke-width="25.6" d="M674.2 0V2717" stroke-dasharray="0 564 1 160 2 11 2 41 2 1 1 11 1 92 1 46 3 139 1 31 1 151 3 8 2 23 2 42 2 3 4 237 3 28 3 37 2 3 3 9 1 19 2 11 2 80 3 29 4 1 4 183 2 32 1 19 1 75 2 52 2 15 1 68 1 293 2 30 2 1 3 3000"/>
<path stroke="#fdc1b4" stroke-width="25.6" d="M674.2 0V2717" stroke-dasharray="0 1113 1 62 2 129 3 460 1 370 2 19 1 77 2 98 1 97 2 39 1 112 3 3000"/>
<path stroke="#fed5cc" stroke-width="25.6" d="M674.2 0V2717" stroke-dasharray="0 448 3 635 3 66 1 110 1 40 4 262 3 25 2 36 2 18 2 14 2 32 3 68 1 190 1 49 2 285 1 3000"/>
<path stroke="#fee9e5" stroke-width="25.6" d="M674.2 0V2717" stroke-dasharray="0 463 1 1122 2 23 1 3000"/>
<path stroke="#fef3ff" stroke-width="25.6" d="M674.2 0V2717" stroke-dasharray="0 502 3 10 1 77 2 92 1 15 1 68 1 11 1 5 2 12 1 46 1 51 1 102 2 33 1 7 1 28 2 33 1 14 1 12 1 4 1 36 2 38 2 12 1 8 2 3000"/>
<path stroke="#decbff" stroke-width="25.6" d="M699.7 0V2717" stroke-dasharray="0 1849 2 17 1 4 2 1 1 24 2 81 3 5 2 24 1 12 1 13 2 5 1 35 2 80 2 19 1 5 1 3 3 25 2 19 1 9 1 1 2 1 1 17 1 79 1 12 2 45 1 12 2 3000"/>
<path stroke="#e6d3ff" stroke-width="25.6" d="M699.7 0V2717" stroke-dasharray="0 1867 1 35 1 18 2 10 2 14 1 6 2 29 1 10 1 5 2 8 1 70 2 19 1 7 1 23 2 45 1 9 1 1 1 6 2 35 2 2 2 1 2 34 1 4 1 23 1 8 3 36 1 2 2 5 1 2 2 55 1 25 2 3000"/>
<path stroke="#e9dbff" stroke-width="25.6" d="M699.7 0V2717" stroke-dasharray="0 938 1 5 1 3 2 6 2 54 1 28 1 46 2 3 1 31 1 16 1 3 2 54 2 34 2 10 1 20 1 20 2 4 1 5 2 7 1 14 2 3000"/>
<path stroke="#efe1ff" stroke-width="25.6" d="M699.7 0V2717" stroke-dasharray="0 932 2 29 2 3 1 22 1 6 4 5 2 1 2 19 1 30 1 20 1 14 2 40 1 1 1 20 1 42 2 25 2 30 1 12 1 26 1 20 2 3000"/>
<path stroke="#efe4fb" stroke-width="25.6" d="M699.7 0V2717" stroke-dasharray="0 260 1 100 4 47 2 10 3 1045 1 13 1 15 1 73 3 60 1 149 2 24 2 3000"/>
<path stroke="#f0ddff" stroke-width="25.6" d="M699.7 0V2717" stroke-dasharray="0 1858 1 4 3 38 2 26 2 16 2 2 1 27 2 13 1 1 2 9 2 31 2 3 1 20 1 26 1 18 1 7 2 4 2 2 1 1 1 44 2 6 1 36 2 78 2 24 1 18 2 16 2 29 1 2 1 24 1 32 1 3000"/>
<path stroke="#f2e7ff" stroke-width="25.6" d="M699.7 0V2717" stroke-dasharray="0 498 2 10 1 24 2 17 1 9 1 17 1 18 2 29 1 131 1 18 1 8 2 16 1 9 2 1678 2 39 2 18 2 20 1 3000"/>
<path stroke="#f5e7ff" stroke-width="25.6" d="M699.7 0V2717" stroke-dasharray="0 915 1 50 1 68 2 13 2 84 2 7 1 2 1 66 2 8 2 116 1 4 1 3000"/>
<path stroke="#f6eefb" stroke-width="25.6" d="M699.7 0V2717" stroke-dasharray="0 1469 2 8 3 17 2 9 2 122 1 61 1 120 4 3000"/>
<path stroke="#f8edff" stroke-width="25.6" d="M699.7 0V2717" stroke-dasharray="0 476 2 40 1 27 2 17 2 64 1 5 2 3 1 40 2 26 2 25 1 49 2 44 1 26 1 1 1 6 1 1631 1 2 1 24 1 1 2 58 1 16 1 38 1 3000"/>
<path stroke="#fa0709" stroke-width="25.6" d="M699.7 0V2717" stroke-dasharray="0 295 2 133 3 119 2 120 2 33 1 12 1 11 2 46 2 69 3 246 2 39 2 20 2 214 2 16 2 3 2 45 2 23 2 95 1 16 1 100 1 32 3 11 5 2 2 600 1 91 1 3000"/>
<path stroke="#fa3727" stroke-width="25.6" d="M699.7 0V2717" stroke-dasharray="0 259 3 80 1 1 1 20 2 25 1 9 2 10 3 6 3 6 1 42 2 3 2 35 3 1 1 32 3 11 2 27 2 102 1 25 1 10 4 5 2 25 2 10 3 9 1 3 2 23 2 7 2 43 1 33 1 73 1 55 1 8 2 50 1 85 1 25 1 154 2 25 2 62 1 19 3 35 3 12 3 3 2 16 2 34 1 1 2 38 2 26 3 8 1 37 3 12 2 11 2 2 3 11 3 9 2 5 2 12 3 10 3 697 1 4 3 3000"/>
<path stroke="#fb523f" stroke-width="25.6" d="M699.7 0V2717" stroke-dasharray="0 288 1 20 2 44 2 18 2 14 2 2 2 6 2 33 2 14 1 63 2 12 3 25 1 13 2 5 2 36 6 13 1 32 1 45 3 6 1 17 11 6 1 31 1 41 2 18 3 49 2 71 1 114 2 21 2 250 5 20 2 1 1 7 3 18 2 15 2 23 2 41 2 17 1 26 2 12 2 22 3 3 3 8 2 31 1 25 3 4 3 18 2 56 2 36 3 20 2 17 1 230 2 137 1 50 2 69 2 31 2 33 2 173 1 34 3 3000"/>
<path stroke="#fb6a56" stroke-width="25.6" d="M699.7 0V2717" stroke-dasharray="0 284 2 2 1 3 2 1 1 1 3 39 2 1 3 4 3 10 2 18 3 15 2 4 2 30 2 117 2 10 2 50 5 8 2 29 2 3 2 63 2 30 3 70 1 18 2 4 1 14 1 74 1 34 2 142 2 66 1 6 1 170 2 56 2 3 2 10 2 28 2 7 2 8 3 6 3 4 2 33 1 2 2 3 2 2 1 32 2 18 3 1 3 42 2 2 1 5 2 36 5 1 4 1 2 48 2 31 2 1 3 2 3 9 2 547 2 198 1 47 1 3000"/>
<path stroke="#fbf3f6" stroke-width="25.6" d="M699.7 0V2717" stroke-dasharray="0 269 1 21 3 56 3 1078 3 158 3 45 3 113 1 11 1 60 5 3000"/>
<path stroke="#fc816d" stroke-width="25.6" d="M699.7 0V2717" stroke-dasharray="0 244 3 47 3 11 2 48 1 46 3 54 2 21 3 1 3 41 1 18 2 10 2 17 2 42 2 20 2 25 2 5 2 64 1 5 3 22 1 19 3 38 3 143 2 64 1 85 1 252 3 12 2 31 2 50 2 19 3 3 1 17 1 20 2 19 2 7 3 32 2 44 3 34 3 6 1 23 3 12 1 14 2 2 2 8 2 11 2 13 3 2 2 13 3 5 2 24 2 355 2 50 1 198 1 19 1 70 1 8 3 3000"/>
<path stroke="#fc9684" stroke-width="25.6" d="M699.7 0V2717" stroke-dasharray="0 247 3 14 3 43 1 39 2 39 5 16 2 41 1 101 2 36 1 55 3 72 2 67 2 19 3 19 2 29 1 59 2 78 1 50 2 60 1 16 2 53 1 160 2 17 1 10 1 25 1 19 2 11 2 22 1 8 3 7 1 13 1 2 3 1 3 14 1 16 1 1 1 27 1 1 2 11 3 7 2 17 1 3 2 55 2 16 3 1 2 4 2 8 2 61 2 23 1 6 2 2 5 164 2 132 1 239 2 113 1 13 1 2 2 71 2 3000"/>
<path stroke="#fdab9c" stroke-width="25.6" d="M699.7 0V2717" stroke-dasharray="0 248 1 39 2 63 3 26 2 21 3 4 2 5 2 2 2 26 3 4 1 29 2 43 2 28 1 132 3 58 2 126 3 122 2 415 1 42 3 33 3 10 3 20 2 49 4 16 2 22 2 4 3 54 1 2 3 85 1 13 2 273 1 144 1 9 2 302 3 21 2 3000"/>
<path stroke="#fdc1b4" stroke-width="25.6" d="M699.7 0V2717" stroke-dasharray="0 280 2 71 3 30 1 38 1 6 4 535 1 31 1 55 2 33 2 101 2 24 1 190 2 90 2 46 3 78 2 13 3 10 1 56 2 487 1 26 2 354 1 3000"/>
<path stroke="#fed5cc" stroke-width="25.6" d="M699.7 0V2717" stroke-dasharray="0 246 1 2 1 55 3 125 2 481 1 196 2 36 1 300 1 56 2 252 1 53 2 534 2 159 3 3 1 5 3 16 3 12 2 3000"/>
<path stroke="#fee9e5" stroke-width="25.6" d="M699.7 0V2717" stroke-dasharray="0 1428 2 135 1 50 3 193 1 3000"/>
<path stroke="#fef3ff" stroke-width="25.6" d="M699.7 0V2717" stroke-dasharray="0 487 1 10 2 37 2 3 2 4 2 11 1 117 2 123 1 41 1 14 1 8 1 1622 1 38 1 81 1 3 2 19 2 3000"/>
<path stroke="#efe4fb" stroke-width="25.6" d="M725.2 0V2717" stroke-dasharray="0 1459 3 32 1 129 2 162 3 1 1 16 2 27 3 3000"/>
<path stroke="#f2e7ff" stroke-width="25.6" d="M725.2 0V2717" stroke-dasharray="0 504 2 9 1 8 1 27 1 28 1 8 1 98 1 54 1 17 1 34 1 14 1 18 1 27 2 61 1 29 1 37 1 31 2 17 2 54 1 25 1 15 1 62 1 9 3 25 1 5 1 624 1 9 2 5 1 54 2 14 1 65 2 12 1 31 2 30 1 5 1 24 1 17 1 29 3 38 1 57 1 25 1 39 1 37 1 28 1 55 1 4 1 72 2 3000"/>
<path stroke="#f6eefb" stroke-width="25.6" d="M725.2 0V2717" stroke-dasharray="0 1418 3 41 3 20 2 216 2 14 1 109 3 3000"/>
<path stroke="#f8edff" stroke-width="25.6" d="M725.2 0V2717" stroke-dasharray="0 492 1 41 2 1 2 9 2 5 1 4 2 17 2 32 3 38 1 56 2 10 1 69 2 49 2 11 1 13 1 8 1 2 1 67 1 36 2 19 1 3 2 36 2 59 1 6 1 66 1 663 1 66 1 24 1 64 2 13 1 42 2 1 1 66 1 6 1 27 1 19 1 124 1 9 1 30 2 25 1 36 1 26 2 5 1 51 2 25 2 3000"/>
<path stroke="#fa0709" stroke-width="25.6" d="M725.2 0V2717" stroke-dasharray="0 325 2 86 2 491 3 487 1 35 2 75 1 31 3 87 1 41 4 33 3 4 1 20 2 33 3 17 3 10 2 13 2 11 2 3000"/>
<path stroke="#fa3727" stroke-width="25.6" d="M725.2 0V2717" stroke-dasharray="0 304 1 583 2 17 1 144 2 57 2 260 2 35 3 47 2 41 1 20 1 6 2 25 2 12 2 61 2 31 1 21 3 11 2 9 2 16 2 18 3 10 3 13 2 37 1 1 3 4 2 169 1 220 2 148 1 211 3 5 2 3000"/>
<path stroke="#fb523f" stroke-width="25.6" d="M725.2 0V2717" stroke-dasharray="0 273 2 423 1 257 3 58 2 15 1 169 1 168 1 9 4 14 1 1 1 6 3 9 1 4 3 5 2 24 3 29 1 18 2 73 3 3 1 44 1 3 3 51 4 22 2 13 2 14 2 25 2 2 3 10 2 4 3 23 4 518 2 206 3 18 2 6 3 4 2 10 2 5 2 3000"/>
<path stroke="#fb6a56" stroke-width="25.6" d="M725.2 0V2717" stroke-dasharray="0 247 2 1 1 167 2 273 2 319 1 358 3 7 2 5 3 1 2 7 1 40 3 9 1 10 3 4 2 5 3 3 3 18 1 1 3 9 2 43 3 8 1 2 2 20 3 4 3 6 1 8 2 14 2 14 3 20 2 24 3 8 3 6 2 3 2 22 1 27 1 34 2 2 2 6 3 254 1 472 2 2 3 4 1 13 3 8 3 1 3 4 3 3000"/>
<path stroke="#fbf3f6" stroke-width="25.6" d="M725.2 0V2717" stroke-dasharray="0 1384 2 10 2 68 3 83 1 40 2 44 2 15 3 16 2 3000"/>
<path stroke="#fc816d" stroke-width="25.6" d="M725.2 0V2717" stroke-dasharray="0 402 1 535 2 71 2 8 2 25 1 15 1 167 2 153 2 11 2 6 2 19 4 30 2 25 2 12 1 52 2 3 1 2 2 24 2 7 3 12 2 27 2 21 3 23 1 22 3 12 3 2 2 4 2 30 1 2 3 2 1 36 2 10 3 5 2 759 2 3000"/>
<path stroke="#fc9684" stroke-width="25.6" d="M725.2 0V2717" stroke-dasharray="0 239 1 244 2 412 2 37 1 45 2 11 1 5 2 9 3 81 1 31 2 104 2 132 1 4 2 7 1 16 2 4 1 16 4 61 1 64 1 10 1 1 3 20 3 3 2 60 4 8 3 5 2 2 2 9 2 6 3 30 2 3 2 1 2 4 2 10 5 12 4 24 3 19 2 8 3 367 1 337 2 14 2 19 1 3000"/>
<path stroke="#fdab9c" stroke-width="25.6" d="M725.2 0V2717" stroke-dasharray="0 386 2 85 2 423 2 10 2 210 1 5 2 46 2 42 2 173 3 3 1 21 1 42 5 27 2 6 2 71 1 4 2 28 2 84 1 16 2 387 2 48 2 3000"/>
<path stroke="#fdc1b4" stroke-width="25.6" d="M725.2 0V2717" stroke-dasharray="0 349 2 20 2 10 1 51 2 436 1 63 3 3 2 9 2 102 1 38 2 43 1 50 1 180 2 72 3 180 3 135 3 3000"/>
<path stroke="#fed5cc" stroke-width="25.6" d="M725.2 0V2717" stroke-dasharray="0 363 2 577 1 18 3 86 3 333 2 23 2 3 1 61 3 35 2 145 1 25 2 133 1 3000"/>
<path stroke="#fef3ff" stroke-width="25.6" d="M725.2 0V2717" stroke-dasharray="0 532 2 38 1 102 1 19 1 11 1 22 2 13 1 33 1 82 1 88 2 27 2 6 1 44 2 26 1 1 1 13 2 46 1 15 1 35 1 1 2 22 2 27 1 634 2 24 1 60 2 13 1 10 1 55 1 18 1 29 2 9 2 75 2 19 1 63 1 3 1 8 1 13 1 87 1 4 1 18 1 3 2 15 2 37 2 15 1 35 1 9 1 3000"/>
<path stroke="#e9dbff" stroke-width="25.6" d="M750.8 0V2717" stroke-dasharray="0 259 2 43 2 5 1 16 1 22 2 73 2 1544 2 8 2 21 1 7 2 66 2 22 2 13 1 12 2 19 1 46 1 8 1 11 1 86 1 37 1 3 1 19 1 22 2 22 1 20 1 19 1 1 1 26 1 2 2 15 2 101 1 3000"/>
<path stroke="#efe1ff" stroke-width="25.6" d="M750.8 0V2717" stroke-dasharray="0 252 1 80 2 5 1 3 1 3 1 19 1 40 2 13 1 1548 1 13 1 61 1 25 1 3 2 81 1 16 1 18 1 17 2 18 1 1 2 8 2 35 1 10 1 17 1 41 1 20 1 69 2 35 2 41 2 19 1 27 2 9 2 11 1 3000"/>
<path stroke="#efe4fb" stroke-width="25.6" d="M750.8 0V2717" stroke-dasharray="0 904 1 140 2 230 3 3000"/>
<path stroke="#f2e7ff" stroke-width="25.6" d="M750.8 0V2717" stroke-dasharray="0 1074 1 6 1 20 1 59 1 18 1 7 2 185 1 17 1 9 1 13 2 49 1 1 1 34 1 14 2 33 1 55 1 36 1 31 2 39 1 15 2 15 1 31 2 83 1 34 1 6 1 10 1 3000"/>
<path stroke="#f5e7ff" stroke-width="25.6" d="M750.8 0V2717" stroke-dasharray="0 266 2 23 1 16 2 46 1 65 2 1549 1 26 1 35 2 39 1 23 2 44 1 7 1 2 1 13 2 2 2 26 1 15 1 85 1 21 1 41 2 21 1 5 2 22 2 1 1 12 1 32 2 25 1 1 1 86 1 8 2 6 2 3000"/>
<path stroke="#f6eefb" stroke-width="25.6" d="M750.8 0V2717" stroke-dasharray="0 1007 1 6 2 20 3 237 3 1 3 17 3 3000"/>
<path stroke="#f8edff" stroke-width="25.6" d="M750.8 0V2717" stroke-dasharray="0 1077 1 54 2 12 1 30 1 13 1 4 1 12 2 175 1 60 2 19 1 43 1 3 1 2 1 89 1 7 1 35 1 53 1 31 1 23 2 11 1 25 1 17 2 106 2 16 2 5 2 2 1 670 1 3000"/>
<path stroke="#fa0709" stroke-width="25.6" d="M750.8 0V2717" stroke-dasharray="0 530 3 50 3 54 2 8 4 6 1 10 5 71 3 30 2 191 2 4 3 77 5 127 2 128 1 8 3 18 3 283 2 48 2 5 2 114 3 502 1 3000"/>
<path stroke="#fa3727" stroke-width="25.6" d="M750.8 0V2717" stroke-dasharray="0 451 3 4 3 17 5 18 3 1 1 19 3 15 1 3 3 46 2 38 2 4 1 13 3 9 2 72 3 17 2 4 3 6 2 16 1 31 1 5 4 26 1 5 2 12 3 23 1 11 3 41 2 13 1 1 2 13 1 6 2 13 2 5 1 33 2 200 6 46 1 11 2 231 2 3 2 51 2 105 4 48 3 39 3 101 1 144 2 93 1 43 2 236 2 3000"/>
<path stroke="#fb523f" stroke-width="25.6" d="M750.8 0V2717" stroke-dasharray="0 461 1 13 1 9 2 10 2 54 4 25 2 14 3 4 1 1 3 38 2 39 1 37 3 54 2 47 1 11 1 7 2 46 4 10 2 14 2 49 4 1 2 20 2 4 2 1 2 2 1 1 2 6 2 14 2 7 1 3 5 84 2 35 2 7 1 62 2 36 2 9 1 14 2 1 2 1 2 6 3 242 3 36 3 11 2 106 2 30 2 38 2 128 1 40 1 89 1 140 2 214 1 3000"/>
<path stroke="#fb6a56" stroke-width="25.6" d="M750.8 0V2717" stroke-dasharray="0 481 2 14 2 6 1 86 2 22 3 11 2 56 2 25 1 25 4 30 1 13 2 11 1 1 2 7 1 121 2 1 3 6 2 12 3 48 2 2 2 60 1 119 1 89 7 7 2 9 2 6 1 260 2 98 1 32 2 113 1 39 1 245 2 329 1 7 1 186 2 3000"/>
<path stroke="#fbf3f6" stroke-width="25.6" d="M750.8 0V2717" stroke-dasharray="0 1002 2 24 2 297 1 3000"/>
<path stroke="#fc816d" stroke-width="25.6" d="M750.8 0V2717" stroke-dasharray="0 448 3 44 3 9 1 30 3 4 4 1 2 23 1 71 2 28 1 24 1 20 2 12 2 6 2 9 2 32 2 36 3 85 2 15 3 2 2 18 2 2 2 4 3 1 2 22 4 3 2 16 2 3 1 15 2 4 1 12 2 58 1 111 2 27 3 4 2 11 2 2 3 15 3 3 3 14 3 10 2 2 2 2 2 106 1 176 3 1 2 10 2 96 3 12 2 38 2 144 1 183 2 284 2 9 2 7 1 3000"/>
<path stroke="#fc9684" stroke-width="25.6" d="M750.8 0V2717" stroke-dasharray="0 496 3 3 2 20 2 2 3 10 1 1 2 22 3 14 3 33 3 2 3 16 3 2 2 37 2 2 2 12 2 4 2 68 2 6 3 44 2 22 2 4 1 1 2 28 3 5 1 13 1 4 2 37 3 1 3 3 2 7 2 3 2 3 1 6 1 9 1 7 2 14 3 12 2 4 1 7 2 9 1 69 2 44 2 71 3 2 2 15 2 42 2 9 3 1 2 3 2 151 1 101 1 1 2 42 2 20 1 24 1 38 3 62 2 839 1 3000"/>
<path stroke="#fdab9c" stroke-width="25.6" d="M750.8 0V2717" stroke-dasharray="0 529 2 25 1 27 2 34 2 26 2 9 2 12 1 6 5 4 3 58 1 8 2 21 3 67 3 26 5 1 2 12 1 9 3 103 2 22 2 39 1 11 2 4 1 3 2 178 3 12 1 37 1 88 2 145 2 16 3 7 2 75 2 44 1 107 3 27 2 3000"/>
<path stroke="#fdc1b4" stroke-width="25.6" d="M750.8 0V2717" stroke-dasharray="0 1097 1 9 2 62 2 159 1 14 2 280 1 114 3 29 1 39 2 83 1 35 1 421 1 3000"/>
<path stroke="#fed5cc" stroke-width="25.6" d="M750.8 0V2717" stroke-dasharray="0 447 1 488 3 21 3 30 1 9 3 33 1 16 3 125 2 38 1 39 2 52 2 341 2 66 2 9 1 162 1 134 2 99 2 109 1 387 2 3000"/>
<path stroke="#fee9e5" stroke-width="25.6" d="M750.8 0V2717" stroke-dasharray="0 1354 1 3000"/>
<path stroke="#fef3ff" stroke-width="25.6" d="M750.8 0V2717" stroke-dasharray="0 1082 2 65 2 15 1 54 1 12 1 225 2 35 2 65 1 11 1 7 1 1 2 17 1 34 1 27 4 23 1 11 2 25 1 101 1 49 2 9 1 8 1 728 2 3000"/>
<path stroke="#fa0709" stroke-width="25.6" d="M776.3 0V2717" stroke-dasharray="0 489 2 38 2 13 1 260 3 53 1 10 2 694 2 19 1 65 2 49 3 16 2 6 1 24 3 3000"/>
<path stroke="#fa3727" stroke-width="25.6" d="M776.3 0V2717" stroke-dasharray="0 478 3 124 2 41 3 57 2 77 3 97 1 390 1 288 2 152 1 3 2 10 2 33 3 19 1 4 2 77 2 185 2 192 2 3000"/>
<path stroke="#fb523f" stroke-width="25.6" d="M776.3 0V2717" stroke-dasharray="0 460 2 83 3 82 1 128 5 36 1 29 2 740 2 49 5 39 1 23 2 46 2 1 2 11 3 32 3 17 2 10 3 331 1 3000"/>
<path stroke="#fb6a56" stroke-width="25.6" d="M776.3 0V2717" stroke-dasharray="0 453 1 165 3 71 1 19 2 36 2 45 2 11 3 384 2 205 1 60 2 95 2 22 3 2 3 5 3 71 3 37 2 18 3 49 3 21 3 16 1 709 1 3000"/>
<path stroke="#fc816d" stroke-width="25.6" d="M776.3 0V2717" stroke-dasharray="0 480 2 10 2 68 2 143 3 56 2 9 2 21 2 49 2 127 1 597 1 19 3 2 3 17 3 6 2 54 3 11 3 12 2 42 3 4 1 2 3 6 2 3 3 11 3 15 2 18 3 3000"/>
<path stroke="#fc9684" stroke-width="25.6" d="M776.3 0V2717" stroke-dasharray="0 501 2 94 2 19 2 5 2 27 2 1 3 32 2 20 2 21 3 10 2 7 2 96 3 1 3 172 1 577 2 43 2 43 3 14 3 69 2 137 2 589 1 3000"/>
<path stroke="#fdab9c" stroke-width="25.6" d="M776.3 0V2717" stroke-dasharray="0 475 2 2 1 2 2 37 3 69 3 71 2 948 2 142 2 246 2 3000"/>
<path stroke="#fdc1b4" stroke-width="25.6" d="M776.3 0V2717" stroke-dasharray="0 484 1 133 2 18 2 17 2 4 3 18 2 1 2 58 2 18 3 426 1 958 1 238 2 3000"/>
<path stroke="#fed5cc" stroke-width="25.6" d="M776.3 0V2717" stroke-dasharray="0 481 2 75 1 2 2 192 1 25 3 40 1 39 1 1320 1 3000"/>
<path stroke="#e9dbff" stroke-width="25.6" d="M801.8 0V2717" stroke-dasharray="0 1073 1 43 1 46 1 5 1 3 1 88 1 57 1 31 2 656 3 20 2 31 1 91 2 14 1 3 1 8 1 21 1 24 1 10 1 101 1 14 1 37 1 15 2 11 1 21 1 50 1 28 1 14 1 3000"/>
<path stroke="#efe1ff" stroke-width="25.6" d="M801.8 0V2717" stroke-dasharray="0 1075 2 75 1 3 1 3 1 12 2 56 1 13 1 2 1 21 1 27 2 34 1 21 1 659 1 14 1 47 1 6 1 34 1 6 1 53 2 13 1 8 1 7 1 11 1 14 2 33 1 12 1 41 1 6 1 6 4 39 1 8 2 17 1 39 1 19 1 3 1 59 2 5 1 3000"/>
<path stroke="#efe4fb" stroke-width="25.6" d="M801.8 0V2717" stroke-dasharray="0 525 1 3 3 63 2 52 2 16 1 142 2 14 1 19 3 34 2 730 3 14 2 80 3 15 2 3000"/>
<path stroke="#f2e7ff" stroke-width="25.6" d="M801.8 0V2717" stroke-dasharray="0 257 2 16 1 73 2 71 1 8 1 537 2 23 1 13 1 47 1 361 1 34 1 22 1 17 2 16 1 24 2 317 2 7 1 83 1 608 1 17 2 36 2 31 1 3000"/>
<path stroke="#f5e7ff" stroke-width="25.6" d="M801.8 0V2717" stroke-dasharray="0 1096 1 5 2 4 1 8 1 39 2 20 1 19 2 17 1 51 2 61 1 3 1 7 1 14 2 618 2 11 1 6 2 24 1 23 2 31 1 5 1 16 2 1 1 25 2 47 1 52 1 21 2 145 1 14 2 17 1 68 1 2 1 3000"/>
<path stroke="#f6eefb" stroke-width="25.6" d="M801.8 0V2717" stroke-dasharray="0 633 1 74 2 14 3 65 3 70 2 20 1 741 1 38 2 139 1 3 3 14 3 3000"/>
<path stroke="#f8edff" stroke-width="25.6" d="M801.8 0V2717" stroke-dasharray="0 240 1 8 1 12 1 11 2 33 1 31 1 562 1 87 1 5 1 9 2 28 2 22 2 317 2 15 2 49 2 27 1 3 2 21 1 4 1 32 1 319 2 16 1 6 1 12 2 10 2 3000"/>
<path stroke="#fa0709" stroke-width="25.6" d="M801.8 0V2717" stroke-dasharray="0 501 4 9 1 102 3 10 1 70 2 58 3 12 2 4 2 54 1 773 2 28 1 34 2 34 1 7 2 48 1 751 1 70 1 20 2 3000"/>
<path stroke="#fa3727" stroke-width="25.6" d="M801.8 0V2717" stroke-dasharray="0 453 2 41 2 10 2 20 2 2 2 1 1 2 1 30 1 1 2 9 3 21 2 10 5 27 1 6 2 2 2 17 5 1 2 4 3 47 2 2 3 7 2 8 2 38 1 22 2 10 2 11 2 431 2 8 1 59 2 243 3 3 3 11 4 5 2 48 1 15 2 4 2 7 3 7 2 20 3 20 2 35 2 46 2 711 2 62 1 3000"/>
<path stroke="#fb523f" stroke-width="25.6" d="M801.8 0V2717" stroke-dasharray="0 455 3 2 2 11 4 2 2 12 2 1 2 15 3 18 3 1 1 15 1 7 2 25 3 9 2 14 2 7 3 9 1 1 3 10 3 2 3 7 2 1 3 24 2 2 2 12 2 23 2 12 2 20 4 7 2 12 3 6 3 1 2 32 3 17 2 240 2 486 2 3 3 7 1 2 2 6 2 12 1 78 1 14 1 2 2 12 2 12 1 5 1 4 2 12 2 15 1 58 2 741 4 3000"/>
<path stroke="#fb6a56" stroke-width="25.6" d="M801.8 0V2717" stroke-dasharray="0 458 1 15 2 20 2 6 4 14 1 5 3 6 2 28 3 14 3 6 2 7 3 1 3 3 3 3 3 8 6 16 1 2 4 9 2 6 1 2 2 3 1 22 2 6 2 4 3 38 3 1 2 11 2 4 1 47 2 1 2 14 2 2 3 7 2 5 3 42 2 183 1 160 1 35 1 40 2 244 1 4 3 12 2 27 3 10 1 1 2 16 2 10 2 21 1 17 2 28 1 29 3 16 3 54 2 1 1 35 2 32 1 3000"/>
<path stroke="#fbf3f6" stroke-width="25.6" d="M801.8 0V2717" stroke-dasharray="0 499 2 8 1 7 2 175 1 6 3 154 3 766 2 1 2 41 3 60 2 3000"/>
<path stroke="#fc816d" stroke-width="25.6" d="M801.8 0V2717" stroke-dasharray="0 485 2 20 1 1 1 4 2 33 1 2 3 3 1 9 1 19 1 5 1 4 3 5 3 11 1 15 2 6 2 13 2 19 1 24 3 1 2 16 3 6 1 9 3 11 1 7 5 13 1 2 4 9 2 5 1 11 3 17 2 4 2 6 1 16 4 706 3 27 2 4 2 36 1 17 2 67 2 5 1 50 2 21 1 772 2 12 2 20 2 3000"/>
<path stroke="#fc9684" stroke-width="25.6" d="M801.8 0V2717" stroke-dasharray="0 455 3 38 2 14 1 1 2 9 2 14 3 7 2 3 2 5 1 3 3 18 2 1 1 4 2 1 3 6 3 8 2 1 3 3 2 1 1 34 3 15 2 4 2 36 2 14 2 8 1 2 3 1 1 7 2 14 3 18 2 2 3 19 2 15 3 5 1 4 3 11 1 3 1 69 2 311 1 288 2 48 4 22 4 4 3 17 2 20 2 17 2 14 1 1 1 9 3 18 2 28 2 55 3 725 3 3000"/>
<path stroke="#fdab9c" stroke-width="25.6" d="M801.8 0V2717" stroke-dasharray="0 461 1 13 3 16 2 8 2 5 3 32 1 7 1 10 2 23 3 11 3 13 2 3 2 9 2 27 3 5 2 32 2 2 3 19 3 16 3 6 2 20 1 4 1 14 2 4 4 14 2 3 1 749 1 1 2 61 2 1 2 79 2 7 2 17 1 53 1 51 2 639 2 69 2 14 3 3000"/>
<path stroke="#fdc1b4" stroke-width="25.6" d="M801.8 0V2717" stroke-dasharray="0 451 3 35 4 24 1 22 2 5 2 31 2 11 2 27 2 83 2 850 2 39 1 3000"/>
<path stroke="#fed5cc" stroke-width="25.6" d="M801.8 0V2717" stroke-dasharray="0 529 3 107 3 30 2 46 3 42 2 106 2 6 2 3 1 427 2 255 1 27 1 42 1 54 3 205 1 3000"/>
<path stroke="#fee9e5" stroke-width="25.6" d="M801.8 0V2717" stroke-dasharray="0 1676 3 3000"/>
<path stroke="#fef3ff" stroke-width="25.6" d="M801.8 0V2717" stroke-dasharray="0 251 1 7 2 20 1 72 1 16 1 4 2 521 1 11 1 24 1 31 1 35 2 22 1 371 3 59 2 414 1 689 1 17 1 15 1 31 1 3000"/>
<path stroke="#fa0709" stroke-width="25.6" d="M827.4 0V2717" stroke-dasharray="0 623 1 72 3 106 2 18 1 313 2 389 2 30 2 127 2 40 3 846 1 19 2 3000"/>
<path stroke="#fa3727" stroke-width="25.6" d="M827.4 0V2717" stroke-dasharray="0 485 2 23 3 26 2 84 2 205 2 84 1 239 1 109 1 14 1 186 1 37 2 154 3 12 1 42 1 46 2 326 2 3000"/>
<path stroke="#fb523f" stroke-width="25.6" d="M827.4 0V2717" stroke-dasharray="0 624 3 32 1 149 1 1 2 26 2 11 3 617 1 89 1 38 2 132 3 15 2 32 1 22 2 25 2 3000"/>
<path stroke="#fb6a56" stroke-width="25.6" d="M827.4 0V2717" stroke-dasharray="0 473 2 92 2 25 1 76 2 68 1 90 2 267 1 13 1 162 2 121 1 40 2 55 1 89 1 56 2 117 3 3 2 7 3 32 1 416 2 202 2 167 2 3000"/>
<path stroke="#fc816d" stroke-width="25.6" d="M827.4 0V2717" stroke-dasharray="0 477 1 115 2 52 2 75 3 124 1 160 2 120 2 97 1 337 2 178 1 15 2 54 2 37 2 80 1 3000"/>
<path stroke="#fc9684" stroke-width="25.6" d="M827.4 0V2717" stroke-dasharray="0 477 2 46 1 34 2 24 2 73 1 17 2 116 2 51 3 163 2 135 2 266 1 108 1 37 2 7 3 85 2 33 2 10 2 89 1 3000"/>
<path stroke="#fdab9c" stroke-width="25.6" d="M827.4 0V2717" stroke-dasharray="0 520 1 5 2 11 1 44 2 14 1 2 3 58 1 78 3 44 2 4 4 52 3 547 1 165 3 9 2 49 3 25 1 5 2 34 3 38 3 5 1 303 2 283 1 168 2 3000"/>
<path stroke="#fdc1b4" stroke-width="25.6" d="M827.4 0V2717" stroke-dasharray="0 475 3 26 1 2 1 4 2 63 2 39 1 9 2 25 3 90 3 93 3 12 1 319 1 159 1 35 1 285 2 83 2 59 3 306 1 3000"/>
<path stroke="#fed5cc" stroke-width="25.6" d="M827.4 0V2717" stroke-dasharray="0 472 1 96 1 58 1 29 3 21 1 47 2 23 2 113 1 566 2 152 2 77 1 25 3 58 2 37 1 280 1 397 2 3000"/>
<path stroke="#fa0709" stroke-width="25.6" d="M852.9 0V2717" stroke-dasharray="0 481 2 69 2 10 3 45 2 66 3 105 1 148 1 89 1 71 2 78 2 45 2 3000"/>
<path stroke="#fa3727" stroke-width="25.6" d="M852.9 0V2717" stroke-dasharray="0 457 3 2 2 188 2 37 3 27 2 56 1 210 2 130 1 33 2 437 2 32 1 85 2 3000"/>
<path stroke="#fb523f" stroke-width="25.6" d="M852.9 0V2717" stroke-dasharray="0 478 1 6 3 45 2 34 3 19 3 9 3 36 3 28 2 50 3 14 1 1 3 46 3 20 3 264 1 182 1 24 2 695 1 241 2 3000"/>
<path stroke="#fb6a56" stroke-width="25.6" d="M852.9 0V2717" stroke-dasharray="0 449 1 9 2 18 2 10 1 42 2 198 3 71 1 24 2 30 1 73 1 81 1 140 2 3 2 37 1 13 1 24 1 80 1 22 2 617 2 431 2 3000"/>
<path stroke="#fc816d" stroke-width="25.6" d="M852.9 0V2717" stroke-dasharray="0 511 1 15 3 40 2 15 3 41 3 40 1 9 4 36 1 65 1 43 3 47 2 114 1 4 2 56 2 22 1 96 1 106 1 32 1 31 1 355 1 220 1 3000"/>
<path stroke="#fc9684" stroke-width="25.6" d="M852.9 0V2717" stroke-dasharray="0 575 3 115 1 82 2 25 3 52 3 11 6 130 1 36 1 77 2 3 1 33 2 36 1 126 2 4 1 3000"/>
<path stroke="#fdab9c" stroke-width="25.6" d="M852.9 0V2717" stroke-dasharray="0 488 2 14 1 112 2 32 2 83 3 88 3 15 2 4 2 6 1 10 2 87 1 156 2 56 2 116 1 808 1 180 1 109 1 3000"/>
<path stroke="#fdc1b4" stroke-width="25.6" d="M852.9 0V2717" stroke-dasharray="0 529 3 49 2 8 2 91 1 112 1 322 1 233 2 278 1 3000"/>
<path stroke="#fed5cc" stroke-width="25.6" d="M852.9 0V2717" stroke-dasharray="0 730 2 154 2 136 1 334 2 1043 2 3000"/>
<path stroke="#decbff" stroke-width="25.6" d="M878.4 0V2717" stroke-dasharray="0 1969 1 47 2 96 2 3 2 1 1 74 1 23 2 56 4 11 1 11 2 27 3 26 1 2 2 20 1 7 2 2 1 1 2 44 2 9 1 3000"/>
<path stroke="#e6d3ff" stroke-width="25.6" d="M878.4 0V2717" stroke-dasharray="0 1974 1 30 1 8 1 6 2 18 2 8 1 18 1 3 2 5 1 43 1 13 2 31 1 12 2 9 1 20 2 23 1 19 2 19 1 5 1 1 2 3 2 18 1 8 2 5 2 16 1 7 2 70 1 3000"/>
<path stroke="#e9dbff" stroke-width="25.6" d="M878.4 0V2717" stroke-dasharray="0 911 2 60 2 22 1 9 1 42 1 10 1 43 2 58 1 2 2 19 1 16 2 88 1 39 1 1 2 9 1 535 1 58 1 553 1 32 2 6 1 111 1 3000"/>
<path stroke="#efe1ff" stroke-width="25.6" d="M878.4 0V2717" stroke-dasharray="0 897 1 45 1 9 1 33 1 11 1 59 1 5 1 30 1 38 2 5 1 8 1 1 2 62 2 26 2 27 3 8 1 4 1 19 1 6 1 555 1 43 1 551 1 10 2 3000"/>
<path stroke="#efe4fb" stroke-width="25.6" d="M878.4 0V2717" stroke-dasharray="0 259 3 331 3 43 3 83 2 66 2 8 4 45 3 777 2 13 1 113 2 71 3 3000"/>
<path stroke="#f0ddff" stroke-width="25.6" d="M878.4 0V2717" stroke-dasharray="0 1970 1 44 1 19 1 22 2 40 1 21 1 28 1 5 1 16 1 4 1 27 3 3 1 11 1 1 2 36 1 31 1 21 1 8 1 12 2 4 1 42 1 4 1 29 2 10 1 1 1 3000"/>
<path stroke="#f2e7ff" stroke-width="25.6" d="M878.4 0V2717" stroke-dasharray="0 1375 2 37 1 3 1 78 1 5 1 3000"/>
<path stroke="#f5e7ff" stroke-width="25.6" d="M878.4 0V2717" stroke-dasharray="0 924 2 10 1 17 1 73 2 6 2 4 1 41 2 5 2 16 1 14 1 22 1 41 2 23 2 9 1 62 2 560 1 5 1 3 2 8 2 24 1 5 2 3 1 6 1 564 2 22 2 2 1 26 2 113 2 1 2 3000"/>
<path stroke="#f6eefb" stroke-width="25.6" d="M878.4 0V2717" stroke-dasharray="0 386 3 11 1 38 1 37 3 14 1 25 2 39 1 76 3 2 1 182 2 733 3 23 3 84 3 8 2 9 2 90 3 775 1 14 1 3000"/>
<path stroke="#f8edff" stroke-width="25.6" d="M878.4 0V2717" stroke-dasharray="0 1385 2 13 2 31 1 36 2 46 2 22 1 3000"/>
<path stroke="#fa0709" stroke-width="25.6" d="M878.4 0V2717" stroke-dasharray="0 235 1 52 2 50 3 178 1 18 3 36 2 62 3 18 2 96 3 48 3 15 2 4 2 601 2 49 1 131 2 28 1 9 1 25 2 20 3 32 2 87 1 743 3 22 3 3000"/>
<path stroke="#fa3727" stroke-width="25.6" d="M878.4 0V2717" stroke-dasharray="0 234 2 9 3 48 2 72 3 34 2 13 3 7 2 19 2 18 2 11 2 2 2 24 1 3 2 17 2 15 1 28 2 24 2 14 3 2 2 15 3 20 2 10 3 2 1 2 2 17 3 42 2 4 1 7 2 6 3 14 1 8 2 15 1 8 2 4 2 17 1 8 2 15 1 2 2 539 1 33 3 23 2 2 2 45 2 52 1 20 1 29 1 17 2 1 2 64 2 9 4 18 2 2 2 34 2 5 3 701 2 64 3 18 2 3000"/>
<path stroke="#fb523f" stroke-width="25.6" d="M878.4 0V2717" stroke-dasharray="0 405 2 39 5 3 5 1 2 20 2 30 3 2 1 13 2 11 1 12 1 23 2 16 2 2 2 6 2 23 2 16 1 18 3 20 2 20 2 68 2 1 3 40 2 5 1 22 3 7 1 519 1 3 2 48 2 10 1 1 2 2 2 7 2 25 2 13 2 22 1 10 3 6 3 32 1 3 1 4 3 16 2 35 3 4 2 4 2 14 2 14 1 1 3 2 2 22 3 23 2 10 8 7 1 17 2 13 2 1 3 86 1 4 2 318 1 320 1 8 2 14 3 3000"/>
<path stroke="#fb6a56" stroke-width="25.6" d="M878.4 0V2717" stroke-dasharray="0 284 3 51 2 46 1 15 3 23 1 20 2 41 2 9 1 8 4 3 3 41 1 9 2 9 3 4 2 6 1 9 2 5 1 15 3 2 1 1 1 37 1 1 1 1 2 4 1 3 2 18 3 4 2 7 1 6 2 15 2 6 2 52 1 4 1 4 2 19 3 1 2 13 2 2 1 17 3 209 2 280 2 26 2 15 3 9 3 57 1 58 2 25 2 12 1 3 2 6 3 9 2 11 4 21 3 5 3 18 3 24 2 11 2 22 1 9 1 1 1 1 2 6 4 1 1 2 1 6 2 2 1 22 2 10 3 2 4 327 1 45 2 386 2 4 2 4 1 3000"/>
<path stroke="#fbf3f6" stroke-width="25.6" d="M878.4 0V2717" stroke-dasharray="0 281 1 13 1 23 3 38 1 27 3 21 1 88 1 85 1 13 2 136 3 16 2 13 3 90 2 691 1 94 1 38 1 140 1 768 1 3000"/>
<path stroke="#fc816d" stroke-width="25.6" d="M878.4 0V2717" stroke-dasharray="0 259 1 75 1 10 2 33 3 8 2 77 2 14 2 8 2 8 2 7 2 3 2 3 4 2 1 10 2 2 2 5 2 10 3 14 2 26 4 11 3 13 1 3 6 18 2 8 3 17 2 19 5 3 2 1 1 14 4 3 3 35 3 6 3 9 2 13 4 1 2 7 2 2 2 14 2 256 1 76 1 10 2 195 2 8 2 2 3 23 2 3 3 65 2 38 2 1 3 5 1 12 2 13 1 6 3 16 2 3 4 2 2 21 5 11 2 2 2 4 2 25 3 2 2 20 2 1 3 1 2 17 3 6 2 13 1 7 3 12 6 10 2 4 4 734 1 3000"/>
<path stroke="#fc9684" stroke-width="25.6" d="M878.4 0V2717" stroke-dasharray="0 293 2 23 2 10 3 57 2 7 1 22 1 24 2 7 2 25 2 3 2 13 2 9 1 26 1 34 1 3 1 2 1 2 3 3 1 2 5 1 2 18 5 19 1 29 2 48 2 18 4 11 1 8 6 7 2 18 3 6 2 11 2 15 1 450 1 121 1 19 2 36 1 2 2 39 3 21 2 23 2 23 3 6 3 6 1 26 1 16 3 17 1 11 3 36 2 12 2 16 2 10 1 24 2 2 2 4 2 4 2 8 3 123 2 28 1 65 1 316 2 15 2 191 5 21 2 3000"/>
<path stroke="#fdab9c" stroke-width="25.6" d="M878.4 0V2717" stroke-dasharray="0 278 2 24 2 27 3 32 2 8 1 29 2 3 3 17 3 15 1 55 1 23 2 25 2 89 3 19 1 14 2 39 2 7 1 26 3 27 3 14 2 2 1 22 2 2 3 5 2 12 2 4 2 1 1 215 1 103 2 217 3 23 2 159 2 2 3 13 1 3 1 52 2 37 2 33 2 36 2 28 2 19 2 113 1 608 2 15 2 5 2 4 1 13 2 3000"/>
<path stroke="#fdc1b4" stroke-width="25.6" d="M878.4 0V2717" stroke-dasharray="0 239 1 42 2 31 2 17 3 12 2 2 2 10 1 42 2 8 2 8 2 90 3 84 2 18 2 115 1 21 2 70 1 27 2 352 2 345 2 44 1 34 2 52 1 98 2 3000"/>
<path stroke="#fed5cc" stroke-width="25.6" d="M878.4 0V2717" stroke-dasharray="0 305 1 14 2 1 2 61 2 11 3 5 1 89 3 65 2 1 3 87 2 123 1 41 3 37 1 699 2 173 3 26 2 8 3 3000"/>
<path stroke="#fee9e5" stroke-width="25.6" d="M878.4 0V2717" stroke-dasharray="0 505 2 26 2 9 2 1073 1 3000"/>
<path stroke="#fef3ff" stroke-width="25.6" d="M878.4 0V2717" stroke-dasharray="0 1411 1 41 1 34 1 20 1 2 1 15 2 3000"/>
<path stroke="#fa0709" stroke-width="25.6" d="M903.9 0V2717" stroke-dasharray="0 1501 2 22 2 158 2 75 2 615 2 204 2 3000"/>
<path stroke="#fa3727" stroke-width="25.6" d="M903.9 0V2717" stroke-dasharray="0 671 2 755 1 61 1 51 2 105 1 18 1 37 2 7 2 6 2 9 2 2 2 52 3 813 2 7 1 3000"/>
<path stroke="#fb523f" stroke-width="25.6" d="M903.9 0V2717" stroke-dasharray="0 1261 2 313 3 9 3 33 2 11 1 15 2 9 2 16 2 36 2 4 2 5 5 2 1 3 2 77 2 788 2 2 3 3000"/>
<path stroke="#fb6a56" stroke-width="25.6" d="M903.9 0V2717" stroke-dasharray="0 403 2 1214 2 61 2 14 1 23 1 8 1 14 1 36 3 12 1 14 3 7 3 758 1 1 3 3000"/>
<path stroke="#fc816d" stroke-width="25.6" d="M903.9 0V2717" stroke-dasharray="0 323 2 105 2 996 1 27 1 117 1 102 3 82 2 16 3 7 1 779 5 11 1 22 1 3000"/>
<path stroke="#fc9684" stroke-width="25.6" d="M903.9 0V2717" stroke-dasharray="0 840 2 550 1 107 2 63 5 13 1 39 2 25 3 22 2 2 4 2 3 2 2 53 3 21 4 1 1 22 1 38 1 160 2 3000"/>
<path stroke="#fdab9c" stroke-width="25.6" d="M903.9 0V2717" stroke-dasharray="0 670 1 44 1 794 2 78 1 39 2 13 2 2 2 16 2 49 1 119 2 152 2 284 1 159 1 146 1 3000"/>
<path stroke="#fdc1b4" stroke-width="25.6" d="M903.9 0V2717" stroke-dasharray="0 881 2 545 1 81 2 812 1 3000"/>
<path stroke="#fed5cc" stroke-width="25.6" d="M903.9 0V2717" stroke-dasharray="0 745 2 1606 2 3000"/>
<path stroke="#fa0709" stroke-width="25.6" d="M929.5 0V2717" stroke-dasharray="0 1574 2 34 3 74 2 137 2 3000"/>
<path stroke="#fa3727" stroke-width="25.6" d="M929.5 0V2717" stroke-dasharray="0 1600 2 27 2 5 1 48 2 6 3 6 3 26 1 16 1 6 1 48 6 3000"/>
<path stroke="#fb523f" stroke-width="25.6" d="M929.5 0V2717" stroke-dasharray="0 1515 2 48 2 33 1 53 2 11 3 1 3 8 3 16 1 32 3 36 2 12 3 11 2 7 3 3000"/>
<path stroke="#fb6a56" stroke-width="25.6" d="M929.5 0V2717" stroke-dasharray="0 1413 2 181 5 37 3 20 2 4 2 20 2 1 3 49 3 27 2 29 3 18 2 109 1 3000"/>
<path stroke="#fc816d" stroke-width="25.6" d="M929.5 0V2717" stroke-dasharray="0 1307 1 232 2 22 3 44 3 1 2 10 2 18 3 3 1 42 3 5 1 6 3 58 2 42 3 3000"/>
<path stroke="#fc9684" stroke-width="25.6" d="M929.5 0V2717" stroke-dasharray="0 1357 1 209 2 24 1 6 1 7 3 48 2 2 1 12 2 6 4 9 3 6 2 3 1 8 2 61 3 34 1 3000"/>
<path stroke="#fdab9c" stroke-width="25.6" d="M929.5 0V2717" stroke-dasharray="0 1552 2 19 4 6 3 101 2 34 1 3 2 21 2 26 2 2 2 4 2 26 3 1 1 11 3 3000"/>
<path stroke="#fdc1b4" stroke-width="25.6" d="M929.5 0V2717" stroke-dasharray="0 2492 2 3000"/>
<path stroke="#fed5cc" stroke-width="25.6" d="M929.5 0V2717" stroke-dasharray="0 2493 2 3000"/>
<path stroke="#e9dbff" stroke-width="25.6" d="M955.0 0V2717" stroke-dasharray="0 489 1 6 1 2 2 2 1 6 2 20 1 10 2 55 1 9 1 55 1 2 1 29 2 12 1 6 1 25 2 41 1 30 1 1035 1 63 2 15 1 2 2 83 1 8 2 34 2 15 2 11 2 27 2 16 1 29 1 8 1 13 3 11 1 12 1 5 1 29 1 25 2 9 2 10 2 29 1 5 1 7 2 28 1 31 1 63 2 3000"/>
<path stroke="#efe1ff" stroke-width="25.6" d="M955.0 0V2717" stroke-dasharray="0 518 1 92 1 9 1 8 1 19 1 3 1 2 1 57 1 2 2 3 1 24 1 37 2 9 2 54 1 30 1 982 1 41 1 39 1 17 2 80 1 13 1 18 1 8 2 21 1 4 1 39 2 9 1 1 1 62 2 7 1 61 1 81 2 13 3 8 1 1 1 26 2 7 1 1 1 19 2 41 2 9 2 8 1 3000"/>
<path stroke="#efe4fb" stroke-width="25.6" d="M955.0 0V2717" stroke-dasharray="0 1407 1 7 3 65 2 79 3 128 1 15 2 78 2 33 1 3000"/>
<path stroke="#f2e7ff" stroke-width="25.6" d="M955.0 0V2717" stroke-dasharray="0 369 2 39 1 4 1 513 1 22 1 14 2 41 1 28 2 7 2 15 1 17 2 129 2 99 2 35 1 1262 1 3000"/>
<path stroke="#f5e7ff" stroke-width="25.6" d="M955.0 0V2717" stroke-dasharray="0 486 1 78 1 20 1 4 1 8 2 25 2 7 1 36 1 35 1 27 1 33 1 10 1 22 1 1 2 29 2 27 1 980 1 9 2 6 2 17 2 42 1 28 1 20 2 69 2 5 2 29 1 40 1 6 2 124 1 7 1 35 1 13 2 63 1 62 1 1 2 22 2 20 1 3000"/>
<path stroke="#f6eefb" stroke-width="25.6" d="M955.0 0V2717" stroke-dasharray="0 1395 2 22 2 92 3 80 2 66 3 27 2 85 1 3000"/>
<path stroke="#f8edff" stroke-width="25.6" d="M955.0 0V2717" stroke-dasharray="0 241 2 43 1 32 1 6 1 11 1 43 2 14 2 22 1 500 1 11 2 12 2 9 1 22 1 10 1 34 2 45 2 22 1 13 2 19 2 16 1 17 3 55 1 20 1 25 1 13 2 19 2 29 1 1238 1 67 2 3000"/>
<path stroke="#fa0709" stroke-width="25.6" d="M955.0 0V2717" stroke-dasharray="0 1371 3 5 1 8 3 9 1 10 2 26 2 49 3 20 1 3 3 4 3 6 5 17 2 10 2 36 1 2 2 39 1 4 3 15 1 10 3 26 2 17 2 11 5 57 5 3 1 3000"/>
<path stroke="#fa3727" stroke-width="25.6" d="M955.0 0V2717" stroke-dasharray="0 1373 1 5 2 10 5 2 5 19 4 6 2 5 2 2 2 17 2 8 1 1 2 1 3 2 2 10 4 12 4 7 3 7 3 2 2 15 2 10 1 3 1 10 5 8 2 2 1 2 3 3 1 6 5 1 2 17 4 4 3 2 2 7 6 9 2 14 2 5 1 3 5 1 2 9 2 1 2 7 4 10 1 5 2 28 5 9 1 1 4 11 2 1 2 1 3 1 2 722 2 44 1 6 2 3000"/>
<path stroke="#fb523f" stroke-width="25.6" d="M955.0 0V2717" stroke-dasharray="0 1375 5 4 1 8 2 2 2 11 3 3 1 16 2 1 3 1 3 5 3 2 2 11 2 7 1 11 2 2 2 5 1 3 2 10 3 4 6 10 2 2 2 10 1 12 4 4 3 9 4 12 2 6 2 2 3 5 2 3 4 4 3 7 2 9 3 11 1 3 2 7 3 8 3 1 4 2 2 10 1 1 3 2 2 3 5 5 1 18 1 7 2 5 2 18 2 1 2 1 4 2 3 5 3 15 2 3000"/>
<path stroke="#fb6a56" stroke-width="25.6" d="M955.0 0V2717" stroke-dasharray="0 1380 4 4 3 3 5 5 4 5 4 6 1 2 2 12 3 11 2 2 2 1 2 5 3 2 1 8 2 2 3 2 1 2 4 1 1 4 2 4 1 11 2 5 1 11 1 1 1 10 3 8 2 7 2 3 5 2 3 3 3 4 4 5 3 1 3 6 6 6 2 1 10 27 2 4 2 3 2 3 2 1 2 15 1 15 2 3 9 4 2 1 3 7 2 4 2 2 1 4 2 7 1 6 2 5 1 5 2 10 1 6 2 7 3 738 2 3000"/>
<path stroke="#fbf3f6" stroke-width="25.6" d="M955.0 0V2717" stroke-dasharray="0 1448 3 39 1 73 1 51 3 9 2 121 2 44 1 3000"/>
<path stroke="#fc816d" stroke-width="25.6" d="M955.0 0V2717" stroke-dasharray="0 1389 1 10 2 26 3 29 3 3 2 20 2 19 2 25 3 54 1 44 2 12 2 6 2 22 3 40 3 51 2 7 1 25 2 705 2 3000"/>
<path stroke="#fc9684" stroke-width="25.6" d="M955.0 0V2717" stroke-dasharray="0 1475 3 21 3 62 1 43 1 20 2 61 2 37 2 12 2 22 2 6 3 20 2 7 2 776 2 3000"/>
<path stroke="#fdab9c" stroke-width="25.6" d="M955.0 0V2717" stroke-dasharray="0 1479 2 84 3 82 2 16 2 1 2 6 2 927 1 3000"/>
<path stroke="#fdc1b4" stroke-width="25.6" d="M955.0 0V2717" stroke-dasharray="0 1415 2 43 5 42 2 32 2 23 2 10 2 13 1 19 1 24 1 2 1 17 1 3 1 34 2 74 3 52 1 7 1 3000"/>
<path stroke="#fed5cc" stroke-width="25.6" d="M955.0 0V2717" stroke-dasharray="0 1484 2 21 1 45 3 154 1 3000"/>
<path stroke="#fee9e5" stroke-width="25.6" d="M955.0 0V2717" stroke-dasharray="0 1623 2 70 1 1 3 59 3 3000"/>
<path stroke="#fef3ff" stroke-width="25.6" d="M955.0 0V2717" stroke-dasharray="0 255 2 10 2 21 1 24 2 69 1 2 1 11 1 57 2 540 2 6 2 67 1 8 1 57 2 4 1 8 1 9 1 115 1 19 1 24 1 1252 1 5 1 20 1 3 1 22 1 3000"/>
<path stroke="#decbff" stroke-width="25.6" d="M980.5 0V2717" stroke-dasharray="0 2008 1 49 1 46 1 5 1 10 1 25 2 25 1 20 1 26 1 42 3 3 1 19 1 14 1 3 2 1 1 1 1 16 1 11 1 14 1 24 2 13 1 15 1 4 2 24 1 62 1 3 2 3 2 5 1 9 1 5 1 3000"/>
<path stroke="#e6d3ff" stroke-width="25.6" d="M980.5 0V2717" stroke-dasharray="0 1972 1 7 1 11 1 5 2 75 2 6 1 36 2 2 1 22 2 12 4 20 2 4 1 26 4 12 2 4 2 23 1 9 2 33 1 5 1 44 2 17 1 19 2 31 1 8 2 13 1 29 1 15 1 10 1 3000"/>
<path stroke="#e9dbff" stroke-width="25.6" d="M980.5 0V2717" stroke-dasharray="0 1083 1 4 1 2 1 54 2 5 1 32 1 13 1 17 1 181 1 17 1 2 2 17 1 16 1 56 1 28 2 3000"/>
<path stroke="#efe1ff" stroke-width="25.6" d="M980.5 0V2717" stroke-dasharray="0 1101 1 67 1 13 1 8 1 17 1 12 1 9 1 2 1 132 1 49 1 15 1 19 1 2 2 1180 2 9 1 3000"/>
<path stroke="#efe4fb" stroke-width="25.6" d="M980.5 0V2717" stroke-dasharray="0 609 5 72 2 76 3 42 1 36 2 447 2 28 3 317 2 44 1 258 3 5 2 606 3 3000"/>
<path stroke="#f0ddff" stroke-width="25.6" d="M980.5 0V2717" stroke-dasharray="0 1991 1 17 2 31 1 18 1 31 1 4 1 2 1 54 2 58 2 19 1 20 1 9 1 8 1 15 1 27 2 17 1 5 1 1 1 32 1 1 1 7 1 9 1 5 1 42 2 42 2 1 1 22 1 4 1 3000"/>
<path stroke="#f2e7ff" stroke-width="25.6" d="M980.5 0V2717" stroke-dasharray="0 247 1 1 1 28 1 2 2 38 1 18 2 21 2 16 2 20 1 22 2 471 1 100 1 36 1 18 2 3000"/>
<path stroke="#f5e7ff" stroke-width="25.6" d="M980.5 0V2717" stroke-dasharray="0 1082 1 84 1 25 1 16 2 6 1 201 1 35 2 15 1 10 2 36 2 6 2 1114 1 3000"/>
<path stroke="#f6eefb" stroke-width="25.6" d="M980.5 0V2717" stroke-dasharray="0 629 3 121 2 35 2 9 3 20 1 479 3 24 2 262 1 57 2 35 3 19 1 22 3 10 1 23 2 12 2 167 1 609 1 3000"/>
<path stroke="#f8edff" stroke-width="25.6" d="M980.5 0V2717" stroke-dasharray="0 253 2 133 1 27 1 6 1 473 1 51 1 56 1 7 2 3 1 3000"/>
<path stroke="#fa0709" stroke-width="25.6" d="M980.5 0V2717" stroke-dasharray="0 489 1 40 2 133 2 45 1 9 2 18 3 62 2 14 1 64 2 48 2 102 1 236 3 24 4 20 3 248 1 53 2 16 3 17 3 43 1 66 3 18 3 6 1 5 3 42 1 7 3 14 1 6 2 10 3 24 1 316 1 3000"/>
<path stroke="#fa3727" stroke-width="25.6" d="M980.5 0V2717" stroke-dasharray="0 449 2 83 2 2 1 32 2 3 1 5 1 10 3 5 2 13 1 8 2 2 2 46 2 21 2 1 2 8 1 2 3 2 3 28 2 24 2 2 2 23 3 19 2 2 2 20 3 20 3 6 1 13 1 42 2 22 2 43 3 194 1 53 3 4 2 31 3 4 2 19 2 14 1 1 1 89 2 155 3 16 2 35 1 16 3 5 3 23 3 73 1 13 2 13 1 1 2 9 2 33 3 16 3 1 2 25 3 17 2 4 2 268 1 356 3 3 2 9 2 15 2 18 3 3000"/>
<path stroke="#fb523f" stroke-width="25.6" d="M980.5 0V2717" stroke-dasharray="0 479 2 49 3 12 2 24 2 7 5 3 2 28 2 3 2 35 3 18 2 6 5 7 1 15 1 8 2 3 4 17 3 5 3 1 1 34 2 9 3 3 2 28 2 9 1 12 2 4 2 182 1 211 3 7 3 11 1 11 2 6 3 9 2 6 3 213 1 1 3 48 1 6 3 1 1 3 1 2 2 7 4 2 2 39 2 22 2 3 2 19 4 5 3 4 2 46 3 8 2 4 1 48 3 7 3 42 2 28 1 7 3 606 1 23 3 3000"/>
<path stroke="#fb6a56" stroke-width="25.6" d="M980.5 0V2717" stroke-dasharray="0 480 1 40 3 22 3 6 2 15 2 11 2 15 1 28 1 15 2 4 1 3 2 12 2 9 2 36 3 6 3 25 1 49 2 40 2 16 2 54 2 26 3 51 2 44 3 27 2 18 1 162 3 8 3 10 2 8 2 5 3 11 3 23 2 3 2 200 2 28 3 44 3 48 3 13 3 6 2 2 3 7 1 16 7 8 2 53 3 6 2 2 2 31 2 11 3 2 2 16 1 11 3 2 4 12 1 24 2 4 2 21 1 589 1 31 2 3000"/>
<path stroke="#fbf3f6" stroke-width="25.6" d="M980.5 0V2717" stroke-dasharray="0 561 1 29 3 68 3 34 1 15 3 46 2 2 2 39 4 65 3 474 3 219 1 30 1 86 3 8 2 145 4 702 3 3000"/>
<path stroke="#fc816d" stroke-width="25.6" d="M980.5 0V2717" stroke-dasharray="0 472 2 27 2 5 4 4 3 5 2 18 1 6 1 14 3 12 1 51 4 34 2 70 1 2 2 23 3 11 2 18 2 2 3 2 2 23 5 13 2 8 2 13 5 14 1 25 3 84 2 6 2 11 1 2 3 41 2 23 2 160 1 4 1 1 4 31 2 10 2 25 2 69 1 137 2 3 2 9 2 41 1 11 2 6 6 16 2 53 4 14 3 29 1 87 1 16 1 8 2 2 1 5 2 3 2 5 3 1 1 16 1 6 1 18 1 141 2 13 2 241 1 209 2 34 1 2 2 3000"/>
<path stroke="#fc9684" stroke-width="25.6" d="M980.5 0V2717" stroke-dasharray="0 458 1 14 2 22 2 19 3 11 2 26 1 35 4 23 2 56 2 1 2 49 3 27 3 31 2 6 3 5 1 4 2 11 3 149 2 15 1 27 2 133 1 117 1 26 2 6 2 14 1 5 2 2 2 2 2 213 1 8 1 4 2 6 3 1 1 17 3 5 1 3 1 6 2 4 1 14 3 23 3 1 2 27 1 58 2 3 2 11 2 19 3 17 3 7 1 2 2 10 2 15 2 4 2 6 2 11 2 5 2 4 2 3 3 11 3 21 2 40 2 262 2 322 4 13 3 15 2 3000"/>
<path stroke="#fdab9c" stroke-width="25.6" d="M980.5 0V2717" stroke-dasharray="0 452 2 39 2 21 3 28 3 16 1 20 1 1 2 5 5 4 1 37 2 41 3 23 2 11 3 30 3 6 1 16 3 15 2 7 1 45 2 6 3 20 2 115 2 7 1 46 2 121 1 89 1 18 3 20 2 4 2 46 1 212 2 5 2 1 2 18 3 42 1 15 1 54 2 31 2 12 3 5 3 38 1 29 1 49 1 9 3 3 2 3 2 3 1 15 3 3 2 531 2 72 2 8 2 3000"/>
<path stroke="#fdc1b4" stroke-width="25.6" d="M980.5 0V2717" stroke-dasharray="0 555 2 42 3 130 3 40 3 80 3 63 3 18 3 108 2 180 2 338 2 39 3 56 1 82 2 6 2 28 2 35 1 41 3 75 3 3000"/>
<path stroke="#fed5cc" stroke-width="25.6" d="M980.5 0V2717" stroke-dasharray="0 453 1 64 2 159 3 40 2 60 3 548 2 253 2 195 3 39 2 20 3 5 2 15 3 686 2 3000"/>
<path stroke="#fee9e5" stroke-width="25.6" d="M980.5 0V2717" stroke-dasharray="0 542 2 201 2 526 2 73 1 229 1 3000"/>
<path stroke="#fef3ff" stroke-width="25.6" d="M980.5 0V2717" stroke-dasharray="0 248 1 46 1 27 2 21 1 52 2 504 1 6 1 40 2 14 1 1 1 57 2 10 1 9 1 3000"/>
<path stroke="#fa0709" stroke-width="25.6" d="M1006.1 0V2717" stroke-dasharray="0 1687 2 730 2 141 2 19 2 3 1 26 1 3000"/>
<path stroke="#fa3727" stroke-width="25.6" d="M1006.1 0V2717" stroke-dasharray="0 1515 2 62 5 2 2 5 3 49 1 66 3 45 2 13 5 38 3 780 3 3000"/>
<path stroke="#fb523f" stroke-width="25.6" d="M1006.1 0V2717" stroke-dasharray="0 1446 1 110 1 6 2 78 3 42 2 20 3 6 2 27 2 45 1 2 2 763 1 44 3 1 3 3000"/>
<path stroke="#fb6a56" stroke-width="25.6" d="M1006.1 0V2717" stroke-dasharray="0 975 2 88 1 504 2 12 3 65 2 18 3 18 1 4 1 19 1 3 1 17 3 46 1 11 2 11 3 362 1 37 2 3000"/>
<path stroke="#fc816d" stroke-width="25.6" d="M1006.1 0V2717" stroke-dasharray="0 1490 1 65 1 35 3 8 1 8 1 5 2 10 2 2 3 8 1 52 2 4 2 59 2 43 2 1 2 7 2 34 1 705 1 7 2 10 2 3000"/>
<path stroke="#fc9684" stroke-width="25.6" d="M1006.1 0V2717" stroke-dasharray="0 1401 2 161 1 2 2 7 2 14 2 30 3 30 2 16 1 30 3 22 3 5 2 4 3 57 3 607 1 54 2 113 3 1 2 13 2 3000"/>
<path stroke="#fdab9c" stroke-width="25.6" d="M1006.1 0V2717" stroke-dasharray="0 1419 2 96 1 122 2 105 2 46 2 18 2 5 1 1 2 3000"/>
<path stroke="#fdc1b4" stroke-width="25.6" d="M1006.1 0V2717" stroke-dasharray="0 1524 2 492 2 3000"/>
<path stroke="#fed5cc" stroke-width="25.6" d="M1006.1 0V2717" stroke-dasharray="0 1037 2 1019 1 367 1 3000"/>
<path stroke="#e9dbff" stroke-width="25.6" d="M1031.6 0V2717" stroke-dasharray="0 475 1 10 1 2 1 8 1 5 2 9 1 6 1 39 2 9 1 3 1 23 1 28 1 46 2 18 1 2 2 10 2 41 2 22 1 23 2 3 2 35 2 7 1 93 2 8 1 59 2 5 1 15 2 9 1 2 1 2 1 2 2 34 2 3 2 7 2 17 1 10 2 38 1 58 1 645 1 16 1 8 1 9 2 52 2 17 1 23 1 6 2 8 1 44 1 17 1 1 1 3 1 27 1 60 1 66 1 10 2 37 1 1 1 6 1 9 1 15 2 56 3 47 2 3000"/>
<path stroke="#efe1ff" stroke-width="25.6" d="M1031.6 0V2717" stroke-dasharray="0 474 1 61 2 59 1 33 2 30 2 46 2 86 1 29 1 38 1 10 1 63 1 5 1 90 2 79 1 37 1 8 1 58 1 12 2 4 1 629 1 3 1 60 2 2 1 67 2 38 1 32 1 31 1 60 2 12 3 33 2 13 1 1 1 82 1 7 1 2 2 40 1 28 2 3000"/>
<path stroke="#efe4fb" stroke-width="25.6" d="M1031.6 0V2717" stroke-dasharray="0 288 3 1134 3 25 1 30 1 46 1 26 1 119 3 8 2 121 2 14 3 770 3 3000"/>
<path stroke="#f2e7ff" stroke-width="25.6" d="M1031.6 0V2717" stroke-dasharray="0 2489 1 4 1 3000"/>
<path stroke="#f5e7ff" stroke-width="25.6" d="M1031.6 0V2717" stroke-dasharray="0 536 1 34 2 23 1 63 1 12 1 11 1 13 1 11 2 7 1 5 3 36 2 17 1 16 1 23 1 58 4 43 2 51 1 36 2 36 1 1 1 2 1 40 2 3 1 4 2 23 1 55 1 4 2 41 1 631 2 39 1 13 1 6 1 31 2 4 1 16 1 18 2 10 1 6 1 126 2 32 1 5 1 10 1 39 1 23 2 13 1 5 1 1 1 4 2 39 1 20 1 29 1 25 1 28 1 3000"/>
<path stroke="#f6eefb" stroke-width="25.6" d="M1031.6 0V2717" stroke-dasharray="0 268 1 38 1 7 1 98 2 965 1 55 1 187 1 7 1 16 2 47 1 3000"/>
<path stroke="#f8edff" stroke-width="25.6" d="M1031.6 0V2717" stroke-dasharray="0 2490 2 25 1 7 1 105 1 7 1 3000"/>
<path stroke="#fa0709" stroke-width="25.6" d="M1031.6 0V2717" stroke-dasharray="0 1359 2 62 3 45 1 17 5 21 2 139 1 13 2 98 3 22 3 21 3 760 1 5 3 3000"/>
<path stroke="#fa3727" stroke-width="25.6" d="M1031.6 0V2717" stroke-dasharray="0 266 3 6 3 21 1 22 3 32 1 21 2 41 2 4 2 24 1 636 2 177 2 5 3 24 2 68 4 5 2 7 3 17 3 10 3 11 1 9 2 11 3 3 3 3 2 2 2 12 1 14 2 13 1 3 3 1 2 27 1 18 1 4 5 3 4 35 1 9 4 8 3 14 2 2 2 2 2 32 3 8 1 23 4 2 2 22 1 5 4 7 1 2 3 4 2 12 2 5 1 2 2 4 3 1 4 642 2 38 3 36 4 25 1 5 1 3000"/>
<path stroke="#fb523f" stroke-width="25.6" d="M1031.6 0V2717" stroke-dasharray="0 267 2 26 2 16 2 17 3 27 2 35 3 36 2 11 2 832 2 43 1 21 1 28 1 23 2 1 2 3 2 1 3 16 4 15 2 5 1 16 2 10 1 1 2 13 4 4 6 16 2 4 1 28 2 1 2 7 2 3 2 46 1 17 2 14 3 8 1 1 2 27 2 13 2 7 5 6 1 14 2 32 2 1 3 6 2 504 1 248 2 6 2 25 2 3000"/>
<path stroke="#fb6a56" stroke-width="25.6" d="M1031.6 0V2717" stroke-dasharray="0 275 1 17 1 39 2 68 3 52 3 800 2 5 1 6 3 15 5 9 3 13 3 6 1 9 2 7 2 17 1 11 1 12 1 9 4 3 2 7 2 18 2 18 3 14 3 15 1 2 4 5 2 18 2 24 2 15 2 9 2 7 2 7 2 20 2 14 2 5 1 22 3 13 2 19 2 11 2 3 2 10 2 2 2 8 2 1 2 8 2 12 2 5 1 12 1 4 3 20 2 2 4 2 2 381 1 192 1 68 1 39 2 60 1 13 2 4 3 10 3 3000"/>
<path stroke="#fbf3f6" stroke-width="25.6" d="M1031.6 0V2717" stroke-dasharray="0 288 1 14 1 34 1 16 1 64 2 952 2 49 2 126 3 65 3 52 2 50 3 64 2 816 2 3000"/>
<path stroke="#fc816d" stroke-width="25.6" d="M1031.6 0V2717" stroke-dasharray="0 237 2 8 1 34 1 14 3 30 2 29 2 9 2 813 2 77 2 59 2 43 1 2 3 39 2 35 2 19 2 6 1 6 3 8 2 22 2 26 3 12 3 4 5 6 2 6 3 4 4 29 2 4 1 2 5 13 2 3 3 8 1 15 2 4 6 25 2 5 1 8 2 9 2 7 3 1 3 9 1 17 3 674 1 39 2 68 2 6 2 17 1 3000"/>
<path stroke="#fc9684" stroke-width="25.6" d="M1031.6 0V2717" stroke-dasharray="0 234 2 3 2 11 2 7 3 25 1 7 3 3 2 95 2 868 3 64 2 19 2 25 2 13 2 2 1 4 3 3 2 6 1 4 3 15 1 20 1 15 4 7 2 8 1 35 1 15 3 31 2 10 2 8 2 26 1 11 2 2 3 4 1 4 3 1 3 1 1 24 2 15 1 8 3 8 3 12 5 8 2 6 1 3 3 3 1 3 2 2 3 3 3 1 3 193 2 299 1 215 2 15 1 9 1 25 2 9 1 9 2 3000"/>
<path stroke="#fdab9c" stroke-width="25.6" d="M1031.6 0V2717" stroke-dasharray="0 253 2 28 3 19 1 73 3 13 3 39 2 12 1 670 1 247 2 12 3 31 3 3 2 12 3 2 2 7 2 8 1 2 1 1 2 12 3 16 3 22 2 8 3 26 2 8 2 63 3 36 2 5 3 53 2 27 1 3 2 12 2 10 1 4 3 9 1 3 1 515 2 177 3 52 3 3000"/>
<path stroke="#fdc1b4" stroke-width="25.6" d="M1031.6 0V2717" stroke-dasharray="0 267 2 72 3 11 2 93 3 975 2 51 3 5 2 20 3 67 2 202 2 9 2 9 2 6 2 659 3 57 2 49 2 4 1 3000"/>
<path stroke="#fed5cc" stroke-width="25.6" d="M1031.6 0V2717" stroke-dasharray="0 245 2 32 1 11 2 16 2 60 3 43 3 1029 2 121 2 31 1 37 3 10 2 6 3 3 3 46 2 11 4 84 3 251 2 403 1 100 1 3000"/>
<path stroke="#fee9e5" stroke-width="25.6" d="M1031.6 0V2717" stroke-dasharray="0 352 2 1018 2 43 3 196 2 55 2 3000"/>
<path stroke="#fef3ff" stroke-width="25.6" d="M1031.6 0V2717" stroke-dasharray="0 2497 1 1 1 19 1 3000"/>
<path stroke="#decbff" stroke-width="25.6" d="M1057.1 0V2717" stroke-dasharray="0 922 2 10 2 35 1 4 1 1 2 17 2 58 1 1 1 200 2 34 1 15 1 4 2 39 1 622 1 3 2 39 1 30 2 2 1 35 2 6 1 21 1 21 2 1 1 40 1 40 2 13 1 12 1 1 1 23 1 31 1 16 1 4 2 1 2 71 1 4 2 6 1 4 3 47 1 3 2 5 1 31 1 4 2 102 2 3000"/>
<path stroke="#e6d3ff" stroke-width="25.6" d="M1057.1 0V2717" stroke-dasharray="0 909 1 6 1 10 1 60 1 4 2 4 1 4 1 44 2 5 1 247 1 10 2 14 1 7 2 667 1 6 1 9 1 38 1 28 2 3 2 10 2 7 1 22 4 8 4 28 1 14 2 7 1 21 1 67 1 5 1 7 2 26 1 11 1 10 2 6 1 10 2 1 1 19 2 18 2 1 2 1 1 50 2 42 1 2 2 3000"/>
<path stroke="#efe4fb" stroke-width="25.6" d="M1057.1 0V2717" stroke-dasharray="0 562 3 54 3 80 1 108 2 2 2 16 2 47 3 491 3 135 1 126 3 30 2 103 3 34 3 3000"/>
<path stroke="#f0ddff" stroke-width="25.6" d="M1057.1 0V2717" stroke-dasharray="0 909 1 8 1 6 1 4 1 8 1 23 1 22 1 31 2 240 2 7 1 15 1 25 2 13 2 33 1 637 3 21 1 29 2 15 1 27 1 13 2 8 1 95 1 3 2 25 2 5 2 29 1 43 2 16 1 26 1 5 2 5 2 13 2 25 1 40 1 19 1 8 1 41 1 90 1 8 1 3 1 3000"/>
<path stroke="#f2e7ff" stroke-width="25.6" d="M1057.1 0V2717" stroke-dasharray="0 248 1 34 1 18 2 34 2 38 2 5 1 707 1 37 1 763 2 677 2 10 2 19 1 3000"/>
<path stroke="#f6eefb" stroke-width="25.6" d="M1057.1 0V2717" stroke-dasharray="0 646 2 4 2 57 3 18 5 119 2 533 2 14 2 38 3 246 2 37 3 21 3 53 1 3000"/>
<path stroke="#f8edff" stroke-width="25.6" d="M1057.1 0V2717" stroke-dasharray="0 276 2 18 1 58 1 14 1 38 1 38 2 623 1 3 2 130 1 3 1 10 1 9 1 638 1 10 1 6 1 687 1 3000"/>
<path stroke="#fa0709" stroke-width="25.6" d="M1057.1 0V2717" stroke-dasharray="0 320 2 233 3 23 3 11 2 27 1 30 2 4 3 3 2 19 3 5 1 5 3 28 3 6 4 34 6 93 2 138 2 145 2 227 3 16 2 46 3 18 1 2 1 22 5 8 2 15 2 25 2 62 1 25 3 32 3 6 2 43 3 82 2 7 2 14 2 3000"/>
<path stroke="#fa3727" stroke-width="25.6" d="M1057.1 0V2717" stroke-dasharray="0 245 2 36 3 1 3 68 2 32 6 57 1 21 2 9 2 49 1 7 3 4 5 6 1 15 3 1 2 24 4 10 1 8 4 11 3 3 3 1 4 11 1 2 2 9 2 9 2 36 1 2 3 16 1 8 2 10 1 18 3 13 1 8 2 20 2 4 3 15 2 4 2 497 1 1 4 2 5 16 2 6 2 2 4 35 3 8 1 4 2 7 3 7 2 2 5 11 2 2 2 10 3 13 2 8 2 2 2 8 2 32 1 14 3 1 2 17 2 4 5 2 3 25 3 25 3 7 1 6 3 17 2 10 1 11 2 18 2 9 1 14 3 114 2 653 1 14 1 3 2 3000"/>
<path stroke="#fb523f" stroke-width="25.6" d="M1057.1 0V2717" stroke-dasharray="0 347 2 3 1 61 3 64 2 9 2 2 1 1 2 1 1 7 5 2 2 45 3 13 2 5 2 2 3 19 2 4 3 24 1 9 8 1 2 14 2 23 2 19 1 20 1 19 2 27 5 37 5 4 3 8 1 10 5 6 2 202 1 11 1 23 2 68 3 47 1 130 3 9 4 2 3 14 2 4 2 10 2 8 3 3 2 5 3 2 2 5 3 2 2 6 2 13 2 6 4 27 2 10 3 62 3 2 2 17 3 12 1 3 2 7 2 1 1 106 3 1 2 11 1 21 3 196 2 377 1 223 1 3000"/>
<path stroke="#fb6a56" stroke-width="25.6" d="M1057.1 0V2717" stroke-dasharray="0 260 2 79 1 4 2 64 2 64 3 28 2 4 3 1 2 14 2 34 4 1 1 6 1 33 1 17 2 4 2 3 2 10 1 2 4 35 3 1 1 34 2 12 2 12 1 2 2 3 1 10 2 10 3 27 2 6 1 3 2 34 2 8 2 233 3 104 3 146 2 19 6 10 2 12 2 1 4 7 2 10 3 22 2 8 5 2 1 1 5 12 2 6 3 4 3 6 2 16 1 1 2 4 2 6 2 8 2 26 1 65 3 5 1 22 2 14 3 26 1 14 1 35 3 8 3 6 2 9 1 109 1 3000"/>
<path stroke="#fbf3f6" stroke-width="25.6" d="M1057.1 0V2717" stroke-dasharray="0 560 3 26 3 9 2 6 2 61 2 157 1 2 3 608 2 87 1 78 3 3 2 1 1 172 6 28 3 3000"/>
<path stroke="#fc816d" stroke-width="25.6" d="M1057.1 0V2717" stroke-dasharray="0 344 2 43 2 101 2 2 2 8 1 31 3 13 3 15 5 2 2 9 2 12 2 19 3 2 3 4 1 18 2 43 2 1 2 6 1 7 4 5 3 23 5 26 3 1 1 2 2 4 3 8 1 1 3 16 2 14 4 16 1 1 2 12 2 315 3 67 1 102 1 50 2 4 1 13 2 5 2 18 3 14 1 17 3 10 3 67 1 17 2 21 1 12 3 5 2 15 1 12 3 7 2 29 3 5 2 2 3 25 4 45 1 134 1 225 1 396 2 3000"/>
<path stroke="#fc9684" stroke-width="25.6" d="M1057.1 0V2717" stroke-dasharray="0 340 1 22 2 110 3 4 3 11 2 2 1 28 6 17 2 9 1 4 2 7 2 26 3 1 3 3 2 4 2 1 3 6 2 5 2 4 1 7 2 23 1 12 2 7 1 5 1 2 2 25 2 2 3 1 1 25 4 3 2 5 3 10 1 9 3 60 2 8 5 22 2 187 3 54 2 11 2 1 3 67 2 148 2 7 1 126 1 36 3 3 3 19 1 7 3 12 2 29 1 1 2 16 6 2 2 26 3 2 1 29 2 15 2 11 4 22 3 2 1 20 2 9 2 2 1 112 2 268 2 3000"/>
<path stroke="#fdab9c" stroke-width="25.6" d="M1057.1 0V2717" stroke-dasharray="0 376 1 24 3 3 2 81 3 7 1 2 3 4 3 36 2 32 3 46 5 7 2 16 3 12 2 1 2 9 3 14 2 24 2 4 2 3 2 7 3 13 3 38 2 46 2 16 3 222 1 4 1 3 1 35 2 97 2 139 2 55 2 122 3 9 3 85 1 29 3 18 2 8 2 49 2 18 1 138 1 96 2 247 1 129 1 187 1 3000"/>
<path stroke="#fdc1b4" stroke-width="25.6" d="M1057.1 0V2717" stroke-dasharray="0 310 2 56 1 25 3 1 2 1 2 10 2 56 1 17 2 51 3 125 3 31 2 111 1 8 2 329 3 5 3 60 2 218 2 36 2 34 2 174 2 111 2 42 1 78 1 207 1 3000"/>
<path stroke="#fed5cc" stroke-width="25.6" d="M1057.1 0V2717" stroke-dasharray="0 260 3 22 1 72 1 55 2 13 3 98 1 3 3 16 3 12 3 37 1 49 3 43 3 3 3 41 2 59 3 265 2 12 3 18 3 12 2 107 1 156 2 24 2 40 2 20 1 171 2 139 2 785 1 3000"/>
<path stroke="#fee9e5" stroke-width="25.6" d="M1057.1 0V2717" stroke-dasharray="0 538 3 133 3 738 2 65 1 3000"/>
<path stroke="#fef3ff" stroke-width="25.6" d="M1057.1 0V2717" stroke-dasharray="0 250 1 13 1 51 1 4 2 6 1 16 1 28 1 15 1 38 2 645 1 20 1 1 2 4 1 12 2 49 1 17 2 3 1 26 2 635 2 10 2 12 1 27 1 4 1 27 1 10 1 657 1 3000"/>
<path stroke="#e9dbff" stroke-width="25.6" d="M1082.6 0V2717" stroke-dasharray="0 267 1 5 2 13 1 31 1 44 2 46 2 5 1 14 1 637 1 10 2 27 1 23 2 11 2 10 1 19 1 2 2 53 1 234 1 35 1 8 1 10 1 350 2 46 1 43 1 62 2 6 1 15 1 10 1 16 1 70 2 5 1 4 2 17 1 20 2 2 1 26 1 10 1 8 1 174 1 4 1 59 2 8 1 12 1 2 1 54 1 28 2 26 2 3 2 3000"/>
<path stroke="#efe1ff" stroke-width="25.6" d="M1082.6 0V2717" stroke-dasharray="0 304 2 8 2 8 1 32 2 30 1 24 2 6 2 758 2 1 1 35 1 1 2 14 2 139 1 27 1 14 1 7 1 33 2 64 1 2 1 313 1 2 2 13 1 52 1 34 1 70 2 12 2 34 2 13 1 12 2 2 2 26 1 18 2 1 1 48 1 71 1 11 1 31 1 17 2 23 1 30 1 23 1 10 1 3 1 52 1 41 1 27 2 6 1 46 2 3 1 3000"/>
<path stroke="#efe4fb" stroke-width="25.6" d="M1082.6 0V2717" stroke-dasharray="0 472 3 49 3 41 1 37 2 24 3 25 1 2 2 112 2 78 2 57 2 38 2 25 1 51 1 226 1 62 1 12 3 3000"/>
<path stroke="#f2e7ff" stroke-width="25.6" d="M1082.6 0V2717" stroke-dasharray="0 1637 1 10 1 13 2 95 2 11 2 15 1 36 1 12 2 3000"/>
<path stroke="#f5e7ff" stroke-width="25.6" d="M1082.6 0V2717" stroke-dasharray="0 245 1 12 2 3 1 8 1 15 1 6 2 18 1 34 1 66 2 656 2 12 1 11 1 62 2 1 1 56 1 13 2 169 1 23 1 14 3 21 1 10 1 21 2 4 2 5 1 342 2 26 1 3 1 7 1 12 2 38 1 23 1 4 2 13 1 24 3 29 1 24 1 5 2 39 3 74 1 12 2 16 1 2 1 21 1 26 2 47 2 6 2 11 2 14 1 51 2 21 1 20 1 23 1 122 2 34 2 3000"/>
<path stroke="#f6eefb" stroke-width="25.6" d="M1082.6 0V2717" stroke-dasharray="0 489 1 25 1 76 1 1 1 68 2 160 1 125 1 405 1 3000"/>
<path stroke="#f8edff" stroke-width="25.6" d="M1082.6 0V2717" stroke-dasharray="0 1592 1 18 2 68 2 25 1 3 2 64 2 3 2 1 1 14 1 16 1 1 1 3000"/>
<path stroke="#fa0709" stroke-width="25.6" d="M1082.6 0V2717" stroke-dasharray="0 491 2 94 2 67 1 8 5 33 2 11 4 68 2 13 2 45 2 6 3 12 1 5 2 57 1 14 1 74 1 5 3 187 1 122 2 302 2 6 2 59 2 21 1 62 1 3000"/>
<path stroke="#fa3727" stroke-width="25.6" d="M1082.6 0V2717" stroke-dasharray="0 476 3 5 3 16 1 22 1 18 2 5 2 1 2 5 2 10 3 4 2 9 2 28 3 31 2 6 5 31 2 5 2 32 2 8 1 13 2 8 5 22 2 27 1 10 1 9 3 8 2 53 3 11 3 2 4 11 1 38 6 10 2 8 1 11 1 13 2 15 5 30 2 167 1 4 2 13 2 16 3 11 4 1 4 6 2 10 2 3 6 212 2 20 2 67 2 70 1 20 1 6 1 25 2 3000"/>
<path stroke="#fb523f" stroke-width="25.6" d="M1082.6 0V2717" stroke-dasharray="0 451 3 28 1 10 1 2 3 7 2 1 2 4 2 30 4 10 3 10 3 20 3 9 1 30 1 2 2 1 2 10 1 7 2 1 5 14 3 3 1 2 2 23 2 8 2 5 2 35 2 10 2 1 3 2 5 28 3 4 2 1 2 4 2 3 4 10 4 3 2 2 4 7 3 20 2 32 1 2 1 5 2 25 2 26 4 48 3 95 1 101 3 10 2 5 1 2 4 25 2 5 2 8 2 239 3 123 2 3000"/>
<path stroke="#fb6a56" stroke-width="25.6" d="M1082.6 0V2717" stroke-dasharray="0 459 3 22 2 22 4 1 2 3 2 4 3 6 2 11 2 15 3 17 1 60 2 7 2 4 2 10 2 1 2 45 2 7 2 6 2 69 1 5 3 10 4 7 2 4 2 23 3 11 1 26 2 15 2 3 2 22 2 4 5 13 2 18 2 2 3 9 3 34 2 208 2 2 2 51 2 20 3 4 2 219 4 12 2 111 3 48 1 1 3 3000"/>
<path stroke="#fbf3f6" stroke-width="25.6" d="M1082.6 0V2717" stroke-dasharray="0 507 2 43 2 19 1 127 3 109 3 23 1 196 3 15 2 6 3 259 1 3000"/>
<path stroke="#fc816d" stroke-width="25.6" d="M1082.6 0V2717" stroke-dasharray="0 474 2 6 2 14 2 6 2 6 2 1 3 1 2 25 3 1 4 30 1 20 8 9 3 1 2 1 2 4 2 15 2 9 2 1 2 15 2 8 1 3 2 14 2 4 2 6 2 27 2 9 3 1 2 4 1 26 2 14 3 22 1 3 2 7 2 26 1 21 2 1 1 4 6 12 3 9 2 5 4 4 2 14 2 1 2 1 1 2 4 19 2 30 1 4 2 4 2 7 1 138 2 101 3 9 2 12 2 3 3 6 2 215 2 71 1 71 2 85 1 41 1 3000"/>
<path stroke="#fc9684" stroke-width="25.6" d="M1082.6 0V2717" stroke-dasharray="0 494 2 24 2 1 2 5 3 13 3 1 3 7 2 5 2 2 2 8 3 8 1 1 3 19 3 13 1 4 2 23 3 20 1 1 2 17 3 15 2 7 1 1 1 14 1 7 3 7 3 10 2 47 1 5 3 6 5 35 1 32 2 3 2 29 1 4 2 28 3 16 1 32 3 223 2 37 2 1 1 5 1 9 2 5 2 291 2 3 2 53 3 34 2 13 2 11 2 73 3 3000"/>
<path stroke="#fdab9c" stroke-width="25.6" d="M1082.6 0V2717" stroke-dasharray="0 481 2 50 1 15 1 20 2 38 6 10 2 73 1 1 1 16 1 2 3 6 2 14 3 10 3 30 1 2 3 19 4 1 7 33 3 73 2 11 2 9 3 3 2 30 2 30 3 12 2 7 3 159 1 41 3 11 1 24 2 44 1 10 4 237 1 149 2 13 3 46 2 3000"/>
<path stroke="#fdc1b4" stroke-width="25.6" d="M1082.6 0V2717" stroke-dasharray="0 461 3 77 2 6 2 46 1 21 2 20 1 25 3 4 2 10 2 30 2 2 2 84 2 39 1 17 3 50 2 21 3 9 4 52 2 10 1 79 1 215 3 305 2 2 3 21 3 36 3 53 2 3000"/>
<path stroke="#fed5cc" stroke-width="25.6" d="M1082.6 0V2717" stroke-dasharray="0 477 1 44 2 22 1 8 3 9 2 49 2 32 3 16 2 187 2 1 3 4 3 25 2 24 2 89 1 161 1 81 1 47 2 296 2 7 3 74 2 3000"/>
<path stroke="#fee9e5" stroke-width="25.6" d="M1082.6 0V2717" stroke-dasharray="0 1337 1 3000"/>
<path stroke="#fef3ff" stroke-width="25.6" d="M1082.6 0V2717" stroke-dasharray="0 1568 1 89 2 38 2 53 1 4 1 7 2 15 2 16 3 3000"/>
<path stroke="#d6c0ff" stroke-width="25.6" d="M1108.2 0V2717" stroke-dasharray="0 1982 2 20 1 20 1 1 2 14 2 1 1 11 1 14 3 14 3 27 1 37 2 30 1 5 1 66 1 19 1 20 4 26 6 40 1 30 2 3 1 21 3 3000"/>
<path stroke="#dec8ff" stroke-width="25.6" d="M1108.2 0V2717" stroke-dasharray="0 1987 2 2 2 2 1 3 3 4 1 6 1 17 2 2 2 13 2 35 1 22 2 9 2 37 1 27 2 2 2 13 1 3 1 15 1 11 3 9 1 6 1 5 1 2 1 1 2 1 2 17 2 5 1 3 1 3 1 2 1 15 1 4 1 14 1 17 1 16 1 4 2 3 1 2 2 1 2 19 1 10 1 3 2 3000"/>
<path stroke="#decbff" stroke-width="25.6" d="M1108.2 0V2717" stroke-dasharray="0 1267 1 4 1 5 1 1 2 47 1 1 2 545 3 1 2 12 1 4 2 17 1 549 2 6 2 19 2 18 2 26 1 100 3 3000"/>
<path stroke="#e6d3ff" stroke-width="25.6" d="M1108.2 0V2717" stroke-dasharray="0 1260 1 58 1 14 2 525 1 19 1 4 2 17 1 14 1 23 1 14 1 517 1 52 1 16 2 79 1 14 2 3000"/>
<path stroke="#e8d2ff" stroke-width="25.6" d="M1108.2 0V2717" stroke-dasharray="0 1968 1 2 3 7 1 5 1 34 1 16 2 4 1 11 1 12 1 12 1 4 1 7 2 11 1 23 1 19 1 2 1 24 2 12 1 40 2 13 1 9 1 6 1 2 2 11 2 19 1 90 1 38 2 3000"/>
<path stroke="#efe4fb" stroke-width="25.6" d="M1108.2 0V2717" stroke-dasharray="0 1057 3 53 2 3 2 30 3 23 1 42 1 352 2 74 2 27 1 69 1 81 1 734 1 3000"/>
<path stroke="#f0ddff" stroke-width="25.6" d="M1108.2 0V2717" stroke-dasharray="0 1277 1 5 1 9 1 10 2 30 2 6 2 527 1 45 2 35 2 525 1 23 2 12 1 4 1 3000"/>
<path stroke="#f2e7ff" stroke-width="25.6" d="M1108.2 0V2717" stroke-dasharray="0 302 2 27 1 8 2 29 2 1 1 5 1 13 2 11 1 83 2 33 2 18 2 75 2 81 1 11 1 20 1 12 1 28 2 35 1 13 2 1 3 36 1 508 1 16 1 29 1 13 2 3000"/>
<path stroke="#f6eefb" stroke-width="25.6" d="M1108.2 0V2717" stroke-dasharray="0 905 1 65 2 73 3 14 1 66 1 77 3 355 3 54 2 115 1 33 2 833 2 3000"/>
<path stroke="#f8edff" stroke-width="25.6" d="M1108.2 0V2717" stroke-dasharray="0 254 1 11 2 23 1 35 1 25 2 64 1 128 1 8 1 2 2 4 2 16 2 60 1 34 2 24 1 46 1 9 1 10 1 36 2 60 1 2 1 7 1 492 2 10 2 37 2 6 1 28 1 45 1 3000"/>
<path stroke="#fa0709" stroke-width="25.6" d="M1108.2 0V2717" stroke-dasharray="0 424 2 238 2 127 1 26 3 148 3 31 1 51 1 19 2 105 3 191 2 178 2 2 2 21 1 12 3 2 1 57 5 37 3 3 3 15 2 22 4 26 1 1 2 2 1 4 1 26 2 12 2 726 3 3 2 2 2 3000"/>
<path stroke="#fa3727" stroke-width="25.6" d="M1108.2 0V2717" stroke-dasharray="0 276 2 38 2 20 1 73 2 9 2 3 4 17 3 59 3 15 3 45 3 91 2 33 3 30 1 37 1 2 1 1 2 25 2 92 2 10 1 18 3 2 2 1 2 1 2 28 2 15 2 88 2 88 2 30 2 19 3 150 1 45 1 128 3 13 2 20 1 13 2 12 2 6 4 16 2 20 4 2 2 4 2 3 2 20 1 10 2 37 2 3 3 2 4 4 5 6 2 1 2 10 4 4 2 5 5 12 5 662 1 77 3 3000"/>
<path stroke="#fb523f" stroke-width="25.6" d="M1108.2 0V2717" stroke-dasharray="0 237 3 302 1 73 1 21 1 31 1 51 1 116 2 23 1 49 2 28 5 2 2 15 2 44 3 17 3 3 2 1 1 3 1 8 2 33 3 26 2 31 2 71 3 2 2 5 1 6 2 2 1 37 2 149 2 25 3 8 2 40 3 20 2 16 2 1 2 5 2 1 2 1 1 11 1 17 1 4 3 7 3 5 3 4 3 4 3 2 2 2 1 10 2 1 1 1 3 5 2 2 1 8 4 6 2 2 5 1 1 15 2 2 2 1 1 1 6 20 1 3 6 8 4 17 2 4 4 15 5 9 3 3000"/>
<path stroke="#fb6a56" stroke-width="25.6" d="M1108.2 0V2717" stroke-dasharray="0 262 3 209 3 26 1 10 1 1 2 12 3 95 2 87 1 2 3 44 2 72 1 60 2 31 2 7 1 1 1 4 1 2 3 48 3 98 2 15 2 39 2 12 2 62 3 39 1 37 1 52 2 38 3 28 2 105 2 17 4 12 1 1 1 4 2 3 1 6 2 1 2 23 1 2 1 5 3 9 11 1 1 17 2 6 5 1 3 17 5 2 3 7 2 6 1 1 3 1 1 8 2 17 1 7 4 4 4 1 3 2 1 9 3 5 2 13 2 723 2 12 2 27 1 3000"/>
<path stroke="#fbf3f6" stroke-width="25.6" d="M1108.2 0V2717" stroke-dasharray="0 946 5 35 2 93 1 545 1 61 1 86 1 6 2 2 3 826 3 3000"/>
<path stroke="#fc816d" stroke-width="25.6" d="M1108.2 0V2717" stroke-dasharray="0 313 2 80 2 7 2 20 2 18 1 38 2 1 3 83 2 48 2 6 3 23 1 57 1 9 2 33 2 22 1 44 3 82 1 6 2 13 2 2 2 143 1 41 4 56 2 54 2 137 3 195 1 12 2 24 2 47 1 4 4 19 3 19 3 17 3 46 1 22 2 3 2 19 1 704 2 28 2 3000"/>
<path stroke="#fc9684" stroke-width="25.6" d="M1108.2 0V2717" stroke-dasharray="0 238 1 1 3 37 1 61 3 11 3 32 2 10 2 79 1 17 2 77 2 152 2 16 2 114 3 29 2 13 2 24 2 10 2 11 2 20 5 58 2 68 2 40 2 10 1 204 3 249 2 101 2 17 2 5 1 798 1 10 3 7 2 3000"/>
<path stroke="#fdab9c" stroke-width="25.6" d="M1108.2 0V2717" stroke-dasharray="0 284 4 17 2 32 2 30 3 126 2 36 1 5 2 104 4 7 1 16 2 28 2 10 1 61 2 47 2 35 2 8 3 66 1 8 2 3 2 12 2 5 2 108 3 38 2 1 2 18 2 73 2 5 1 3 2 135 2 31 2 12 3 94 1 3 2 42 2 44 2 41 3 1 1 75 2 15 1 41 2 35 2 53 1 693 2 1 2 3000"/>
<path stroke="#fdc1b4" stroke-width="25.6" d="M1108.2 0V2717" stroke-dasharray="0 262 1 27 1 3 2 19 2 59 3 210 2 4 1 47 1 42 3 41 3 135 3 206 2 87 2 26 1 25 3 110 2 34 1 26 2 10 2 16 1 55 2 1 1 21 3 62 2 52 3 35 3 16 2 49 2 30 3 9 3 57 2 719 2 12 1 32 1 3000"/>
<path stroke="#fed5cc" stroke-width="25.6" d="M1108.2 0V2717" stroke-dasharray="0 342 2 56 2 50 3 321 2 125 2 28 1 4 2 118 2 43 2 32 1 8 2 4 3 7 2 40 3 23 2 140 2 128 2 50 2 3 2 34 1 1 2 5 2 9 4 73 2 67 2 12 2 30 1 3000"/>
<path stroke="#fee9e5" stroke-width="25.6" d="M1108.2 0V2717" stroke-dasharray="0 978 3 3000"/>
<path stroke="#fef3ff" stroke-width="25.6" d="M1108.2 0V2717" stroke-dasharray="0 234 1 18 2 9 2 89 1 15 1 58 1 119 1 15 1 8 2 26 1 11 2 24 1 16 2 80 2 8 1 32 2 62 1 535 1 15 2 65 1 26 1 25 2 16 2 3 1 3000"/>
<path stroke="#d6c0ff" stroke-width="25.6" d="M1133.7 0V2717" stroke-dasharray="0 1979 2 18 1 6 2 6 2 9 1 20 2 55 1 11 2 16 1 4 1 14 2 29 1 5 1 25 2 44 1 13 1 37 2 1 1 10 1 10 1 3 1 6 3 10 1 17 2 35 2 21 1 9 2 7 1 3000"/>
<path stroke="#dec8ff" stroke-width="25.6" d="M1133.7 0V2717" stroke-dasharray="0 1982 1 14 2 4 1 7 1 10 6 1 1 21 1 14 2 1 1 5 1 10 2 16 1 5 2 23 1 2 2 26 1 5 2 8 1 39 2 2 1 7 1 46 2 14 1 6 1 2 2 15 3 10 2 13 2 7 2 18 1 5 1 4 1 30 3 13 4 3000"/>
<path stroke="#decbff" stroke-width="25.6" d="M1133.7 0V2717" stroke-dasharray="0 1093 2 3 4 7 1 3 1 25 2 19 2 25 1 18 1 6 3 29 1 607 2 2 1 9 1 6 1 16 4 9 1 15 2 23 2 704 1 3000"/>
<path stroke="#e6d3ff" stroke-width="25.6" d="M1133.7 0V2717" stroke-dasharray="0 1077 2 4 1 43 1 25 1 15 2 21 1 6 1 30 2 9 2 1 1 608 2 32 2 1 2 28 2 18 1 690 2 3000"/>
<path stroke="#e8d2ff" stroke-width="25.6" d="M1133.7 0V2717" stroke-dasharray="0 2014 2 1 2 7 1 6 1 24 2 25 1 3 2 4 1 8 2 7 1 33 2 18 1 43 1 6 1 5 1 3 1 21 1 10 1 5 1 49 1 1 1 5 1 6 1 12 2 23 1 6 1 1 1 35 1 14 1 16 1 1 1 3 2 3000"/>
<path stroke="#e9dbff" stroke-width="25.6" d="M1133.7 0V2717" stroke-dasharray="0 1303 1 14 1 10 1 9 1 11 1 8 1 1241 1 4 1 3000"/>
<path stroke="#efe1ff" stroke-width="25.6" d="M1133.7 0V2717" stroke-dasharray="0 1308 1 6 1 1244 1 2 1 49 1 1 1 3000"/>
<path stroke="#efe4fb" stroke-width="25.6" d="M1133.7 0V2717" stroke-dasharray="0 262 1 131 1 1 2 9 3 547 1 12 3 17 2 379 3 13 3 27 1 89 2 50 1 138 2 109 2 3000"/>
<path stroke="#f0ddff" stroke-width="25.6" d="M1133.7 0V2717" stroke-dasharray="0 1079 1 12 1 20 2 34 1 87 2 640 1 27 2 1 1 40 2 693 2 3 2 3000"/>
<path stroke="#f2e7ff" stroke-width="25.6" d="M1133.7 0V2717" stroke-dasharray="0 506 2 13 1 9 2 91 2 5 2 2 1 97 1 1 2 34 1 6 1 4 1 3000"/>
<path stroke="#f5e7ff" stroke-width="25.6" d="M1133.7 0V2717" stroke-dasharray="0 1280 2 34 1 35 1 1218 1 3000"/>
<path stroke="#f6eefb" stroke-width="25.6" d="M1133.7 0V2717" stroke-dasharray="0 255 3 98 2 1 2 585 1 19 2 83 1 377 2 46 3 132 3 43 2 53 3 31 2 24 1 26 3 3000"/>
<path stroke="#f8edff" stroke-width="25.6" d="M1133.7 0V2717" stroke-dasharray="0 481 2 61 2 20 2 30 1 17 1 30 1 15 1 68 2 17 1 120 1 1600 2 14 2 6 1 24 1 3000"/>
<path stroke="#fa0709" stroke-width="25.6" d="M1133.7 0V2717" stroke-dasharray="0 235 2 15 2 76 3 80 1 159 1 9 5 48 3 42 2 15 3 24 1 15 2 6 2 101 2 44 2 4 2 10 1 14 2 26 3 36 3 36 1 351 1 25 2 28 2 9 2 20 2 5 3 5 6 59 2 11 2 43 3 5 3 7 1 4 2 106 2 799 2 27 1 15 2 3000"/>
<path stroke="#fa3727" stroke-width="25.6" d="M1133.7 0V2717" stroke-dasharray="0 247 3 18 1 12 2 22 5 43 2 9 1 18 1 26 1 13 3 2 1 86 3 7 2 23 1 3 2 76 1 70 1 10 3 6 1 31 2 2 1 26 2 30 3 11 3 45 2 32 1 12 3 25 5 3 1 17 2 32 2 5 2 2 2 15 1 239 2 104 1 18 2 5 1 12 2 10 1 19 3 1 1 23 3 1 2 13 2 7 2 9 3 1 1 10 2 14 3 1 1 3 1 3 2 56 1 3 2 11 1 1 2 4 3 2 1 8 5 4 2 31 2 11 1 10 1 12 2 16 2 20 1 7 1 29 2 8 3 637 2 4 3 3000"/>
<path stroke="#fb523f" stroke-width="25.6" d="M1133.7 0V2717" stroke-dasharray="0 234 3 11 3 39 3 12 1 11 1 11 2 10 3 4 1 7 1 76 2 21 3 33 3 1 2 1 3 59 1 47 2 10 3 43 3 10 2 26 2 30 2 10 2 36 2 22 2 68 2 14 3 4 2 6 1 24 3 10 1 21 1 17 2 2 2 7 2 21 1 7 1 19 6 85 2 226 1 2 2 6 4 3 1 11 1 1 3 3 3 21 1 4 2 1 3 2 2 4 2 19 3 30 4 8 2 1 2 36 2 14 2 5 3 16 3 13 2 5 2 13 1 37 2 26 2 12 1 20 4 49 2 4 2 12 1 5 2 3 2 651 3 30 1 30 2 3000"/>
<path stroke="#fb6a56" stroke-width="25.6" d="M1133.7 0V2717" stroke-dasharray="0 327 2 18 2 14 2 13 3 2 2 17 2 8 2 33 1 23 2 17 2 8 2 19 3 11 1 17 1 17 1 14 2 2 3 23 2 9 2 52 1 3 1 29 2 17 1 5 3 40 1 96 3 16 2 5 2 11 2 10 2 2 2 6 2 7 2 28 1 2 2 54 3 301 2 35 2 11 2 10 3 52 1 29 3 3 2 15 1 47 3 27 3 16 1 24 1 36 1 28 2 59 3 4 2 6 1 29 4 5 2 660 3 3 2 13 4 32 2 3000"/>
<path stroke="#fbf3f6" stroke-width="25.6" d="M1133.7 0V2717" stroke-dasharray="0 256 1 166 1 480 3 130 1 399 3 57 3 69 1 52 1 15 3 145 3 27 1 3000"/>
<path stroke="#fc816d" stroke-width="25.6" d="M1133.7 0V2717" stroke-dasharray="0 234 4 38 3 2 2 40 4 2 2 12 2 7 3 29 3 33 2 6 6 72 1 4 2 7 1 56 1 3 3 2 1 41 3 76 3 37 1 19 2 14 2 23 2 51 2 1 2 67 3 50 1 15 1 3 2 2 1 44 2 282 2 29 1 24 2 3 3 9 3 23 3 6 1 15 3 4 3 27 3 15 3 2 1 1 2 8 3 26 2 6 4 5 1 7 2 11 2 17 3 31 2 9 1 8 2 15 5 2 2 6 3 18 2 15 2 11 3 11 3 10 2 2 2 6 2 4 2 26 2 651 2 16 3 35 2 1 2 3000"/>
<path stroke="#fc9684" stroke-width="25.6" d="M1133.7 0V2717" stroke-dasharray="0 275 2 11 3 16 3 2 3 18 5 42 2 10 2 12 3 54 1 11 1 6 2 17 2 15 2 18 2 4 3 41 2 9 1 149 2 10 1 31 2 59 3 42 3 7 2 27 3 3 2 9 3 2 1 29 2 5 3 21 1 4 2 18 6 143 2 99 2 19 2 50 2 1 5 11 2 3 2 9 3 3 1 15 2 12 4 6 2 5 2 8 5 22 2 24 3 8 1 21 2 2 3 4 5 4 2 1 2 4 3 24 4 9 1 8 2 6 2 45 1 11 3 7 3 4 1 8 1 13 2 12 2 9 5 21 1 9 3 13 2 17 1 671 2 5 1 3000"/>
<path stroke="#fdab9c" stroke-width="25.6" d="M1133.7 0V2717" stroke-dasharray="0 252 3 68 3 21 3 14 2 52 2 81 2 63 1 25 1 26 3 117 1 112 2 54 2 6 2 12 2 54 2 1 3 30 2 39 3 273 1 47 2 8 3 61 3 2 4 15 2 26 1 126 2 32 3 15 3 83 4 8 3 24 2 14 3 59 1 650 2 3000"/>
<path stroke="#fdc1b4" stroke-width="25.6" d="M1133.7 0V2717" stroke-dasharray="0 375 2 74 2 460 3 77 2 41 2 15 2 166 1 91 2 55 2 7 1 95 1 1 2 42 2 20 2 24 2 39 2 19 2 93 2 78 3 81 1 48 2 660 1 3000"/>
<path stroke="#fed5cc" stroke-width="25.6" d="M1133.7 0V2717" stroke-dasharray="0 259 1 73 1 591 3 3 1 4 2 6 2 42 2 3 2 11 3 365 2 31 2 4 2 53 1 2 2 17 2 1 2 61 3 2 2 8 3 1 2 47 1 17 4 28 2 80 3 1 2 14 2 20 3 18 2 78 2 3000"/>
<path stroke="#fee9e5" stroke-width="25.6" d="M1133.7 0V2717" stroke-dasharray="0 1448 2 37 2 14 2 234 3 51 2 42 2 3000"/>
<path stroke="#fef3ff" stroke-width="25.6" d="M1133.7 0V2717" stroke-dasharray="0 482 2 1 2 27 1 39 1 3 1 29 1 5 1 5 1 32 1 42 1 6 1 44 2 28 1 19 2 29 2 35 1 11 1 21 1 2 1 1589 1 31 1 16 1 24 2 3000"/>
<path stroke="#fa0709" stroke-width="25.6" d="M1159.2 0V2717" stroke-dasharray="0 1732 2 3000"/>
<path stroke="#fa3727" stroke-width="25.6" d="M1159.2 0V2717" stroke-dasharray="0 1641 2 33 2 20 2 47 2 81 2 3000"/>
<path stroke="#fb523f" stroke-width="25.6" d="M1159.2 0V2717" stroke-dasharray="0 1623 4 25 2 93 3 17 2 56 3 442 2 3000"/>
<path stroke="#fb6a56" stroke-width="25.6" d="M1159.2 0V2717" stroke-dasharray="0 1087 2 107 2 37 1 322 3 97 3 3 3 36 1 4 1 26 2 9 2 5 1 34 2 214 1 357 2 3000"/>
<path stroke="#fc816d" stroke-width="25.6" d="M1159.2 0V2717" stroke-dasharray="0 1267 2 22 2 23 1 30 2 275 1 15 3 156 1 37 2 350 1 3000"/>
<path stroke="#fc9684" stroke-width="25.6" d="M1159.2 0V2717" stroke-dasharray="0 901 1 272 2 106 2 208 1 174 1 24 3 27 2 21 2 7 1 36 2 43 4 3000"/>
<path stroke="#fdab9c" stroke-width="25.6" d="M1159.2 0V2717" stroke-dasharray="0 1123 2 40 2 60 1 118 2 245 2 52 3 5 2 10 1 57 1 6 2 407 1 3000"/>
<path stroke="#fdc1b4" stroke-width="25.6" d="M1159.2 0V2717" stroke-dasharray="0 958 2 5 2 437 2 251 3 4 2 25 2 40 1 38 2 348 1 3000"/>
<path stroke="#fed5cc" stroke-width="25.6" d="M1159.2 0V2717" stroke-dasharray="0 1181 1 133 2 290 2 155 1 294 1 3000"/>
<path stroke="#efe4fb" stroke-width="25.6" d="M1184.8 0V2717" stroke-dasharray="0 1574 1 228 1 20 2 93 3 3000"/>
<path stroke="#f2e7ff" stroke-width="25.6" d="M1184.8 0V2717" stroke-dasharray="0 246 2 24 1 39 1 45 1 5 1 19 2 33 1 12 2 60 2 7 1 42 1 20 2 9 1 23 2 134 2 3 1 39 1 27 4 1 2 23 4 30 2 70 1 27 2 58 2 53 1 2 1 16 1 36 1 18 1 56 1 41 1 28 1 24 2 15 1 151 1 5 2 14 2 471 1 95 1 31 1 4 1 2 1 12 2 1 1 40 1 5 2 15 1 27 2 30 1 95 1 118 1 71 1 38 1 8 1 10 2 5 1 36 1 3000"/>
<path stroke="#f6eefb" stroke-width="25.6" d="M1184.8 0V2717" stroke-dasharray="0 1576 2 80 5 6 2 110 1 93 2 8 1 3000"/>
<path stroke="#f8edff" stroke-width="25.6" d="M1184.8 0V2717" stroke-dasharray="0 237 1 53 1 20 1 72 1 117 1 33 1 9 2 40 1 43 1 1 1 67 1 14 1 26 1 10 1 1 2 41 2 64 1 19 3 29 2 20 1 24 2 20 1 48 1 13 2 3 1 103 2 5 2 2 2 8 1 6 1 19 1 89 1 10 2 35 2 4 1 93 1 10 1 528 1 8 1 35 1 50 1 44 1 4 2 16 1 61 2 88 2 33 1 21 2 11 2 7 1 9 1 81 1 71 2 58 1 39 2 3000"/>
<path stroke="#fa0709" stroke-width="25.6" d="M1184.8 0V2717" stroke-dasharray="0 1591 2 6 2 7 3 20 1 25 4 49 2 31 4 17 2 7 2 80 1 4 2 2 3 2 3 5 2 33 2 10 1 15 2 622 1 3000"/>
<path stroke="#fa3727" stroke-width="25.6" d="M1184.8 0V2717" stroke-dasharray="0 1096 1 440 2 26 1 3 2 6 1 11 1 3 2 27 2 5 2 3 3 3 4 9 1 9 1 2 2 4 2 18 2 13 2 4 2 22 4 1 2 5 2 9 2 11 1 8 3 4 4 36 2 5 3 9 3 5 2 7 3 5 1 5 2 10 6 4 3 29 3 9 6 17 1 3000"/>
<path stroke="#fb523f" stroke-width="25.6" d="M1184.8 0V2717" stroke-dasharray="0 559 2 376 2 201 1 254 2 79 2 22 1 91 2 2 2 7 4 8 1 1 2 1 5 1 3 17 3 1 1 14 1 14 3 24 3 4 3 1 3 19 1 7 1 6 2 4 2 28 3 9 2 5 3 3 2 10 1 30 1 2 3 6 3 14 1 15 2 9 1 13 2 4 3 1 3 9 5 247 2 3000"/>
<path stroke="#fb6a56" stroke-width="25.6" d="M1184.8 0V2717" stroke-dasharray="0 452 2 116 1 111 1 157 2 19 1 244 1 399 1 52 1 12 1 24 2 6 3 10 3 11 2 70 2 8 1 9 3 9 3 65 2 12 3 5 1 3 5 4 2 7 2 4 3 3 3 3 2 7 5 2 1 1 2 3 2 5 4 3 1 41 4 58 1 3000"/>
<path stroke="#fbf3f6" stroke-width="25.6" d="M1184.8 0V2717" stroke-dasharray="0 1566 3 141 1 39 2 27 3 5 2 43 3 28 1 3 3 3000"/>
<path stroke="#fc816d" stroke-width="25.6" d="M1184.8 0V2717" stroke-dasharray="0 450 2 977 2 156 2 22 5 13 2 10 3 17 3 9 5 21 2 8 2 14 2 14 2 3 3 24 2 15 4 2 3 32 3 39 2 15 3 6 1 26 2 6 3 14 2 288 2 109 1 128 2 100 2 3000"/>
<path stroke="#fc9684" stroke-width="25.6" d="M1184.8 0V2717" stroke-dasharray="0 907 1 492 2 12 2 86 2 35 2 42 3 15 3 14 3 10 1 7 3 4 5 5 4 3 2 12 2 9 3 21 2 21 4 5 1 20 2 2 6 8 1 22 5 17 5 2 2 113 2 3000"/>
<path stroke="#fdab9c" stroke-width="25.6" d="M1184.8 0V2717" stroke-dasharray="0 451 3 231 1 736 2 46 2 97 3 6 1 26 1 2 3 30 3 13 3 8 1 21 2 2 5 21 2 6 3 44 2 8 3 16 1 20 3 4 3 3 2 220 2 119 2 3000"/>
<path stroke="#fdc1b4" stroke-width="25.6" d="M1184.8 0V2717" stroke-dasharray="0 1599 2 32 2 16 3 13 3 5 2 24 3 20 2 14 3 36 3 11 3 60 1 13 1 8 2 21 3 10 2 393 1 3000"/>
<path stroke="#fed5cc" stroke-width="25.6" d="M1184.8 0V2717" stroke-dasharray="0 967 1 528 1 73 1 152 2 11 1 14 1 2 2 9 3 6 2 100 3 39 3 3000"/>
<path stroke="#fee9e5" stroke-width="25.6" d="M1184.8 0V2717" stroke-dasharray="0 1805 2 8 3 17 1 12 2 98 2 3000"/>
<path stroke="#fef3ff" stroke-width="25.6" d="M1184.8 0V2717" stroke-dasharray="0 255 1 7 2 92 1 7 2 32 1 10 2 230 1 8 3 41 1 17 1 13 2 25 1 19 1 60 2 42 1 48 1 41 1 9 1 24 2 1 2 26 1 40 1 4 1 18 1 6 1 44 1 79 1 31 1 112 1 7 1 42 2 49 2 9 2 2 2 22 2 6 2 13 2 476 1 21 1 26 1 33 1 20 1 4 2 12 1 14 2 20 2 49 2 23 1 50 1 11 2 21 1 36 1 5 1 34 1 1 2 13 1 20 1 40 2 9 2 32 1 43 2 3000"/>
<path stroke="#efe4fb" stroke-width="25.6" d="M1210.3 0V2717" stroke-dasharray="0 1553 3 57 1 39 1 3000"/>
<path stroke="#f2e7ff" stroke-width="25.6" d="M1210.3 0V2717" stroke-dasharray="0 240 1 65 1 7 1 11 2 9 1 5 1 1 1 7 2 14 1 728 1 22 3 100 1 19 2 15 1 4 2 14 2 141 1 29 1 27 1 7 1 16 2 7 1 346 1 39 2 65 2 46 1 12 1 14 3 12 1 36 1 6 1 1 1 24 1 62 1 8 2 1 2 37 2 22 1 7 1 5 1 61 1 40 2 10 2 30 1 4 1 44 1 26 1 24 5 23 2 8 1 58 1 20 2 3000"/>
<path stroke="#f6eefb" stroke-width="25.6" d="M1210.3 0V2717" stroke-dasharray="0 1576 3 23 2 30 3 76 3 49 2 8 2 3000"/>
<path stroke="#f8edff" stroke-width="25.6" d="M1210.3 0V2717" stroke-dasharray="0 313 1 30 1 3 2 28 2 5 1 698 1 12 1 4 1 1 2 56 2 49 1 59 2 33 1 72 1 44 2 1 2 48 1 6 1 4 2 360 2 41 1 25 2 47 1 51 1 37 1 12 3 34 1 15 2 70 1 55 2 15 2 15 2 46 2 9 2 31 1 52 2 6 2 52 2 15 1 89 2 3000"/>
<path stroke="#fa0709" stroke-width="25.6" d="M1210.3 0V2717" stroke-dasharray="0 487 2 8 1 68 2 81 2 37 2 8 2 110 2 5 1 1 1 66 1 49 2 55 2 432 1 13 2 28 2 25 1 32 2 53 3 1 2 10 4 56 3 79 1 31 2 30 3 2 1 613 2 3000"/>
<path stroke="#fa3727" stroke-width="25.6" d="M1210.3 0V2717" stroke-dasharray="0 462 2 7 2 4 1 23 2 48 2 35 2 4 2 8 4 32 3 7 2 15 1 24 3 57 1 40 1 5 1 32 2 8 2 56 1 74 1 26 1 43 2 53 2 3 2 19 2 7 2 7 1 131 1 172 3 49 1 38 1 23 2 18 1 6 2 19 2 54 1 18 2 16 2 28 5 40 2 35 3 5 1 97 1 230 2 374 1 62 2 41 1 4 2 3000"/>
<path stroke="#fb523f" stroke-width="25.6" d="M1210.3 0V2717" stroke-dasharray="0 307 1 164 3 24 2 22 3 7 1 3 3 11 1 41 3 56 2 18 2 10 3 26 4 15 1 1 2 43 1 5 1 9 2 1 2 11 3 12 3 11 2 203 1 140 2 44 1 12 2 23 2 105 2 1 1 210 3 17 1 12 3 13 3 67 1 1 2 1 1 2 3 28 3 7 2 2 2 19 2 5 3 1 3 4 2 14 3 2 2 53 2 155 1 178 2 84 1 3000"/>
<path stroke="#fb6a56" stroke-width="25.6" d="M1210.3 0V2717" stroke-dasharray="0 457 3 13 2 18 3 10 3 31 2 64 2 13 1 44 2 29 1 104 2 44 3 73 1 29 2 17 2 165 1 128 2 67 2 122 2 49 2 60 3 7 2 2 2 4 2 18 3 11 2 37 1 1 3 4 1 29 3 21 4 10 2 12 2 9 2 16 3 3 1 14 3 1 2 4 3 4 2 9 1 55 2 57 2 311 2 341 2 3000"/>
<path stroke="#fbf3f6" stroke-width="25.6" d="M1210.3 0V2717" stroke-dasharray="0 1586 3 36 1 39 1 138 3 22 3 3000"/>
<path stroke="#fc816d" stroke-width="25.6" d="M1210.3 0V2717" stroke-dasharray="0 474 2 44 2 15 1 28 2 49 2 2 1 18 3 13 4 18 2 78 4 34 2 47 3 14 2 76 1 77 2 111 1 221 2 1 2 13 2 70 3 121 2 26 2 29 3 5 2 29 3 40 2 8 3 18 2 24 3 6 2 3 2 11 3 4 2 34 1 13 2 25 2 390 1 71 2 270 1 19 2 3000"/>
<path stroke="#fc9684" stroke-width="25.6" d="M1210.3 0V2717" stroke-dasharray="0 452 3 44 3 21 4 52 1 4 3 119 2 12 2 11 1 7 2 71 2 23 3 35 1 115 2 35 1 92 2 16 2 38 2 26 1 91 1 22 2 47 2 33 2 53 2 14 1 22 2 53 2 24 1 1 2 11 1 15 1 25 1 17 4 38 2 2 3 20 2 12 2 22 3 2 2 22 3 33 2 201 2 353 1 52 1 122 2 18 2 3000"/>
<path stroke="#fdab9c" stroke-width="25.6" d="M1210.3 0V2717" stroke-dasharray="0 501 1 119 1 7 2 161 2 188 2 122 1 14 2 117 2 4 2 67 2 57 3 31 2 18 1 19 2 82 3 9 1 31 1 72 3 5 2 64 3 16 3 3 2 28 2 29 1 6 2 47 1 298 1 78 1 76 2 251 1 3000"/>
<path stroke="#fdc1b4" stroke-width="25.6" d="M1210.3 0V2717" stroke-dasharray="0 401 1 549 1 32 2 7 1 224 1 95 2 31 2 64 2 95 4 183 2 351 2 46 1 7 1 11 2 461 2 65 2 3000"/>
<path stroke="#fed5cc" stroke-width="25.6" d="M1210.3 0V2717" stroke-dasharray="0 335 1 714 2 184 1 351 3 768 1 50 1 3000"/>
<path stroke="#fee9e5" stroke-width="25.6" d="M1210.3 0V2717" stroke-dasharray="0 1603 2 3000"/>
<path stroke="#fef3ff" stroke-width="25.6" d="M1210.3 0V2717" stroke-dasharray="0 246 1 23 1 7 1 68 1 9 1 25 2 725 1 15 2 1 1 17 1 16 1 29 2 6 2 77 1 41 1 15 1 17 1 27 1 18 2 133 1 3 1 309 1 1 2 3 1 76 1 15 4 78 1 74 1 21 2 11 1 5 2 98 2 67 1 32 1 45 2 91 2 84 1 12 1 13 1 3000"/>
<path stroke="#e9dbff" stroke-width="25.6" d="M1235.8 0V2717" stroke-dasharray="0 245 1 36 2 51 1 9 1 13 2 8 1 1001 1 63 1 26 1 51 1 351 1 46 2 17 1 17 2 3 1 28 1 19 1 67 2 40 1 49 2 10 2 27 1 2 1 13 1 28 1 1 1 9 2 21 1 16 1 59 2 9 1 23 1 71 1 27 1 19 2 13 2 112 1 3000"/>
<path stroke="#efe1ff" stroke-width="25.6" d="M1235.8 0V2717" stroke-dasharray="0 254 2 37 2 3 2 13 1 54 1 2 1 1 1 41 1 19 1 936 2 19 1 3 2 1 1 31 2 15 2 1 2 27 1 17 1 21 2 16 1 318 1 3 1 17 1 20 1 45 1 43 1 33 1 61 1 19 2 6 1 23 1 9 2 36 2 31 1 7 1 24 1 18 2 10 3 61 1 80 1 77 1 16 3 9 2 97 3 3000"/>
<path stroke="#efe4fb" stroke-width="25.6" d="M1235.8 0V2717" stroke-dasharray="0 970 1 1 3 372 1 237 1 34 3 138 2 3000"/>
<path stroke="#f2e7ff" stroke-width="25.6" d="M1235.8 0V2717" stroke-dasharray="0 512 1 25 1 15 2 28 2 46 2 8 1 12 2 13 1 3 1 3 1 25 1 32 1 9 1 18 1 35 1 21 1 37 1 1 1 13 1 194 1 88 1 5 1 1 1 7 1 43 1 4 1 3000"/>
<path stroke="#f5e7ff" stroke-width="25.6" d="M1235.8 0V2717" stroke-dasharray="0 294 2 6 1 57 2 4 1 1 2 17 3 6 2 33 1 958 2 80 1 56 1 3 1 327 1 7 2 84 1 19 2 6 1 11 1 31 1 60 2 24 1 21 1 16 1 12 1 6 2 48 2 40 1 2 1 27 1 19 1 5 1 2 2 3 1 11 2 43 2 13 1 6 1 36 1 100 1 3000"/>
<path stroke="#f6eefb" stroke-width="25.6" d="M1235.8 0V2717" stroke-dasharray="0 927 2 29 1 3 2 66 1 17 2 251 1 23 2 229 1 4 3 2 3 187 2 61 3 3000"/>
<path stroke="#f8edff" stroke-width="25.6" d="M1235.8 0V2717" stroke-dasharray="0 488 1 51 2 6 2 32 1 94 2 20 1 24 2 64 2 27 1 28 1 262 1 24 1 20 2 12 1 5 1 7 1 64 1 3000"/>
<path stroke="#fa0709" stroke-width="25.6" d="M1235.8 0V2717" stroke-dasharray="0 274 2 31 1 33 2 117 2 82 2 157 1 108 3 25 2 70 1 46 4 47 2 9 1 14 3 82 1 440 2 35 3 17 2 70 4 1 2 31 2 19 3 56 2 752 3 49 2 3000"/>
<path stroke="#fa3727" stroke-width="25.6" d="M1235.8 0V2717" stroke-dasharray="0 256 2 125 1 13 2 62 3 34 2 56 2 72 1 17 3 28 3 64 2 21 3 91 3 32 2 1 3 2 1 17 3 25 3 11 2 23 2 14 2 16 2 17 5 12 4 16 1 67 2 74 1 37 2 26 2 19 3 7 2 13 3 6 2 8 2 64 1 113 1 28 2 8 3 13 5 5 1 21 5 14 5 7 2 4 3 38 1 11 2 11 3 11 5 12 3 10 2 3 2 11 3 9 5 33 2 728 2 8 2 17 2 18 2 3000"/>
<path stroke="#fb523f" stroke-width="25.6" d="M1235.8 0V2717" stroke-dasharray="0 531 1 190 3 196 3 15 1 28 2 4 2 7 2 4 4 18 2 13 2 1 1 4 2 4 2 11 2 79 2 69 2 61 1 22 1 15 2 13 2 12 1 6 3 14 2 191 2 32 3 15 2 19 1 5 1 1 1 4 2 6 2 9 3 48 6 2 3 33 2 5 2 20 3 20 4 1 2 24 3 164 2 210 2 359 3 3000"/>
<path stroke="#fb6a56" stroke-width="25.6" d="M1235.8 0V2717" stroke-dasharray="0 278 1 43 1 238 3 46 3 14 2 18 2 52 3 3 2 82 2 130 1 3 1 43 2 15 1 9 2 35 3 3 1 6 3 7 3 29 2 18 2 21 1 146 1 68 2 59 1 101 1 7 1 94 1 7 1 12 4 22 2 63 2 24 4 16 2 25 1 31 2 432 2 202 1 63 1 23 1 2 2 25 3 14 2 12 1 3000"/>
<path stroke="#fbf3f6" stroke-width="25.6" d="M1235.8 0V2717" stroke-dasharray="0 971 3 312 3 68 2 228 3 15 2 38 2 89 3 11 2 55 3 755 2 22 2 12 3 3000"/>
<path stroke="#fc816d" stroke-width="25.6" d="M1235.8 0V2717" stroke-dasharray="0 322 1 124 2 4 3 2 1 128 2 3 3 2 7 17 2 13 2 38 3 19 2 23 2 17 3 29 2 10 3 126 3 16 1 27 2 31 1 4 3 8 2 10 3 6 3 245 2 17 3 18 1 17 3 8 3 4 3 29 1 212 3 56 2 18 1 36 3 16 2 22 3 17 2 3 2 8 2 30 2 6 1 137 1 595 2 11 3 30 1 2 2 3000"/>
<path stroke="#fc9684" stroke-width="25.6" d="M1235.8 0V2717" stroke-dasharray="0 371 2 10 2 63 3 33 2 57 2 92 2 19 2 13 3 1 2 12 2 14 2 202 1 7 3 3 2 24 2 14 3 32 2 5 3 12 5 19 1 3 1 2 2 70 1 7 2 49 1 23 2 1 2 56 2 3 3 22 2 29 1 2 1 13 2 1 2 63 2 5 2 91 2 25 1 14 5 3 4 12 1 19 3 6 2 5 2 3 3 15 2 13 1 7 2 25 1 1 2 9 4 22 1 13 1 2 1 27 2 40 3 357 1 35 2 82 1 316 3 3000"/>
<path stroke="#fdab9c" stroke-width="25.6" d="M1235.8 0V2717" stroke-dasharray="0 335 1 69 1 180 1 60 3 14 3 58 2 92 2 40 2 34 1 6 2 13 2 5 3 29 2 37 3 176 2 1 1 14 1 46 1 24 2 32 2 8 2 12 1 31 1 71 1 50 2 71 2 94 1 34 2 3 3 31 3 4 1 48 3 777 2 3000"/>
<path stroke="#fdc1b4" stroke-width="25.6" d="M1235.8 0V2717" stroke-dasharray="0 447 1 60 3 34 3 74 2 67 3 35 1 24 1 28 3 18 1 3 1 21 3 6 4 40 1 84 2 14 3 30 2 6 2 11 3 20 3 186 1 11 3 15 3 11 2 61 3 39 2 67 2 15 1 24 1 2 1 25 2 54 2 121 4 35 2 66 2 610 1 3000"/>
<path stroke="#fed5cc" stroke-width="25.6" d="M1235.8 0V2717" stroke-dasharray="0 360 2 154 2 134 2 110 2 119 2 41 1 25 3 40 1 56 2 237 1 161 2 367 1 764 2 3000"/>
<path stroke="#fee9e5" stroke-width="25.6" d="M1235.8 0V2717" stroke-dasharray="0 948 1 108 3 226 1 31 2 3000"/>
<path stroke="#fef3ff" stroke-width="25.6" d="M1235.8 0V2717" stroke-dasharray="0 485 1 85 2 100 1 19 1 2 1 53 1 32 2 24 1 11 1 6 3 10 1 27 1 211 1 48 1 54 1 10 2 3000"/>
<path stroke="#fa0709" stroke-width="25.6" d="M1261.4 0V2717" stroke-dasharray="0 1730 2 87 2 452 2 82 1 3000"/>
<path stroke="#fa3727" stroke-width="25.6" d="M1261.4 0V2717" stroke-dasharray="0 1647 2 73 1 3000"/>
<path stroke="#fb523f" stroke-width="25.6" d="M1261.4 0V2717" stroke-dasharray="0 1468 1 559 1 3000"/>
<path stroke="#fb6a56" stroke-width="25.6" d="M1261.4 0V2717" stroke-dasharray="0 1486 1 3000"/>
<path stroke="#fc816d" stroke-width="25.6" d="M1261.4 0V2717" stroke-dasharray="0 1675 2 622 1 146 1 3000"/>
<path stroke="#fc9684" stroke-width="25.6" d="M1261.4 0V2717" stroke-dasharray="0 1397 1 260 2 33 2 59 2 357 2 3000"/>
<path stroke="#fdab9c" stroke-width="25.6" d="M1261.4 0V2717" stroke-dasharray="0 1794 1 546 1 3000"/>
<path stroke="#fdc1b4" stroke-width="25.6" d="M1261.4 0V2717" stroke-dasharray="0 1609 1 697 2 3000"/>
<path stroke="#fed5cc" stroke-width="25.6" d="M1261.4 0V2717" stroke-dasharray="0 1718 1 3000"/>
<path stroke="#efe4fb" stroke-width="25.6" d="M1286.9 0V2717" stroke-dasharray="0 1585 1 64 3 24 2 41 3 68 2 12 3 25 3 3000"/>
<path stroke="#f6eefb" stroke-width="25.6" d="M1286.9 0V2717" stroke-dasharray="0 1291 3 21 2 2 3 265 2 59 2 113 1 3000"/>
<path stroke="#fa0709" stroke-width="25.6" d="M1286.9 0V2717" stroke-dasharray="0 545 1 576 2 144 3 21 2 26 2 285 2 2 1 34 2 87 4 32 2 2 2 32 2 221 1 531 3 16 2 1 1 3 2 3 2 3000"/>
<path stroke="#fa3727" stroke-width="25.6" d="M1286.9 0V2717" stroke-dasharray="0 590 2 76 1 311 1 206 2 88 3 10 2 35 1 28 2 76 2 78 1 43 2 20 2 12 2 66 2 23 2 17 2 7 1 8 1 4 3 7 1 8 1 29 1 7 1 15 1 397 2 361 3 11 2 3 2 3 2 8 4 10 4 1 3 3000"/>
<path stroke="#fb523f" stroke-width="25.6" d="M1286.9 0V2717" stroke-dasharray="0 1175 2 85 1 14 5 14 3 9 2 2 2 9 1 6 2 23 2 34 1 79 2 33 2 11 1 7 1 28 3 8 2 5 2 7 2 3 5 21 2 10 3 47 3 8 3 26 4 13 2 4 2 7 1 11 1 29 1 29 2 13 2 2 2 605 2 112 4 1 2 7 2 4 3 8 3 7 2 2 2 4 3 3000"/>
<path stroke="#fb6a56" stroke-width="25.6" d="M1286.9 0V2717" stroke-dasharray="0 314 1 572 1 142 1 233 1 11 2 4 2 4 2 12 2 10 1 32 3 5 2 37 1 4 2 68 1 2 1 27 2 5 2 50 1 8 2 2 1 21 3 5 3 43 2 11 3 10 3 17 2 4 2 2 1 37 1 18 1 1 3 22 2 18 2 754 2 1 2 10 1 4 3 2 3 3000"/>
<path stroke="#fbf3f6" stroke-width="25.6" d="M1286.9 0V2717" stroke-dasharray="0 1333 3 243 2 112 3 76 2 50 3 752 3 12 2 17 3 3000"/>
<path stroke="#fc816d" stroke-width="25.6" d="M1286.9 0V2717" stroke-dasharray="0 405 2 885 2 26 2 10 3 12 3 5 3 20 1 2 2 91 2 80 1 15 1 1 2 28 2 46 1 7 2 6 1 12 5 1 2 2 4 1 2 31 2 12 1 28 3 2 2 7 1 36 1 297 2 29 1 263 2 22 1 158 2 3000"/>
<path stroke="#fc9684" stroke-width="25.6" d="M1286.9 0V2717" stroke-dasharray="0 260 2 234 1 768 2 5 1 2 2 33 5 184 2 75 1 7 1 4 1 43 3 23 4 35 3 2 1 18 2 26 1 48 2 4 1 6 1 458 2 84 1 10 2 209 1 3000"/>
<path stroke="#fdab9c" stroke-width="25.6" d="M1286.9 0V2717" stroke-dasharray="0 860 1 410 3 13 1 11 2 1 2 8 1 167 2 84 2 38 3 9 3 4 2 6 2 22 2 51 2 3 2 14 2 8 1 10 2 46 2 17 2 2 2 2 2 66 1 39 1 62 1 7 2 105 2 238 1 48 1 176 2 26 2 3000"/>
<path stroke="#fdc1b4" stroke-width="25.6" d="M1286.9 0V2717" stroke-dasharray="0 750 1 567 2 390 3 58 1 63 2 213 2 80 1 261 2 214 2 3000"/>
<path stroke="#fed5cc" stroke-width="25.6" d="M1286.9 0V2717" stroke-dasharray="0 1339 3 1 1 86 2 91 2 245 1 62 1 252 2 326 2 144 2 10 2 3000"/>
<path stroke="#fee9e5" stroke-width="25.6" d="M1286.9 0V2717" stroke-dasharray="0 1788 2 814 3 3000"/>
<path stroke="#efe4fb" stroke-width="25.6" d="M1312.4 0V2717" stroke-dasharray="0 1567 2 28 1 38 5 123 3 46 2 3000"/>
<path stroke="#f6eefb" stroke-width="25.6" d="M1312.4 0V2717" stroke-dasharray="0 1638 2 110 3 1 1 3000"/>
<path stroke="#fa0709" stroke-width="25.6" d="M1312.4 0V2717" stroke-dasharray="0 330 1 467 1 40 2 716 3 24 2 10 2 13 2 32 2 62 1 5 1 7 3 7 2 40 2 53 1 3000"/>
<path stroke="#fa3727" stroke-width="25.6" d="M1312.4 0V2717" stroke-dasharray="0 274 2 417 1 590 2 40 2 56 2 22 1 163 4 1 2 9 2 3 2 9 3 24 1 2 2 12 1 2 2 15 2 9 2 31 2 5 2 31 2 6 5 14 1 2 2 13 4 7 2 12 2 6 2 505 2 3000"/>
<path stroke="#fb523f" stroke-width="25.6" d="M1312.4 0V2717" stroke-dasharray="0 1196 1 192 1 14 3 16 3 37 3 28 3 34 1 27 2 19 2 10 4 6 2 49 3 15 2 8 2 10 1 2 2 1 2 13 2 11 3 21 2 6 2 6 2 19 3 2 2 3 2 300 2 51 2 3000"/>
<path stroke="#fb6a56" stroke-width="25.6" d="M1312.4 0V2717" stroke-dasharray="0 849 1 569 1 79 1 22 2 67 1 3 1 5 2 13 2 6 1 7 3 4 2 19 2 2 2 24 3 15 2 5 3 36 3 19 2 3 2 5 2 19 4 5 2 6 2 9 2 3000"/>
<path stroke="#fbf3f6" stroke-width="25.6" d="M1312.4 0V2717" stroke-dasharray="0 1577 2 63 3 36 1 65 1 36 2 3000"/>
<path stroke="#fc816d" stroke-width="25.6" d="M1312.4 0V2717" stroke-dasharray="0 1402 3 43 3 45 2 70 2 2 2 12 1 1 5 4 2 12 4 8 3 6 3 4 1 5 2 8 2 2 2 7 2 22 3 7 1 18 3 13 1 3 2 3 2 4 2 4 1 5 1 15 1 1 1 8 1 10 2 3 1 16 3 701 2 3000"/>
<path stroke="#fc9684" stroke-width="25.6" d="M1312.4 0V2717" stroke-dasharray="0 476 2 692 2 237 3 41 4 24 1 74 1 2 2 5 1 9 2 8 4 2 5 16 3 4 2 8 1 12 2 21 4 5 6 10 4 7 2 52 2 9 3 2 2 3 3 13 2 6 1 4 2 2 1 10 1 3 1 3 3 262 2 3000"/>
<path stroke="#fdab9c" stroke-width="25.6" d="M1312.4 0V2717" stroke-dasharray="0 435 1 425 2 542 2 21 1 6 1 25 1 107 2 2 2 14 2 32 2 6 2 22 2 60 2 2 3 1 2 4 2 10 3 58 1 17 2 13 2 355 2 3000"/>
<path stroke="#fdc1b4" stroke-width="25.6" d="M1312.4 0V2717" stroke-dasharray="0 1096 1 185 2 15 2 15 1 33 1 75 2 18 3 9 2 118 2 8 1 35 2 52 1 62 3 65 3 268 1 1 2 3000"/>
<path stroke="#fed5cc" stroke-width="25.6" d="M1312.4 0V2717" stroke-dasharray="0 1327 2 153 2 17 3 58 2 66 2 54 2 6 3 1 1 3000"/>
<path stroke="#fa0709" stroke-width="25.6" d="M1337.9 0V2717" stroke-dasharray="0 583 1 982 1 16 2 32 3 87 2 64 1 78 2 3000"/>
<path stroke="#fa3727" stroke-width="25.6" d="M1337.9 0V2717" stroke-dasharray="0 1104 2 19 2 43 1 395 2 5 1 13 3 3 3 36 2 7 2 18 1 35 1 23 2 8 1 75 2 23 2 772 1 3000"/>
<path stroke="#fb523f" stroke-width="25.6" d="M1337.9 0V2717" stroke-dasharray="0 967 2 434 1 162 8 124 1 6 2 56 2 32 1 9 1 150 2 42 1 441 2 3000"/>
<path stroke="#fb6a56" stroke-width="25.6" d="M1337.9 0V2717" stroke-dasharray="0 1585 2 57 2 33 4 28 2 9 1 6 2 19 2 54 2 178 1 104 1 515 2 3000"/>
<path stroke="#fc816d" stroke-width="25.6" d="M1337.9 0V2717" stroke-dasharray="0 490 2 653 2 97 2 346 3 11 2 16 2 16 1 42 2 44 2 6 2 51 1 67 1 757 1 3000"/>
<path stroke="#fc9684" stroke-width="25.6" d="M1337.9 0V2717" stroke-dasharray="0 674 2 265 2 306 2 234 1 78 2 8 3 5 2 20 3 17 2 25 1 3 3 53 2 2 3 2 2 55 3 34 2 6 2 5 2 3000"/>
<path stroke="#fdab9c" stroke-width="25.6" d="M1337.9 0V2717" stroke-dasharray="0 652 2 955 2 28 4 109 1 146 1 51 1 351 1 287 2 3000"/>
<path stroke="#fdc1b4" stroke-width="25.6" d="M1337.9 0V2717" stroke-dasharray="0 779 2 8 1 408 1 3000"/>
<path stroke="#fed5cc" stroke-width="25.6" d="M1337.9 0V2717" stroke-dasharray="0 1992 1 60 2 3000"/>
<path stroke="#fa0709" stroke-width="25.6" d="M1363.5 0V2717" stroke-dasharray="0 1490 2 94 2 22 3 19 1 14 1 19 2 79 1 2 3 46 2 17 3 13 1 323 2 59 1 358 1 3000"/>
<path stroke="#fa3727" stroke-width="25.6" d="M1363.5 0V2717" stroke-dasharray="0 1450 1 75 2 27 1 25 1 1 1 12 3 59 3 17 3 31 3 1 3 16 2 10 2 14 5 49 3 19 2 362 1 3000"/>
<path stroke="#fb523f" stroke-width="25.6" d="M1363.5 0V2717" stroke-dasharray="0 1528 2 23 2 22 3 10 1 15 1 9 1 15 2 20 1 9 2 12 3 20 2 46 2 30 5 8 3 1 1 7 2 1 2 11 3 1 1 3000"/>
<path stroke="#fb6a56" stroke-width="25.6" d="M1363.5 0V2717" stroke-dasharray="0 1560 1 21 2 10 2 4 4 14 2 24 2 62 2 86 2 210 1 589 2 12 2 3000"/>
<path stroke="#fc816d" stroke-width="25.6" d="M1363.5 0V2717" stroke-dasharray="0 842 2 80 1 189 1 20 2 300 1 17 1 108 2 56 3 7 2 2 2 25 1 6 1 6 2 41 2 14 2 13 2 63 2 8 2 125 2 3000"/>
<path stroke="#fc9684" stroke-width="25.6" d="M1363.5 0V2717" stroke-dasharray="0 1369 2 189 3 1 2 7 3 2 2 1 2 3 3 5 2 53 3 9 1 37 3 26 2 24 1 64 1 11 2 454 1 105 1 206 1 3000"/>
<path stroke="#fdab9c" stroke-width="25.6" d="M1363.5 0V2717" stroke-dasharray="0 543 2 70 2 874 2 14 4 88 2 27 1 37 3 74 3 74 3 3000"/>
<path stroke="#fdc1b4" stroke-width="25.6" d="M1363.5 0V2717" stroke-dasharray="0 454 2 17 2 198 1 383 1 981 2 3000"/>
<path stroke="#fed5cc" stroke-width="25.6" d="M1363.5 0V2717" stroke-dasharray="0 886 1 35 2 505 2 2 1 83 1 3000"/>
<path stroke="#e9dbff" stroke-width="25.6" d="M1389.0 0V2717" stroke-dasharray="0 1416 1 38 2 8 2 9 3 29 1 26 2 380 1 94 1 6 1 2 2 4 2 16 2 3 1 32 2 1 2 2 2 45 1 154 1 68 1 38 2 20 1 3000"/>
<path stroke="#efe1ff" stroke-width="25.6" d="M1389.0 0V2717" stroke-dasharray="0 1370 3 45 1 18 1 11 2 79 2 4 2 311 1 24 2 19 1 31 2 25 2 2 1 84 2 19 2 24 2 36 2 10 1 7 1 8 1 14 1 13 1 41 1 37 1 1 1 57 1 38 2 19 2 24 2 9 2 5 1 1 1 17 2 3000"/>
<path stroke="#efe4fb" stroke-width="25.6" d="M1389.0 0V2717" stroke-dasharray="0 507 1 9 2 10 3 81 1 71 3 3 3 47 1 10 1 30 3 21 2 64 3 7 3 459 1 280 1 9 1 8 2 84 3 3000"/>
<path stroke="#f2e7ff" stroke-width="25.6" d="M1389.0 0V2717" stroke-dasharray="0 244 2 54 2 2 2 40 1 42 2 507 2 36 1 27 2 18 4 46 2 20 1 44 1 4 2 4 1 2 1 2 1 29 1 1351 2 18 1 70 2 2 1 39 2 3000"/>
<path stroke="#f5e7ff" stroke-width="25.6" d="M1389.0 0V2717" stroke-dasharray="0 1401 2 25 1 9 2 34 2 47 1 2 1 331 2 3 1 5 1 36 2 36 2 78 1 42 1 6 1 2 1 15 1 4 1 38 2 42 2 41 1 6 1 12 1 1 1 1 1 41 2 9 1 9 1 4 1 21 1 10 1 15 2 15 1 17 1 3000"/>
<path stroke="#f6eefb" stroke-width="25.6" d="M1389.0 0V2717" stroke-dasharray="0 476 1 185 2 126 1 53 2 13 2 441 2 23 1 251 3 9 3 61 1 3000"/>
<path stroke="#f8edff" stroke-width="25.6" d="M1389.0 0V2717" stroke-dasharray="0 281 1 30 1 4 2 24 1 5 1 12 1 45 1 13 2 489 1 64 2 42 2 40 1 74 1 6 1 12 1 17 1 30 1 42 1 1244 2 7 1 4 2 23 1 28 2 5 1 10 2 21 2 3000"/>
<path stroke="#fa0709" stroke-width="25.6" d="M1389.0 0V2717" stroke-dasharray="0 545 3 1 2 37 2 50 2 46 3 7 2 6 2 41 1 41 3 39 3 14 2 435 2 130 1 12 2 218 1 169 2 3000"/>
<path stroke="#fa3727" stroke-width="25.6" d="M1389.0 0V2717" stroke-dasharray="0 449 2 10 2 10 2 12 1 2 1 5 3 20 2 20 3 15 3 2 1 1 2 13 3 4 5 9 2 6 3 13 1 25 2 5 2 17 2 3 3 5 3 5 3 4 3 7 3 5 3 14 3 43 2 14 2 8 2 2 2 21 1 2 2 1 2 4 2 107 2 16 3 44 1 262 3 51 2 46 2 23 1 163 2 3 2 14 1 34 2 11 2 29 3 51 2 9 2 18 1 24 4 12 3 7 3 15 1 3000"/>
<path stroke="#fb523f" stroke-width="25.6" d="M1389.0 0V2717" stroke-dasharray="0 448 2 32 1 1 4 10 3 8 4 5 1 31 2 8 3 2 2 1 3 9 3 7 2 3 2 4 3 9 3 21 2 4 3 37 3 2 1 74 4 7 2 9 2 6 2 17 2 15 3 12 3 6 1 26 3 30 2 26 1 330 1 9 3 16 1 5 4 5 2 11 2 19 2 99 2 122 1 6 2 8 3 5 2 23 6 11 5 12 2 4 1 1 2 23 3 8 5 13 2 3 4 4 3 9 2 29 4 28 2 2 3 22 1 3000"/>
<path stroke="#fb6a56" stroke-width="25.6" d="M1389.0 0V2717" stroke-dasharray="0 477 2 9 3 30 2 8 3 20 2 28 2 21 3 9 3 7 1 3 1 5 3 4 1 1 5 7 2 4 2 1 1 20 2 2 2 14 2 27 4 3 1 8 2 4 2 18 3 4 2 1 3 1 2 39 4 21 1 13 2 91 2 91 2 223 3 12 2 17 3 3 1 82 2 77 1 120 3 40 3 55 1 3 3 5 4 33 1 12 2 62 1 3000"/>
<path stroke="#fbf3f6" stroke-width="25.6" d="M1389.0 0V2717" stroke-dasharray="0 537 2 6 3 132 3 63 2 512 2 50 3 281 1 42 3 89 2 12 2 15 2 43 3 17 3 3000"/>
<path stroke="#fc816d" stroke-width="25.6" d="M1389.0 0V2717" stroke-dasharray="0 455 1 25 3 2 1 20 2 4 2 2 3 1 2 4 4 10 1 21 1 17 2 20 1 6 3 24 1 17 4 4 2 15 1 4 2 1 2 5 2 4 2 17 3 26 2 42 2 5 2 4 3 13 2 10 2 12 2 24 1 1 2 7 1 2 2 85 2 296 3 4 1 8 3 1 2 52 3 1 1 126 1 88 3 24 2 29 3 34 1 27 2 11 1 23 2 16 2 3 3 6 1 11 3 45 2 3000"/>
<path stroke="#fc9684" stroke-width="25.6" d="M1389.0 0V2717" stroke-dasharray="0 460 2 24 3 4 1 4 2 24 2 2 1 5 3 19 1 9 1 12 3 8 1 2 3 2 2 46 5 27 3 4 2 3 2 9 1 27 2 4 6 51 3 18 3 2 3 15 2 2 3 13 3 14 3 7 3 64 1 46 2 1 1 24 1 252 3 39 1 24 2 3 1 5 3 73 2 55 2 122 3 11 3 1 2 30 1 51 2 31 2 7 2 27 2 7 1 17 2 3000"/>
<path stroke="#fdab9c" stroke-width="25.6" d="M1389.0 0V2717" stroke-dasharray="0 484 3 7 3 18 3 22 2 14 1 10 2 14 2 20 3 11 2 37 2 1 3 6 3 11 2 17 2 18 2 7 3 22 2 2 2 10 2 34 1 44 1 121 1 64 2 267 1 3 2 15 2 122 1 112 1 88 2 22 2 2 2 36 3 41 3 4 2 43 2 16 3 3000"/>
<path stroke="#fdc1b4" stroke-width="25.6" d="M1389.0 0V2717" stroke-dasharray="0 487 2 21 1 6 2 8 1 69 2 28 2 13 1 19 2 17 3 12 2 5 2 21 2 69 2 3 2 28 2 106 1 49 2 326 1 38 2 92 1 204 3 68 2 69 2 3000"/>
<path stroke="#fed5cc" stroke-width="25.6" d="M1389.0 0V2717" stroke-dasharray="0 493 2 43 1 70 1 44 1 19 2 28 2 12 2 119 2 38 2 6 2 60 1 97 2 246 2 393 2 75 2 23 3 5 1 1 3 70 1 3000"/>
<path stroke="#fee9e5" stroke-width="25.6" d="M1389.0 0V2717" stroke-dasharray="0 563 2 49 2 70 2 39 2 873 3 3000"/>
<path stroke="#fef3ff" stroke-width="25.6" d="M1389.0 0V2717" stroke-dasharray="0 236 2 21 1 30 1 21 1 17 2 47 1 18 2 570 1 22 1 27 1 23 1 7 2 43 1 1 2 26 2 23 1 47 1 46 1 1233 1 19 2 140 1 3000"/>
<path stroke="#fa0709" stroke-width="25.6" d="M1414.5 0V2717" stroke-dasharray="0 853 2 55 1 11 1 166 1 344 2 84 2 21 1 9 3 28 1 1 1 27 2 32 3 6 1 15 3 14 2 2 2 36 1 36 3 32 1 414 2 3000"/>
<path stroke="#fa3727" stroke-width="25.6" d="M1414.5 0V2717" stroke-dasharray="0 513 2 35 1 233 2 25 2 632 2 70 2 45 3 13 2 57 2 4 1 6 3 21 2 1 2 5 2 15 2 24 3 35 2 14 4 37 2 10 1 480 1 125 2 113 3 3000"/>
<path stroke="#fb523f" stroke-width="25.6" d="M1414.5 0V2717" stroke-dasharray="0 460 3 168 2 199 1 176 1 396 1 6 1 138 2 28 2 23 2 4 1 8 3 10 2 10 2 44 2 30 1 28 2 30 2 1 2 1 4 40 2 292 2 111 1 22 2 351 1 3000"/>
<path stroke="#fb6a56" stroke-width="25.6" d="M1414.5 0V2717" stroke-dasharray="0 297 2 158 2 50 2 39 1 96 1 236 1 217 1 508 1 5 1 21 2 2 2 3 2 7 1 28 3 2 3 64 2 1 1 10 3 33 2 4 2 219 1 56 1 401 2 65 1 29 2 3000"/>
<path stroke="#fc816d" stroke-width="25.6" d="M1414.5 0V2717" stroke-dasharray="0 279 1 202 1 131 2 841 2 34 1 69 2 26 3 21 2 20 1 2 3 105 1 11 3 41 2 25 4 136 1 399 2 146 2 8 1 48 1 3000"/>
<path stroke="#fc9684" stroke-width="25.6" d="M1414.5 0V2717" stroke-dasharray="0 431 1 130 2 75 2 26 1 110 1 51 2 2 1 19 1 587 1 3 2 5 1 115 3 10 1 30 3 15 1 27 1 20 3 5 1 19 3 40 1 3 2 47 2 3 1 13 1 10 3 242 1 134 2 360 2 3000"/>
<path stroke="#fdab9c" stroke-width="25.6" d="M1414.5 0V2717" stroke-dasharray="0 474 2 13 1 104 1 41 2 161 2 59 1 22 2 403 2 208 2 34 2 80 1 3 2 34 1 8 2 123 1 27 2 80 1 150 2 72 2 89 2 5 1 44 1 259 2 65 3 3000"/>
<path stroke="#fdc1b4" stroke-width="25.6" d="M1414.5 0V2717" stroke-dasharray="0 542 2 97 1 237 2 602 2 13 1 426 2 336 1 92 1 125 2 106 1 7 2 3000"/>
<path stroke="#fed5cc" stroke-width="25.6" d="M1414.5 0V2717" stroke-dasharray="0 460 2 1057 1 4 4 688 2 251 1 132 2 3000"/>
<path stroke="#fa0709" stroke-width="25.6" d="M1440.1 0V2717" stroke-dasharray="0 878 1 537 2 16 2 278 1 2 2 49 2 9 4 26 3 15 1 5 2 159 1 3000"/>
<path stroke="#fa3727" stroke-width="25.6" d="M1440.1 0V2717" stroke-dasharray="0 727 1 56 1 742 2 38 6 47 2 2 2 6 3 31 2 28 5 73 1 16 2 13 2 19 2 477 1 3000"/>
<path stroke="#fb523f" stroke-width="25.6" d="M1440.1 0V2717" stroke-dasharray="0 606 2 201 2 593 1 28 1 38 1 34 2 48 1 7 3 14 2 1 3 1 3 9 2 18 3 22 1 16 1 44 2 46 4 15 3 3 3 7 3 12 2 6 2 5 3 11 1 753 1 3000"/>
<path stroke="#fb6a56" stroke-width="25.6" d="M1440.1 0V2717" stroke-dasharray="0 609 2 111 2 15 2 877 1 6 1 3 3 13 4 20 3 4 1 29 1 3 2 21 3 49 1 7 2 29 3 433 2 3000"/>
<path stroke="#fc816d" stroke-width="25.6" d="M1440.1 0V2717" stroke-dasharray="0 515 2 119 2 17 2 61 2 37 2 43 1 669 1 82 1 30 3 22 2 25 3 16 2 22 2 44 4 49 1 6 2 12 1 6 1 19 2 169 1 3000"/>
<path stroke="#fc9684" stroke-width="25.6" d="M1440.1 0V2717" stroke-dasharray="0 457 1 36 1 53 1 29 1 109 2 121 1 13 2 682 1 98 2 44 3 3 1 25 2 7 2 16 2 14 2 17 3 43 2 3000"/>
<path stroke="#fdab9c" stroke-width="25.6" d="M1440.1 0V2717" stroke-dasharray="0 487 1 208 1 27 2 22 2 2 2 507 1 338 1 58 2 3 3 69 2 36 1 25 2 4 3 295 2 163 2 259 1 3000"/>
<path stroke="#fdc1b4" stroke-width="25.6" d="M1440.1 0V2717" stroke-dasharray="0 489 1 141 2 150 2 17 1 494 1 118 1 29 1 3000"/>
<path stroke="#fed5cc" stroke-width="25.6" d="M1440.1 0V2717" stroke-dasharray="0 452 1 383 1 651 1 580 1 3000"/>
<path stroke="#decbff" stroke-width="25.6" d="M1465.6 0V2717" stroke-dasharray="0 252 2 4 2 9 1 7 1 14 1 2 2 22 1 8 2 4 1 10 1 26 1 8 1 23 1 9 2 679 2 41 2 13 2 79 1 13 1 139 2 4 2 46 2 28 1 1 1 49 2 10 1 317 1 10 1 8 2 35 1 14 2 20 2 3 1 25 1 33 1 9 2 17 2 8 1 58 1 29 2 21 1 29 2 16 2 25 3 9 1 59 2 33 1 57 1 3 1 18 1 8 1 18 1 34 1 15 1 16 1 120 1 6 1 3000"/>
<path stroke="#e6d3ff" stroke-width="25.6" d="M1465.6 0V2717" stroke-dasharray="0 294 1 6 1 4 1 13 2 36 2 26 1 22 1 5 2 2 2 6 1 653 1 2 2 2 1 6 2 14 2 1 1 24 2 13 1 2 1 7 1 1 1 11 1 28 1 36 2 122 2 22 1 17 2 4 1 5 2 429 1 13 1 2 1 13 1 43 1 49 1 6 1 75 2 29 2 5 2 25 2 4 1 5 1 10 1 6 2 1 2 61 2 2 1 25 2 20 1 9 1 6 1 11 1 10 1 4 1 2 2 23 2 16 2 1 1 10 1 17 1 13 1 47 1 57 1 7 3 10 3 91 1 3000"/>
<path stroke="#e9dbff" stroke-width="25.6" d="M1465.6 0V2717" stroke-dasharray="0 2562 2 3000"/>
<path stroke="#efe4fb" stroke-width="25.6" d="M1465.6 0V2717" stroke-dasharray="0 492 2 48 3 85 1 62 1 153 3 2 1 26 1 110 2 35 1 245 2 12 1 18 2 267 1 42 2 9 3 82 2 7 1 3000"/>
<path stroke="#f0ddff" stroke-width="25.6" d="M1465.6 0V2717" stroke-dasharray="0 270 1 2 1 70 1 58 2 9 1 11 2 1 1 673 1 8 3 15 1 41 2 4 1 41 1 27 1 126 2 19 1 2 3 28 1 2 2 3 2 6 1 17 1 4 1 8 1 30 1 19 1 5 2 313 1 8 1 46 1 24 2 7 2 42 1 1 2 24 1 12 2 26 2 51 2 1 2 1 2 15 2 2 2 15 2 35 2 5 1 20 2 28 1 7 1 14 1 2 1 22 1 31 1 9 1 19 3 20 2 11 1 7 1 68 1 23 1 20 1 24 1 92 2 3000"/>
<path stroke="#f5e7ff" stroke-width="25.6" d="M1465.6 0V2717" stroke-dasharray="0 2559 2 16 1 14 1 21 2 3 1 3000"/>
<path stroke="#f6eefb" stroke-width="25.6" d="M1465.6 0V2717" stroke-dasharray="0 531 2 4 3 80 2 15 1 12 1 93 1 19 3 118 1 1 2 32 2 29 2 55 2 254 1 418 1 67 3 8 2 3 1 3000"/>
<path stroke="#fa0709" stroke-width="25.6" d="M1465.6 0V2717" stroke-dasharray="0 514 3 21 2 15 1 1 2 24 2 12 2 39 2 65 2 20 2 77 4 74 1 66 3 49 2 1 1 15 1 28 1 212 3 5 2 22 4 56 2 251 1 11 2 53 3 791 1 3000"/>
<path stroke="#fa3727" stroke-width="25.6" d="M1465.6 0V2717" stroke-dasharray="0 512 2 14 3 24 2 10 2 13 2 22 2 35 1 9 2 16 3 23 3 1 3 22 3 11 2 23 3 3 2 6 1 34 3 9 1 7 1 47 2 18 2 6 1 11 2 66 2 12 4 7 2 101 2 155 2 11 3 2 5 20 7 14 2 5 2 2 2 165 1 39 1 18 3 3 5 6 1 39 1 2 2 18 3 14 5 2 1 19 1 43 2 18 1 44 3 1 3 2 3 2 2 12 3 177 1 52 2 90 1 153 2 282 1 3000"/>
<path stroke="#fb523f" stroke-width="25.6" d="M1465.6 0V2717" stroke-dasharray="0 476 2 14 1 2 2 2 3 14 1 5 2 5 3 2 2 9 2 14 2 18 1 35 3 13 1 1 2 59 1 3 1 22 4 22 1 60 2 20 2 16 3 1 2 26 1 15 4 8 1 11 2 5 1 30 3 25 2 7 2 19 2 10 2 6 1 6 1 6 2 217 1 13 2 4 2 7 2 13 2 3 5 2 3 12 2 5 1 274 3 12 1 25 2 5 1 9 3 25 2 11 6 10 5 16 1 10 2 26 2 32 3 3000"/>
<path stroke="#fb6a56" stroke-width="25.6" d="M1465.6 0V2717" stroke-dasharray="0 446 1 60 1 11 1 26 5 8 2 16 1 8 1 4 3 27 1 6 3 18 2 1 3 27 6 3 4 2 3 9 2 2 2 11 2 5 2 20 1 13 3 25 1 9 5 3 3 3 1 18 2 6 1 37 2 27 1 5 2 10 2 18 2 13 3 23 1 6 1 24 2 7 2 5 3 81 2 137 2 16 2 1 1 7 2 6 4 6 3 1 2 5 2 29 3 1 3 86 2 20 1 123 2 30 3 13 5 3 2 4 3 44 3 12 1 12 2 25 2 3 3 5 3 21 2 35 1 274 2 196 2 311 1 3000"/>
<path stroke="#fbf3f6" stroke-width="25.6" d="M1465.6 0V2717" stroke-dasharray="0 535 1 29 1 139 1 36 1 91 3 93 2 84 1 30 3 255 1 307 2 194 2 11 2 5 3 4 2 3000"/>
<path stroke="#fc816d" stroke-width="25.6" d="M1465.6 0V2717" stroke-dasharray="0 472 3 3 3 35 2 30 2 30 1 12 2 7 3 12 3 43 1 14 4 3 4 8 2 11 2 41 2 5 2 24 2 10 2 33 3 10 2 14 4 73 2 45 1 13 1 43 3 2 1 166 1 86 3 7 2 258 2 17 2 6 2 25 2 16 3 12 2 10 2 14 2 5 2 4 1 19 2 20 2 31 1 22 3 3 2 566 2 216 2 3000"/>
<path stroke="#fc9684" stroke-width="25.6" d="M1465.6 0V2717" stroke-dasharray="0 509 1 1 1 2 3 4 2 29 1 17 3 7 3 3 1 7 3 25 2 1 1 12 3 10 2 11 2 20 3 2 3 5 3 18 5 11 2 4 3 43 2 41 3 8 1 2 2 1 2 1 2 7 2 93 2 40 2 7 1 15 2 16 3 1 2 6 3 5 2 245 2 11 2 3 1 238 4 47 3 6 2 33 2 12 4 6 2 4 1 4 1 1 1 6 1 8 2 12 3 7 2 2 2 6 2 1 2 20 1 2 2 1 2 18 5 28 2 2 2 586 2 3000"/>
<path stroke="#fdab9c" stroke-width="25.6" d="M1465.6 0V2717" stroke-dasharray="0 482 1 28 1 39 2 14 3 186 3 6 1 5 3 43 2 6 1 30 1 12 2 15 2 17 4 66 2 8 2 11 1 31 1 4 2 195 2 46 2 13 2 48 2 14 1 35 2 143 2 21 2 61 3 56 2 14 2 10 2 50 1 14 2 26 2 17 3 747 1 3000"/>
<path stroke="#fdc1b4" stroke-width="25.6" d="M1465.6 0V2717" stroke-dasharray="0 505 3 127 3 7 1 137 2 141 3 19 2 8 2 15 3 148 2 109 2 21 2 161 1 96 1 34 3 128 2 4 2 24 2 82 2 7 3 93 2 3000"/>
<path stroke="#fed5cc" stroke-width="25.6" d="M1465.6 0V2717" stroke-dasharray="0 584 2 45 2 72 2 29 3 131 2 55 2 58 3 30 2 63 1 40 2 159 2 25 1 10 1 7 1 26 2 331 3 3000"/>
<path stroke="#fee9e5" stroke-width="25.6" d="M1465.6 0V2717" stroke-dasharray="0 726 2 56 3 171 1 341 3 37 1 3000"/>
<path stroke="#fef3ff" stroke-width="25.6" d="M1465.6 0V2717" stroke-dasharray="0 453 1 3000"/>
<path stroke="#efe4fb" stroke-width="25.6" d="M1491.1 0V2717" stroke-dasharray="0 1683 1 14 1 8 2 76 3 40 2 734 3 4 1 3000"/>
<path stroke="#f2e7ff" stroke-width="25.6" d="M1491.1 0V2717" stroke-dasharray="0 247 4 36 1 3 1 20 2 35 1 3 1 150 2 59 1 10 1 55 1 22 2 6 1 26 1 1 2 47 1 5 1 13 1 9 1 79 1 4 2 13 1 38 2 3 1 85 1 82 1 30 4 44 1 23 2 17 1 93 1 1 1 29 2 51 1 131 1 5 1 328 1 52 1 39 1 573 1 11 2 10 2 84 1 3000"/>
<path stroke="#f6eefb" stroke-width="25.6" d="M1491.1 0V2717" stroke-dasharray="0 1582 3 16 3 113 1 73 3 3 3 21 3 773 3 3000"/>
<path stroke="#f8edff" stroke-width="25.6" d="M1491.1 0V2717" stroke-dasharray="0 291 1 29 1 34 2 10 1 18 1 31 1 14 2 35 2 55 2 27 1 9 1 32 1 42 2 10 1 13 1 37 1 2 1 34 1 10 1 28 1 19 1 65 1 48 1 22 1 6 1 62 2 3 1 10 1 2 1 16 1 36 2 3 2 78 3 23 2 2 1 9 2 3 1 97 1 27 1 18 1 7 1 26 2 15 2 20 1 5 2 40 1 1 2 386 3 4 1 49 1 10 1 531 2 3000"/>
<path stroke="#fa0709" stroke-width="25.6" d="M1491.1 0V2717" stroke-dasharray="0 238 1 153 1 988 1 49 1 21 1 99 2 22 2 6 1 15 3 25 1 31 2 55 1 4 2 18 3 17 3 36 3 31 3 194 2 49 3 146 3 13 2 159 2 3000"/>
<path stroke="#fa3727" stroke-width="25.6" d="M1491.1 0V2717" stroke-dasharray="0 261 2 79 1 80 2 2 1 1129 3 3 1 4 1 6 2 25 3 22 2 14 3 7 2 6 3 4 2 47 2 1 1 5 1 8 1 10 2 1 3 2 1 26 2 19 2 32 2 252 3 2 3 40 1 224 2 242 3 3000"/>
<path stroke="#fb523f" stroke-width="25.6" d="M1491.1 0V2717" stroke-dasharray="0 280 1 107 1 62 1 1048 2 91 1 10 7 6 2 7 3 26 2 10 1 39 2 1 2 3 1 28 1 2 2 27 3 5 1 17 3 27 3 138 3 43 3 13 2 8 1 61 3 1 3 116 1 72 1 13 2 4 3 3 2 6 2 2 1 74 1 27 3 121 2 7 2 6 1 2 3 10 2 3000"/>
<path stroke="#fb6a56" stroke-width="25.6" d="M1491.1 0V2717" stroke-dasharray="0 251 2 88 1 1032 2 13 2 17 2 5 2 147 2 3 1 37 2 10 2 59 10 2 2 1 3 10 2 12 1 67 2 27 3 17 1 135 2 15 2 53 2 47 2 4 3 65 2 79 3 92 3 17 2 19 3 200 3 16 2 5 3 3000"/>
<path stroke="#fbf3f6" stroke-width="25.6" d="M1491.1 0V2717" stroke-dasharray="0 1557 1 165 2 3000"/>
<path stroke="#fc816d" stroke-width="25.6" d="M1491.1 0V2717" stroke-dasharray="0 304 1 12 2 6 1 1117 1 59 2 26 2 93 3 40 1 33 2 3 3 8 3 22 2 25 2 13 3 8 2 9 1 4 1 6 1 1 2 164 3 60 2 24 2 92 2 33 2 15 2 6 2 39 3 15 2 103 2 31 3 156 1 4 1 3000"/>
<path stroke="#fc9684" stroke-width="25.6" d="M1491.1 0V2717" stroke-dasharray="0 294 2 47 2 1098 2 5 2 10 1 99 1 6 2 48 3 1 3 18 1 14 1 1 2 5 2 5 3 7 2 3 2 68 3 47 2 9 2 159 3 38 3 82 1 16 3 57 2 11 2 72 3 43 1 16 2 237 1 12 3 11 3 3000"/>
<path stroke="#fdab9c" stroke-width="25.6" d="M1491.1 0V2717" stroke-dasharray="0 244 2 18 2 65 1 4 2 14 1 17 2 12 1 1113 2 25 1 66 2 4 1 15 3 29 3 24 3 14 1 13 2 71 2 29 2 246 3 20 3 84 3 6 1 47 1 1 2 48 1 39 2 152 2 93 3 33 2 3 1 10 1 3000"/>
<path stroke="#fdc1b4" stroke-width="25.6" d="M1491.1 0V2717" stroke-dasharray="0 423 2 1015 1 160 1 128 2 4 2 276 4 4 3 72 1 163 2 27 3 40 2 17 2 49 3 5 2 152 3 27 2 3000"/>
<path stroke="#fed5cc" stroke-width="25.6" d="M1491.1 0V2717" stroke-dasharray="0 1491 2 18 2 54 1 66 2 15 3 115 2 49 2 14 2 142 2 22 2 52 2 72 3 53 1 106 2 275 1 10 2 3000"/>
<path stroke="#fef3ff" stroke-width="25.6" d="M1491.1 0V2717" stroke-dasharray="0 242 1 32 2 40 1 2 1 22 2 36 1 92 1 23 1 18 1 22 2 117 1 44 2 52 1 53 2 15 1 2 2 48 1 30 1 19 1 21 2 25 2 37 2 67 1 18 2 18 2 21 1 112 1 7 1 17 1 23 2 88 1 9 2 12 2 11 1 32 1 13 1 43 2 326 2 4 2 611 1 50 1 12 2 95 2 3000"/>
<path stroke="#e9dbff" stroke-width="25.6" d="M1516.6 0V2717" stroke-dasharray="0 275 1 16 2 29 1 29 2 41 1 1 2 21 3 979 1 54 2 1 1 14 2 12 2 24 1 7 1 323 2 32 2 11 1 10 2 13 2 4 1 75 2 34 1 46 1 40 2 1 1 22 2 44 1 12 2 100 1 3 2 10 1 57 3 4 2 4 2 9 1 3000"/>
<path stroke="#efe1ff" stroke-width="25.6" d="M1516.6 0V2717" stroke-dasharray="0 239 2 51 1 8 1 2 1 26 2 1 2 2 1 2 2 66 1 23 1 938 2 3 2 26 2 8 2 3 1 10 1 27 1 28 1 7 1 39 2 310 2 19 1 16 2 62 1 36 1 5 3 19 1 5 2 33 1 26 1 61 1 19 2 9 2 9 2 39 1 1 2 37 2 20 2 8 1 52 1 23 2 35 2 6 2 1 2 18 1 3000"/>
<path stroke="#efe4fb" stroke-width="25.6" d="M1516.6 0V2717" stroke-dasharray="0 1010 1 5 3 42 1 240 1 40 3 260 2 28 3 38 2 19 3 65 1 3000"/>
<path stroke="#f2e7ff" stroke-width="25.6" d="M1516.6 0V2717" stroke-dasharray="0 484 1 36 2 52 1 38 2 66 1 1 1 28 1 20 2 18 1 45 2 12 2 11 1 257 2 66 1 6 1 13 2 1312 2 8 1 68 2 18 1 13 1 31 2 3000"/>
<path stroke="#f5e7ff" stroke-width="25.6" d="M1516.6 0V2717" stroke-dasharray="0 238 1 74 1 43 1 5 1 63 2 966 2 5 1 110 1 381 2 1 1 81 2 15 2 69 2 30 1 22 1 69 1 12 1 4 2 24 1 8 1 14 1 27 1 5 2 119 2 37 2 3000"/>
<path stroke="#f6eefb" stroke-width="25.6" d="M1516.6 0V2717" stroke-dasharray="0 938 1 88 3 273 1 250 1 37 2 2 1 91 3 85 2 3000"/>
<path stroke="#f8edff" stroke-width="25.6" d="M1516.6 0V2717" stroke-dasharray="0 533 2 2 1 12 1 43 2 20 1 20 2 70 1 11 2 19 2 4 1 3 1 40 1 38 1 22 1 26 1 195 2 32 1 22 1 22 1 47 2 33 2 1270 1 8 1 1 1 3000"/>
<path stroke="#fa0709" stroke-width="25.6" d="M1516.6 0V2717" stroke-dasharray="0 606 1 177 1 241 2 27 3 19 1 571 2 45 3 5 3 5 3 22 1 2 1 1 2 45 3 34 2 791 1 3000"/>
<path stroke="#fa3727" stroke-width="25.6" d="M1516.6 0V2717" stroke-dasharray="0 481 2 433 1 2 1 11 3 2 2 31 3 8 3 8 2 4 1 12 2 1 2 25 2 18 2 86 1 170 1 5 3 235 1 13 3 12 1 8 2 32 3 4 3 5 3 20 1 10 4 20 2 2 4 5 3 25 2 6 1 13 4 4 3 18 3 10 3 22 2 683 1 7 3 2 2 3000"/>
<path stroke="#fb523f" stroke-width="25.6" d="M1516.6 0V2717" stroke-dasharray="0 454 1 88 1 47 2 230 2 25 3 64 2 10 2 15 3 6 1 13 2 8 2 15 1 60 1 123 1 7 1 73 1 21 1 4 2 7 1 7 1 9 3 102 2 128 1 3 2 30 3 1 2 5 2 12 2 9 3 13 1 9 4 14 3 3 4 24 2 10 7 5 1 3 3 15 3 13 1 2 1 14 2 9 2 28 1 10 2 1 1 640 1 3000"/>
<path stroke="#fb6a56" stroke-width="25.6" d="M1516.6 0V2717" stroke-dasharray="0 520 1 98 1 100 2 208 4 16 2 25 4 17 3 21 2 11 3 83 2 185 1 1 3 17 3 62 1 39 2 81 1 38 4 3 2 6 1 8 2 5 2 1 1 5 3 5 1 5 2 9 2 2 3 8 3 14 2 18 2 11 1 9 2 12 2 9 4 13 3 2 1 15 2 30 2 2 1 5 3 14 3 2 3 8 1 4 1 635 2 32 2 4 2 10 2 3000"/>
<path stroke="#fbf3f6" stroke-width="25.6" d="M1516.6 0V2717" stroke-dasharray="0 928 2 98 3 2 2 295 3 9 1 300 3 35 1 8 1 45 2 3000"/>
<path stroke="#fc816d" stroke-width="25.6" d="M1516.6 0V2717" stroke-dasharray="0 515 2 9 2 20 1 67 1 91 1 215 3 17 1 63 1 36 1 2 2 1 3 131 1 24 1 74 3 11 1 2 2 71 2 7 1 50 2 1 2 103 2 11 1 4 1 6 3 32 2 10 3 15 2 7 1 9 1 1 4 2 2 1 2 57 3 46 2 1 2 21 2 11 2 2 1 11 1 5 3 1 2 110 1 520 2 16 2 7 6 17 2 3000"/>
<path stroke="#fc9684" stroke-width="25.6" d="M1516.6 0V2717" stroke-dasharray="0 525 2 10 2 190 1 194 1 30 2 30 1 20 3 15 2 4 2 22 1 26 1 48 1 180 2 40 2 225 3 8 3 27 3 7 3 10 1 65 2 20 6 15 3 3 2 4 2 16 5 6 3 5 2 11 3 2 2 9 2 5 1 640 1 35 2 45 1 3000"/>
<path stroke="#fdab9c" stroke-width="25.6" d="M1516.6 0V2717" stroke-dasharray="0 626 1 3 2 42 1 204 1 52 2 26 2 6 2 32 5 26 2 105 1 136 2 3 2 70 1 185 1 32 1 4 3 10 1 25 3 8 3 8 2 8 1 9 2 14 1 35 2 12 2 3 3 6 3 15 1 3 2 21 1 10 2 678 2 124 2 3000"/>
<path stroke="#fdc1b4" stroke-width="25.6" d="M1516.6 0V2717" stroke-dasharray="0 516 1 70 1 187 2 2 1 79 1 80 3 104 2 116 1 16 1 20 2 100 1 9 2 185 2 67 2 94 1 17 3 1 2 23 2 42 1 110 2 723 2 3000"/>
<path stroke="#fed5cc" stroke-width="25.6" d="M1516.6 0V2717" stroke-dasharray="0 523 2 344 1 445 1 127 1 239 2 24 2 51 1 31 2 770 2 59 1 3000"/>
<path stroke="#fee9e5" stroke-width="25.6" d="M1516.6 0V2717" stroke-dasharray="0 1713 1 5 3 3000"/>
<path stroke="#fef3ff" stroke-width="25.6" d="M1516.6 0V2717" stroke-dasharray="0 462 1 54 2 91 1 5 2 24 1 2 2 64 2 4 1 12 1 1 1 48 1 55 1 25 2 19 2 192 2 5 2 21 1 35 2 21 2 13 1 6 1 25 1 1260 1 50 1 9 1 54 2 16 2 4 1 26 1 3000"/>
<path stroke="#fa0709" stroke-width="25.6" d="M1542.2 0V2717" stroke-dasharray="0 1747 2 745 2 3000"/>
<path stroke="#fa3727" stroke-width="25.6" d="M1542.2 0V2717" stroke-dasharray="0 1554 2 141 2 22 1 3000"/>
<path stroke="#fb523f" stroke-width="25.6" d="M1542.2 0V2717" stroke-dasharray="0 1596 2 67 1 36 1 84 1 41 1 3000"/>
<path stroke="#fb6a56" stroke-width="25.6" d="M1542.2 0V2717" stroke-dasharray="0 457 2 1114 2 60 2 54 2 120 1 3000"/>
<path stroke="#fc816d" stroke-width="25.6" d="M1542.2 0V2717" stroke-dasharray="0 1643 2 160 1 21 2 3000"/>
<path stroke="#fc9684" stroke-width="25.6" d="M1542.2 0V2717" stroke-dasharray="0 1669 2 14 1 31 1 103 1 12 1 3000"/>
<path stroke="#fdab9c" stroke-width="25.6" d="M1542.2 0V2717" stroke-dasharray="0 1672 2 3000"/>
<path stroke="#fdc1b4" stroke-width="25.6" d="M1542.2 0V2717" stroke-dasharray="0 1570 2 26 2 10 1 51 2 106 2 35 1 16 1 3000"/>
<path stroke="#fed5cc" stroke-width="25.6" d="M1542.2 0V2717" stroke-dasharray="0 1560 1 53 2 3000"/>
<path stroke="#efe4fb" stroke-width="25.6" d="M1567.7 0V2717" stroke-dasharray="0 1271 2 3000"/>
<path stroke="#fa0709" stroke-width="25.6" d="M1567.7 0V2717" stroke-dasharray="0 311 2 448 1 216 1 286 3 440 2 22 1 29 1 439 2 3000"/>
<path stroke="#fa3727" stroke-width="25.6" d="M1567.7 0V2717" stroke-dasharray="0 1279 3 24 2 41 2 225 2 83 1 8 2 669 1 3000"/>
<path stroke="#fb523f" stroke-width="25.6" d="M1567.7 0V2717" stroke-dasharray="0 637 2 639 2 1 3 372 2 157 1 3000"/>
<path stroke="#fb6a56" stroke-width="25.6" d="M1567.7 0V2717" stroke-dasharray="0 817 1 325 1 83 2 75 2 268 1 72 1 6 1 65 2 99 2 590 2 38 2 3000"/>
<path stroke="#fc816d" stroke-width="25.6" d="M1567.7 0V2717" stroke-dasharray="0 239 1 634 2 133 2 171 1 100 1 7 2 365 2 18 2 10 2 56 1 12 1 1 2 499 2 282 2 3000"/>
<path stroke="#fc9684" stroke-width="25.6" d="M1567.7 0V2717" stroke-dasharray="0 404 2 355 2 926 2 102 2 11 1 3000"/>
<path stroke="#fdab9c" stroke-width="25.6" d="M1567.7 0V2717" stroke-dasharray="0 656 1 603 1 18 1 352 2 53 1 51 1 22 2 458 2 394 1 3000"/>
<path stroke="#fdc1b4" stroke-width="25.6" d="M1567.7 0V2717" stroke-dasharray="0 729 2 207 2 386 1 242 1 37 1 166 1 8 2 6 2 616 2 3000"/>
<path stroke="#fed5cc" stroke-width="25.6" d="M1567.7 0V2717" stroke-dasharray="0 1748 2 3000"/>
<path stroke="#fa0709" stroke-width="25.6" d="M1593.2 0V2717" stroke-dasharray="0 503 1 49 2 58 2 10 2 25 2 59 1 78 2 843 1 85 2 3000"/>
<path stroke="#fa3727" stroke-width="25.6" d="M1593.2 0V2717" stroke-dasharray="0 316 1 237 2 36 2 26 1 237 1 706 1 46 1 44 1 53 2 13 2 49 1 36 2 3000"/>
<path stroke="#fb523f" stroke-width="25.6" d="M1593.2 0V2717" stroke-dasharray="0 449 1 11 1 132 1 118 1 37 2 167 1 100 2 413 1 168 2 223 2 3000"/>
<path stroke="#fb6a56" stroke-width="25.6" d="M1593.2 0V2717" stroke-dasharray="0 366 2 22 2 181 2 14 1 18 4 132 2 8 2 34 1 83 1 685 1 17 1 2 2 28 1 3000"/>
<path stroke="#fc816d" stroke-width="25.6" d="M1593.2 0V2717" stroke-dasharray="0 545 2 37 2 51 2 50 2 5 1 9 2 155 2 178 2 560 1 32 2 145 2 3000"/>
<path stroke="#fc9684" stroke-width="25.6" d="M1593.2 0V2717" stroke-dasharray="0 509 2 74 1 59 2 50 1 137 2 16 2 146 1 42 2 223 1 152 1 165 2 13 2 63 1 36 1 73 2 3000"/>
<path stroke="#fdab9c" stroke-width="25.6" d="M1593.2 0V2717" stroke-dasharray="0 479 2 199 2 67 1 24 1 206 2 510 2 107 1 103 1 106 2 3000"/>
<path stroke="#fdc1b4" stroke-width="25.6" d="M1593.2 0V2717" stroke-dasharray="0 705 1 9 1 126 1 197 1 551 2 61 2 93 2 6 1 3000"/>
<path stroke="#fed5cc" stroke-width="25.6" d="M1593.2 0V2717" stroke-dasharray="0 498 1 67 1 313 1 691 2 3000"/>
<rect x="304.0" y="440.0" width="1302.0" height="6.0" fill="#7f7f7f"/>
<rect x="304.0" y="464.0" width="1302.0" height="6.5" fill="#7f7f7f"/>
<rect x="304.0" y="890.5" width="1302.0" height="6.0" fill="#7f7f7f"/>
<rect x="304.0" y="1066.5" width="1302.0" height="6.0" fill="#7f7f7f"/>
<rect x="304.0" y="1252.5" width="1302.0" height="6.0" fill="#7f7f7f"/>
<rect x="304.0" y="1362.5" width="1302.0" height="6.0" fill="#7f7f7f"/>
<rect x="304.0" y="1545.5" width="1302.0" height="6.0" fill="#7f7f7f"/>
<rect x="304.0" y="1841.5" width="1302.0" height="6.0" fill="#7f7f7f"/>
<rect x="304.0" y="1960.5" width="1302.0" height="6.0" fill="#7f7f7f"/>
<rect x="304.0" y="2462.5" width="1302.0" height="6.0" fill="#7f7f7f"/>
<rect x="304.0" y="2550.5" width="1302.0" height="7.0" fill="#7f7f7f"/>
<rect x="304.0" y="2620.5" width="1302.0" height="6.5" fill="#7f7f7f"/>
<rect x="304.0" y="2654.5" width="1302.0" height="5.5" fill="#7f7f7f"/>
<rect x="1629" y="234.0" width="25.5" height="206.0" fill="#F8766D"/>
<rect x="1629" y="446.0" width="25.5" height="18.0" fill="#E18A00"/>
<rect x="1629" y="470.5" width="25.5" height="420.0" fill="#BE9C00"/>
<rect x="1629" y="896.5" width="25.5" height="170.0" fill="#8CAB00"/>
<rect x="1629" y="1072.5" width="25.5" height="180.0" fill="#24B700"/>
<rect x="1629" y="1258.5" width="25.5" height="104.0" fill="#00BE70"/>
<rect x="1629" y="1368.5" width="25.5" height="177.0" fill="#00C1AB"/>
<rect x="1629" y="1551.5" width="25.5" height="290.0" fill="#00BBDA"/>
<rect x="1629" y="1847.5" width="25.5" height="113.0" fill="#00ACFC"/>
<rect x="1629" y="1966.5" width="25.5" height="496.0" fill="#8B93FF"/>
<rect x="1629" y="2468.5" width="25.5" height="82.0" fill="#D575FE"/>
<rect x="1629" y="2557.5" width="25.5" height="63.0" fill="#F962DD"/>
<rect x="1629" y="2627.0" width="25.5" height="27.0" fill="#FF65AC"/>
<rect x="2" y="2417.5" width="47" height="233" fill="url(#eg)"/>
<path d="M2 2452h9.5M39.5 2452h9.5M2 2521h9.5M39.5 2521h9.5M2 2589.5h9.5M39.5 2589.5h9.5" stroke="#fff" stroke-width="1.2" opacity="0.8"/>
</svg>
<div class="cl" style="left:315.1px">AT5G03890–AT5G03890</div>
<div class="cl" style="left:340.6px">AT1G03040–AT1G03040</div>
<div class="cl" style="left:366.1px">AT5G47500–PME68</div>
<div class="cl" style="left:391.7px">AT3G47510–AT3G47510</div>
<div class="cl" style="left:417.2px">AT4G24770–CP31A</div>
<div class="cl" style="left:442.7px">AT5G63140–PAP29</div>
<div class="cl" style="left:468.2px">AT4G10640–IQD16</div>
<div class="cl" style="left:493.8px">AT5G25475–AT5G25475</div>
<div class="cl" style="left:519.3px">AT1G72850–AT1G72850</div>
<div class="cl" style="left:544.8px">AT4G29360–AT4G29360</div>
<div class="cl" style="left:570.4px">AT1G50420–SCL3</div>
<div class="cl" style="left:595.9px">AT4G36930–SPT</div>
<div class="cl" style="left:621.4px">AT2G24130–AT2G24130</div>
<div class="cl" style="left:646.9px">AT5G47910–RBOHD</div>
<div class="cl" style="left:672.5px">AT3G16500–IAA26</div>
<div class="cl" style="left:698.0px">ATCG00040–MATK</div>
<div class="cl" style="left:723.5px">AT1G29980–AT1G29980</div>
<div class="cl" style="left:749.1px">AT5G63160–BT1</div>
<div class="cl" style="left:774.6px">AT3G56770–BHLH107</div>
<div class="cl" style="left:800.1px">AT2G20100–AT2G20100</div>
<div class="cl" style="left:825.7px">AT3G18080–BGLU44</div>
<div class="cl" style="left:851.2px">AT1G56430–NAS4</div>
<div class="cl" style="left:876.7px">AT2G14880–AT2G14880</div>
<div class="cl" style="left:902.2px">AT3G29300–AT3G29300</div>
<div class="cl" style="left:927.8px">AT2G46970–PIL1</div>
<div class="cl" style="left:953.3px">AT5G28640–GIF1</div>
<div class="cl" style="left:978.8px">AT1G28110–SCPL45</div>
<div class="cl" style="left:1004.4px">AT3G02245–AT3G02245</div>
<div class="cl" style="left:1029.9px">AT3G54260–TBL36</div>
<div class="cl" style="left:1055.4px">AT5G53420–AT5G53420</div>
<div class="cl" style="left:1080.9px">AT2G41130–BHLH106</div>
<div class="cl" style="left:1106.5px">AT1G21090–AT1G21090</div>
<div class="cl" style="left:1132.0px">AT1G67810–SUFE2</div>
<div class="cl" style="left:1157.5px">AT3G42800–AT3G42800</div>
<div class="cl" style="left:1183.1px">AT4G16447–AT4G16447</div>
<div class="cl" style="left:1208.6px">AT3G04630–WDL1</div>
<div class="cl" style="left:1234.1px">AT1G73590–PIN1</div>
<div class="cl" style="left:1259.7px">AT5G47590–AT5G47590</div>
<div class="cl" style="left:1285.2px">AT2G21050–LAX2</div>
<div class="cl" style="left:1310.7px">AT5G50090–AT5G50090</div>
<div class="cl" style="left:1336.2px">AT1G23000–AT1G23000</div>
<div class="cl" style="left:1361.8px">AT1G74150–AT1G74150</div>
<div class="cl" style="left:1387.3px">AT3G25710–BHLH32</div>
<div class="cl" style="left:1412.8px">AT5G47600–HSP14.7</div>
<div class="cl" style="left:1438.4px">AT5G35770–SAP</div>
<div class="cl" style="left:1463.9px">AT1G29950–BHLH144</div>
<div class="cl" style="left:1489.4px">AT2G34325–AT2G34325</div>
<div class="cl" style="left:1514.9px">AT1G28070–AT1G28070</div>
<div class="cl" style="left:1540.5px">AT1G80100–AHP6</div>
<div class="cl" style="left:1566.0px">AT2G37210–AT2G37210</div>
<div class="cl" style="left:1591.5px">AT3G53450–LOG4</div>
<div class="rl" style="top:341.0px">Epidermis</div>
<div class="rl" style="top:459.0px">QC</div>
<div class="rl" style="top:684.5px">Pericycle</div>
<div class="rl" style="top:985.5px">Cambium</div>
<div class="rl" style="top:1166.5px">Phloem</div>
<div class="rl" style="top:1314.5px">Xylem</div>
<div class="rl" style="top:1461.0px">Cortex</div>
<div class="rl" style="top:1700.5px">Initials</div>
<div class="rl" style="top:1908.0px">Endodermis</div>
<div class="rl" style="top:2218.5px">Lateral root cap</div>
<div class="rl" style="top:2513.5px">Atrichoblast</div>
<div class="rl" style="top:2593.0px">Columella</div>
<div class="rl" style="top:2644.5px">Trichoblast</div>
<div class="lt" style="top:1655.8px">Identity</div>
<div class="dot" style="top:1717.5px;background:#F8766D"></div>
<div class="li" style="top:1725.2px">Epidermis</div>
<div class="dot" style="top:1764.5px;background:#E18A00"></div>
<div class="li" style="top:1772.2px">QC</div>
<div class="dot" style="top:1811.5px;background:#BE9C00"></div>
<div class="li" style="top:1819.3px">Pericycle</div>
<div class="dot" style="top:1858.5px;background:#8CAB00"></div>
<div class="li" style="top:1866.3px">Cambium</div>
<div class="dot" style="top:1905.6px;background:#24B700"></div>
<div class="li" style="top:1913.3px">Phloem</div>
<div class="dot" style="top:1952.6px;background:#00BE70"></div>
<div class="li" style="top:1960.4px">Xylem</div>
<div class="dot" style="top:1999.6px;background:#00C1AB"></div>
<div class="li" style="top:2007.4px">Cortex</div>
<div class="dot" style="top:2046.7px;background:#00BBDA"></div>
<div class="li" style="top:2054.4px">Initials</div>
<div class="dot" style="top:2093.7px;background:#00ACFC"></div>
<div class="li" style="top:2101.4px">Endodermis</div>
<div class="dot" style="top:2140.7px;background:#8B93FF"></div>
<div class="li" style="top:2148.5px">Lateral root cap</div>
<div class="dot" style="top:2187.8px;background:#D575FE"></div>
<div class="li" style="top:2195.5px">Atrichoblast</div>
<div class="dot" style="top:2234.8px;background:#F962DD"></div>
<div class="li" style="top:2242.5px">Columella</div>
<div class="dot" style="top:2281.8px;background:#FF65AC"></div>
<div class="li" style="top:2289.6px">Trichoblast</div>
<div class="lt" style="top:2371.8px">Expression</div>
<div class="tk" style="top:2452px">2</div>
<div class="tk" style="top:2521px">1</div>
<div class="tk" style="top:2589.5px">0</div>
</body></html>
